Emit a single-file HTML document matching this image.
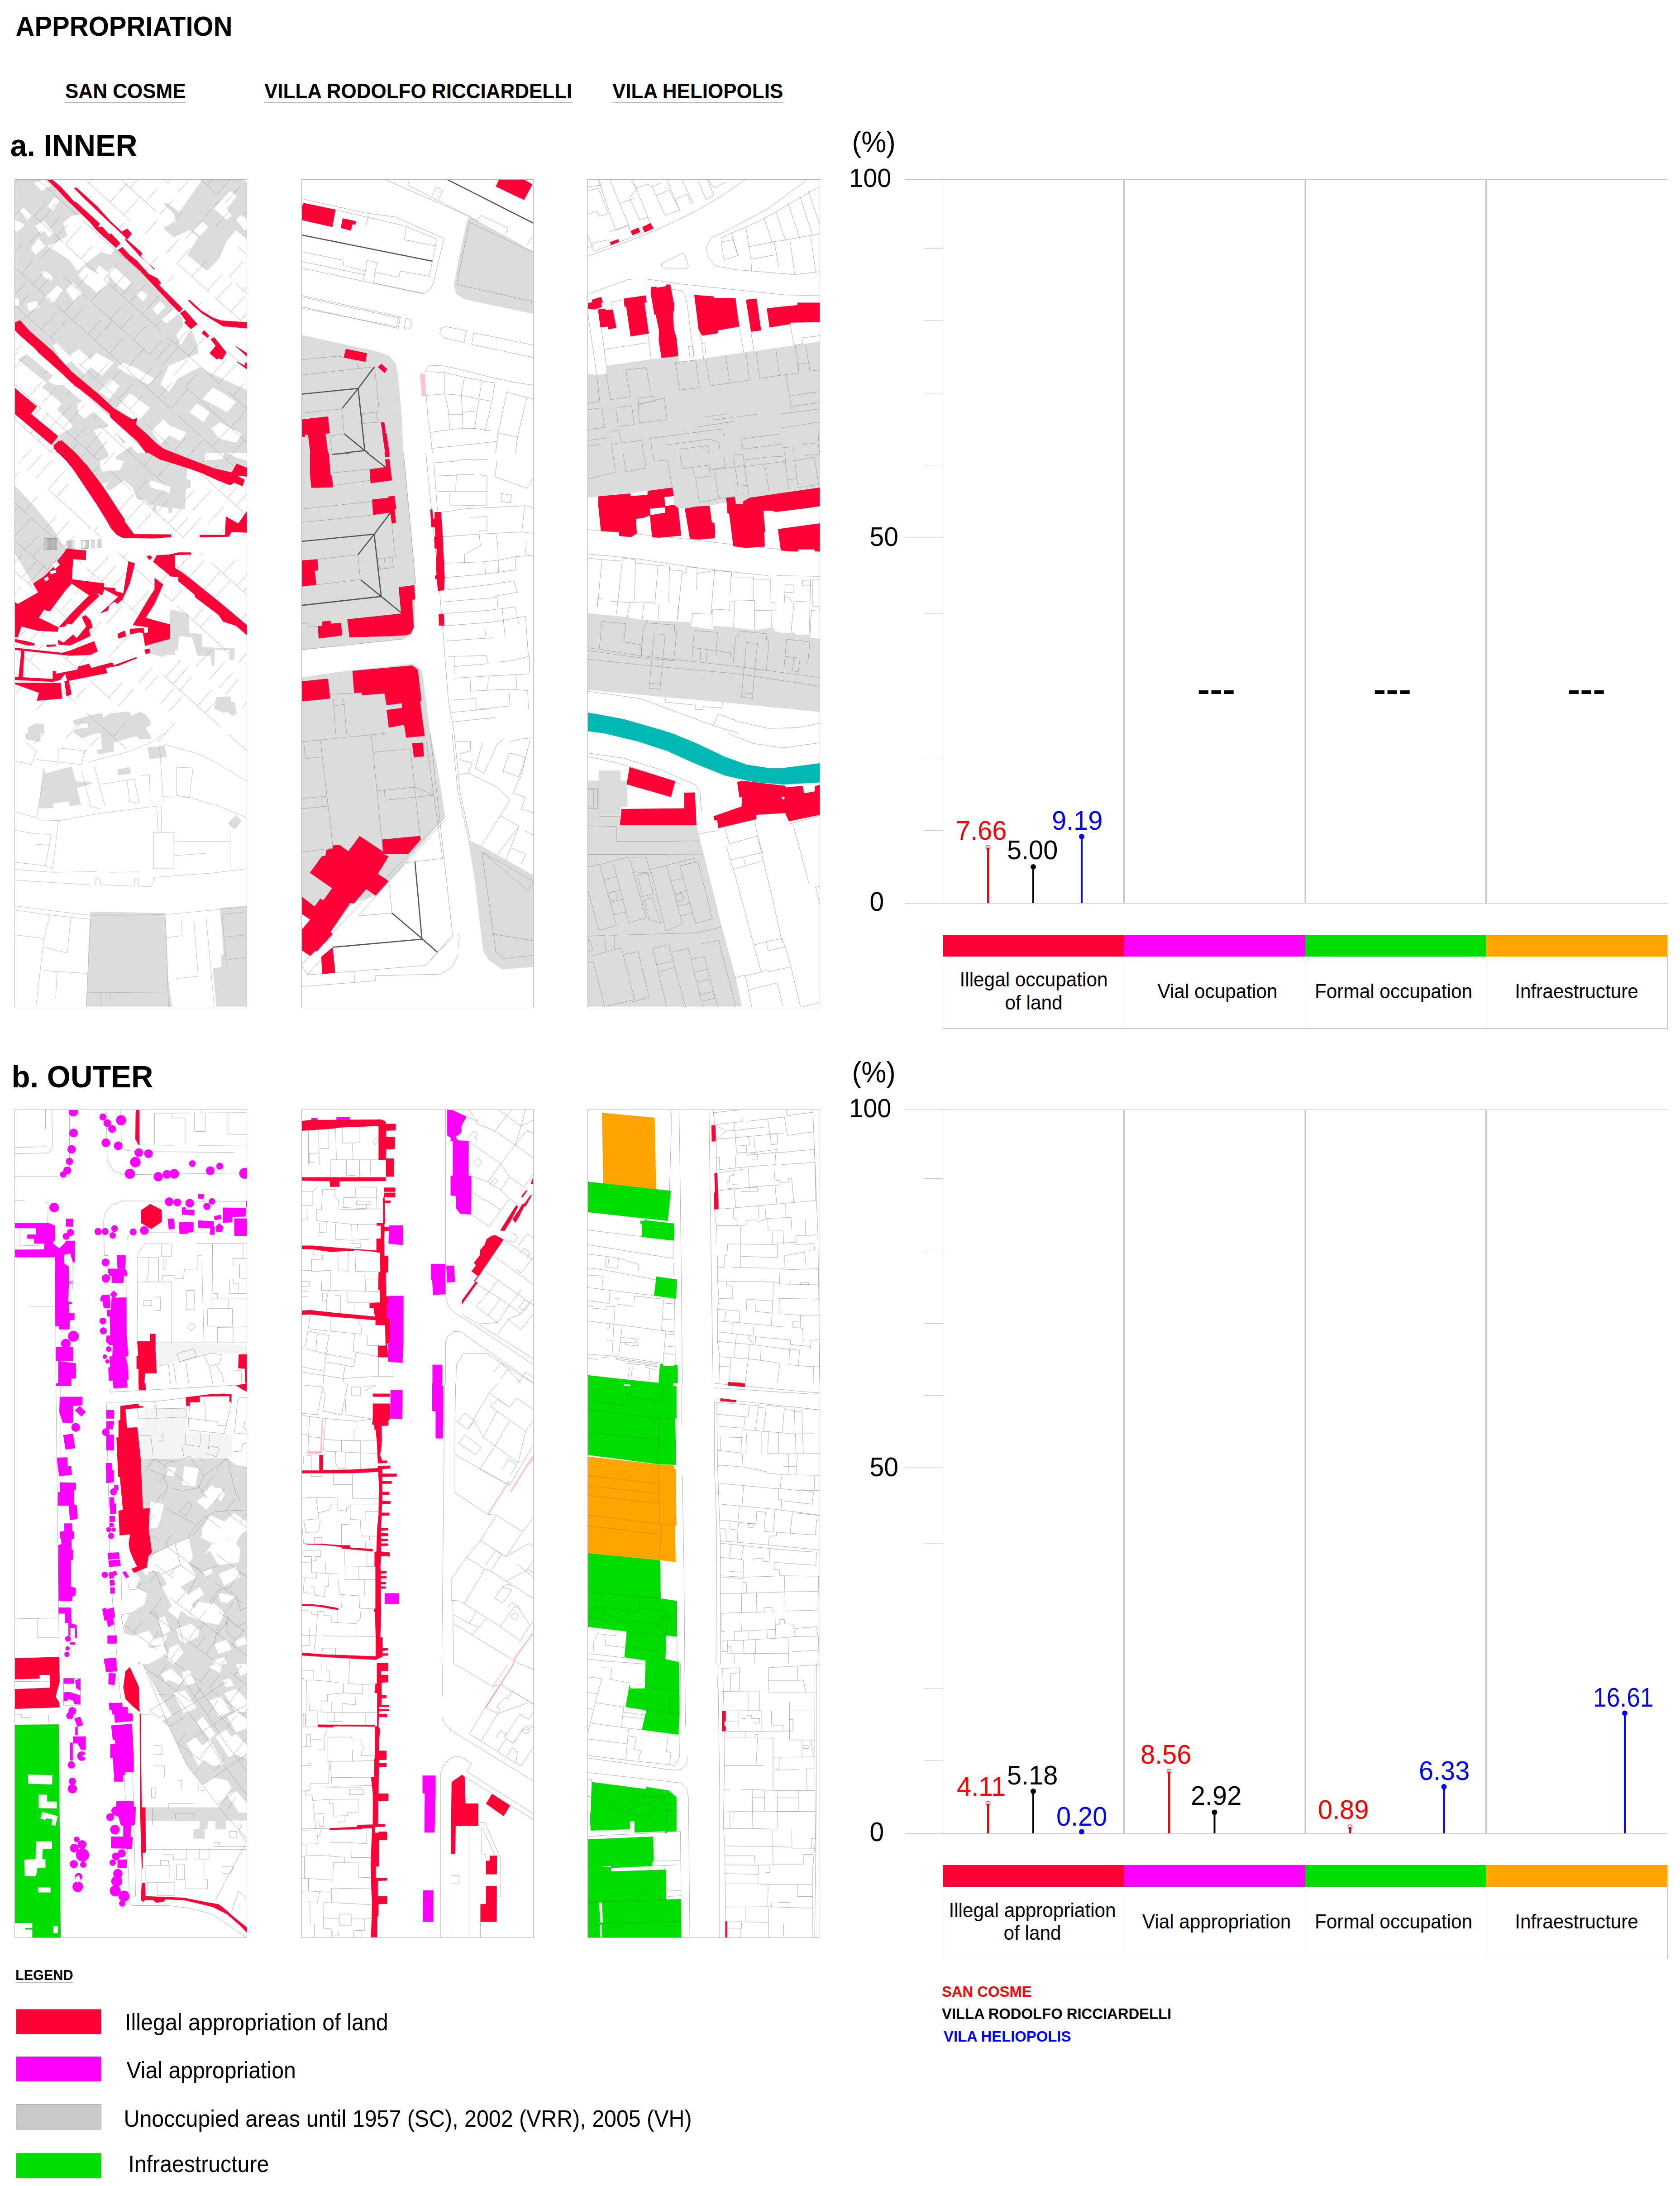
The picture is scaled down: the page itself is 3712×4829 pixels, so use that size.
<!DOCTYPE html>
<html><head><meta charset="utf-8"><title>Appropriation</title>
<style>
html,body{margin:0;padding:0;background:#fff;}
body{width:3712px;height:4829px;overflow:hidden;}
svg{display:block;font-family:"Liberation Sans",sans-serif;}
</style></head><body>
<svg width="3712" height="4829" viewBox="0 0 3712 4829">
<rect width="3712" height="4829" fill="#fff"/>
<text x="34.5" y="78.7" font-size="60.32" font-weight="bold" fill="#000" text-anchor="start" textLength="479.1" lengthAdjust="spacingAndGlyphs">APPROPRIATION</text>
<text x="144" y="217" font-size="45.76" font-weight="bold" fill="#000" text-anchor="start" textLength="266.5" lengthAdjust="spacingAndGlyphs">SAN COSME</text>
<line x1="143" y1="226.5" x2="410" y2="226.5" stroke="#bdbdbd" stroke-width="1.5"/>
<text x="584" y="217" font-size="45.76" font-weight="bold" fill="#000" text-anchor="start" textLength="680.3" lengthAdjust="spacingAndGlyphs">VILLA RODOLFO RICCIARDELLI</text>
<line x1="584" y1="226.5" x2="1266" y2="226.5" stroke="#bdbdbd" stroke-width="1.5"/>
<text x="1353" y="217" font-size="45.76" font-weight="bold" fill="#000" text-anchor="start" textLength="377.3" lengthAdjust="spacingAndGlyphs">VILA HELIOPOLIS</text>
<line x1="1353" y1="226.5" x2="1731" y2="226.5" stroke="#bdbdbd" stroke-width="1.5"/>
<text x="22.5" y="345" font-size="68.64" font-weight="bold" fill="#000" text-anchor="start" textLength="281" lengthAdjust="spacingAndGlyphs">a. INNER</text>
<text x="25.5" y="2402" font-size="68.64" font-weight="bold" fill="#000" text-anchor="start" textLength="313" lengthAdjust="spacingAndGlyphs">b. OUTER</text>
<text x="1882.5" y="336" font-size="64.48" fill="#000" text-anchor="start" textLength="96.4" lengthAdjust="spacingAndGlyphs">(%)</text>
<text x="1876" y="413" font-size="58.24" fill="#000" text-anchor="start" textLength="93.4" lengthAdjust="spacingAndGlyphs">100</text>
<text x="1921.5" y="1206" font-size="59.28" fill="#000" text-anchor="start" textLength="63.4" lengthAdjust="spacingAndGlyphs">50</text>
<text x="1921.5" y="2012" font-size="59.28" fill="#000" text-anchor="start" textLength="31.7" lengthAdjust="spacingAndGlyphs">0</text>
<line x1="2000.5" y1="396.5" x2="3684.5" y2="396.5" stroke="#c6c6c6" stroke-width="1.2"/>
<line x1="2000.5" y1="1995.5" x2="3684.5" y2="1995.5" stroke="#c6c6c6" stroke-width="1.2"/>
<line x1="2000.5" y1="1187" x2="2083" y2="1187" stroke="#c6c6c6" stroke-width="1.2"/>
<line x1="2042" y1="548.5" x2="2083" y2="548.5" stroke="#c6c6c6" stroke-width="1"/>
<line x1="2042" y1="708.5" x2="2083" y2="708.5" stroke="#c6c6c6" stroke-width="1"/>
<line x1="2042" y1="868.5" x2="2083" y2="868.5" stroke="#c6c6c6" stroke-width="1"/>
<line x1="2042" y1="1027.5" x2="2083" y2="1027.5" stroke="#c6c6c6" stroke-width="1"/>
<line x1="2042" y1="1355" x2="2083" y2="1355" stroke="#c6c6c6" stroke-width="1"/>
<line x1="2042" y1="1674.5" x2="2083" y2="1674.5" stroke="#c6c6c6" stroke-width="1"/>
<line x1="2042" y1="1834.5" x2="2083" y2="1834.5" stroke="#c6c6c6" stroke-width="1"/>
<line x1="2083.5" y1="396" x2="2083.5" y2="1996" stroke="#c6c6c6" stroke-width="1.2"/>
<line x1="2483.5" y1="396" x2="2483.5" y2="1996" stroke="#c5c9cc" stroke-width="3"/>
<line x1="2884" y1="396" x2="2884" y2="1996" stroke="#c5c9cc" stroke-width="3"/>
<line x1="3283.5" y1="396" x2="3283.5" y2="1996" stroke="#c5c9cc" stroke-width="3"/>
<rect x="2083" y="2065" width="400.5" height="48" fill="#ff0037"/>
<rect x="2483.5" y="2065" width="400.5" height="48" fill="#ff00ff"/>
<rect x="2884" y="2065" width="399.5" height="48" fill="#00dd00"/>
<rect x="3283.5" y="2065" width="401" height="48" fill="#ffa500"/>
<line x1="2083.5" y1="2113" x2="2083.5" y2="2272.5" stroke="#bdbdbd" stroke-width="1"/>
<line x1="2483.5" y1="2113" x2="2483.5" y2="2272.5" stroke="#bdbdbd" stroke-width="1"/>
<line x1="2883.5" y1="2113" x2="2883.5" y2="2272.5" stroke="#bdbdbd" stroke-width="1"/>
<line x1="3283.5" y1="2113" x2="3283.5" y2="2272.5" stroke="#bdbdbd" stroke-width="1"/>
<line x1="3684.5" y1="2113" x2="3684.5" y2="2272.5" stroke="#bdbdbd" stroke-width="1"/>
<line x1="2083" y1="2272.5" x2="3685" y2="2272.5" stroke="#9c9c9c" stroke-width="1"/>
<text x="2284" y="2179" font-size="43.99" fill="#000" text-anchor="middle" textLength="326.9" lengthAdjust="spacingAndGlyphs">Illegal occupation</text>
<text x="2284" y="2230" font-size="43.99" fill="#000" text-anchor="middle" textLength="127.0" lengthAdjust="spacingAndGlyphs">of land</text>
<text x="2690" y="2205" font-size="43.99" fill="#000" text-anchor="middle" textLength="265.0" lengthAdjust="spacingAndGlyphs">Vial ocupation</text>
<text x="3079" y="2205" font-size="43.99" fill="#000" text-anchor="middle" textLength="348.0" lengthAdjust="spacingAndGlyphs">Formal occupation</text>
<text x="3483.5" y="2205" font-size="43.99" fill="#000" text-anchor="middle" textLength="272.7" lengthAdjust="spacingAndGlyphs">Infraestructure</text>
<circle cx="2183" cy="1872" r="4.6" fill="#fff" stroke="#ff0000" stroke-width="1.3"/>
<line x1="2183" y1="1872.5" x2="2183" y2="1995" stroke="#ff0000" stroke-width="4"/>
<text x="2112" y="1855" font-size="60.01" fill="#ff0000" text-anchor="start" textLength="112.3" lengthAdjust="spacingAndGlyphs">7.66</text>
<line x1="2283" y1="1915" x2="2283" y2="1995" stroke="#000000" stroke-width="4"/>
<circle cx="2283" cy="1915" r="6" fill="#000000"/>
<text x="2225" y="1898" font-size="60.01" fill="#000000" text-anchor="start" textLength="112.3" lengthAdjust="spacingAndGlyphs">5.00</text>
<line x1="2390" y1="1848" x2="2390" y2="1995" stroke="#0000ff" stroke-width="4"/>
<circle cx="2390" cy="1848" r="6" fill="#0000ff"/>
<text x="2324" y="1832.5" font-size="60.01" fill="#0000ff" text-anchor="start" textLength="112.3" lengthAdjust="spacingAndGlyphs">9.19</text>
<text x="2645.5" y="1546" font-size="66" font-weight="bold" fill="#000" text-anchor="start" textLength="83.5" lengthAdjust="spacingAndGlyphs">---</text>
<text x="3034.5" y="1546" font-size="66" font-weight="bold" fill="#000" text-anchor="start" textLength="83.5" lengthAdjust="spacingAndGlyphs">---</text>
<text x="3463.5" y="1546" font-size="66" font-weight="bold" fill="#000" text-anchor="start" textLength="83.5" lengthAdjust="spacingAndGlyphs">---</text>
<text x="1882.5" y="2391" font-size="64.48" fill="#000" text-anchor="start" textLength="96.4" lengthAdjust="spacingAndGlyphs">(%)</text>
<text x="1876" y="2468" font-size="58.24" fill="#000" text-anchor="start" textLength="93.4" lengthAdjust="spacingAndGlyphs">100</text>
<text x="1921.5" y="3261" font-size="59.28" fill="#000" text-anchor="start" textLength="63.4" lengthAdjust="spacingAndGlyphs">50</text>
<text x="1921.5" y="4067" font-size="59.28" fill="#000" text-anchor="start" textLength="31.7" lengthAdjust="spacingAndGlyphs">0</text>
<line x1="2000.5" y1="2451.5" x2="3684.5" y2="2451.5" stroke="#c6c6c6" stroke-width="1.2"/>
<line x1="2000.5" y1="4050.5" x2="3684.5" y2="4050.5" stroke="#c6c6c6" stroke-width="1.2"/>
<line x1="2000.5" y1="3242" x2="2083" y2="3242" stroke="#c6c6c6" stroke-width="1.2"/>
<line x1="2042" y1="2603.5" x2="2083" y2="2603.5" stroke="#c6c6c6" stroke-width="1"/>
<line x1="2042" y1="2763.5" x2="2083" y2="2763.5" stroke="#c6c6c6" stroke-width="1"/>
<line x1="2042" y1="2923.5" x2="2083" y2="2923.5" stroke="#c6c6c6" stroke-width="1"/>
<line x1="2042" y1="3082.5" x2="2083" y2="3082.5" stroke="#c6c6c6" stroke-width="1"/>
<line x1="2042" y1="3410" x2="2083" y2="3410" stroke="#c6c6c6" stroke-width="1"/>
<line x1="2042" y1="3729.5" x2="2083" y2="3729.5" stroke="#c6c6c6" stroke-width="1"/>
<line x1="2042" y1="3889.5" x2="2083" y2="3889.5" stroke="#c6c6c6" stroke-width="1"/>
<line x1="2083.5" y1="2451" x2="2083.5" y2="4051" stroke="#c6c6c6" stroke-width="1.2"/>
<line x1="2483.5" y1="2451" x2="2483.5" y2="4051" stroke="#c5c9cc" stroke-width="3"/>
<line x1="2884" y1="2451" x2="2884" y2="4051" stroke="#c5c9cc" stroke-width="3"/>
<line x1="3283.5" y1="2451" x2="3283.5" y2="4051" stroke="#c5c9cc" stroke-width="3"/>
<rect x="2083" y="4120" width="400.5" height="48" fill="#ff0037"/>
<rect x="2483.5" y="4120" width="400.5" height="48" fill="#ff00ff"/>
<rect x="2884" y="4120" width="399.5" height="48" fill="#00dd00"/>
<rect x="3283.5" y="4120" width="401" height="48" fill="#ffa500"/>
<line x1="2083.5" y1="4168" x2="2083.5" y2="4327.5" stroke="#bdbdbd" stroke-width="1"/>
<line x1="2483.5" y1="4168" x2="2483.5" y2="4327.5" stroke="#bdbdbd" stroke-width="1"/>
<line x1="2883.5" y1="4168" x2="2883.5" y2="4327.5" stroke="#bdbdbd" stroke-width="1"/>
<line x1="3283.5" y1="4168" x2="3283.5" y2="4327.5" stroke="#bdbdbd" stroke-width="1"/>
<line x1="3684.5" y1="4168" x2="3684.5" y2="4327.5" stroke="#bdbdbd" stroke-width="1"/>
<line x1="2083" y1="4327.5" x2="3685" y2="4327.5" stroke="#9c9c9c" stroke-width="1"/>
<text x="2281" y="4234.5" font-size="43.99" fill="#000" text-anchor="middle" textLength="369.2" lengthAdjust="spacingAndGlyphs">Illegal appropriation</text>
<text x="2281" y="4284.5" font-size="43.99" fill="#000" text-anchor="middle" textLength="127.0" lengthAdjust="spacingAndGlyphs">of land</text>
<text x="2688" y="4260" font-size="43.99" fill="#000" text-anchor="middle" textLength="328.4" lengthAdjust="spacingAndGlyphs">Vial appropriation</text>
<text x="3079" y="4260" font-size="43.99" fill="#000" text-anchor="middle" textLength="348.0" lengthAdjust="spacingAndGlyphs">Formal occupation</text>
<text x="3483.5" y="4260" font-size="43.99" fill="#000" text-anchor="middle" textLength="272.7" lengthAdjust="spacingAndGlyphs">Infraestructure</text>
<circle cx="2183" cy="3984" r="4.6" fill="#fff" stroke="#ff0000" stroke-width="1.3"/>
<line x1="2183" y1="3984.5" x2="2183" y2="4050" stroke="#ff0000" stroke-width="4"/>
<text x="2114" y="3967" font-size="60.01" fill="#ff0000" text-anchor="start" textLength="108.0" lengthAdjust="spacingAndGlyphs">4.11</text>
<line x1="2283" y1="3957" x2="2283" y2="4050" stroke="#000000" stroke-width="4"/>
<circle cx="2283" cy="3957" r="6" fill="#000000"/>
<text x="2225" y="3941.5" font-size="60.01" fill="#000000" text-anchor="start" textLength="112.3" lengthAdjust="spacingAndGlyphs">5.18</text>
<line x1="2390" y1="4046.5" x2="2390" y2="4050" stroke="#0000ff" stroke-width="4"/>
<circle cx="2390" cy="4046.5" r="6" fill="#0000ff"/>
<text x="2334" y="4032.5" font-size="60.01" fill="#0000ff" text-anchor="start" textLength="112.3" lengthAdjust="spacingAndGlyphs">0.20</text>
<circle cx="2583" cy="3913" r="4.6" fill="#fff" stroke="#ff0000" stroke-width="1.3"/>
<line x1="2583" y1="3913.5" x2="2583" y2="4050" stroke="#ff0000" stroke-width="4"/>
<text x="2520" y="3896" font-size="60.01" fill="#ff0000" text-anchor="start" textLength="112.3" lengthAdjust="spacingAndGlyphs">8.56</text>
<line x1="2683.5" y1="4003.5" x2="2683.5" y2="4050" stroke="#000000" stroke-width="4"/>
<circle cx="2683.5" cy="4003.5" r="6" fill="#000000"/>
<text x="2631" y="3987" font-size="60.01" fill="#000000" text-anchor="start" textLength="112.3" lengthAdjust="spacingAndGlyphs">2.92</text>
<circle cx="2983" cy="4035.5" r="4.6" fill="#fff" stroke="#ff0000" stroke-width="1.3"/>
<line x1="2983" y1="4036.0" x2="2983" y2="4050" stroke="#ff0000" stroke-width="4"/>
<text x="2912" y="4018" font-size="60.01" fill="#ff0000" text-anchor="start" textLength="112.3" lengthAdjust="spacingAndGlyphs">0.89</text>
<line x1="3190.5" y1="3947" x2="3190.5" y2="4050" stroke="#0000ff" stroke-width="4"/>
<circle cx="3190.5" cy="3947" r="6" fill="#0000ff"/>
<text x="3135" y="3932" font-size="60.01" fill="#0000ff" text-anchor="start" textLength="112.3" lengthAdjust="spacingAndGlyphs">6.33</text>
<line x1="3590" y1="3784.5" x2="3590" y2="4050" stroke="#0000ff" stroke-width="4"/>
<circle cx="3590" cy="3784.5" r="6" fill="#0000ff"/>
<text x="3520" y="3770" font-size="60.01" fill="#0000ff" text-anchor="start" textLength="133.5" lengthAdjust="spacingAndGlyphs">16.61</text>
<text x="2081" y="4410.5" font-size="34.11" font-weight="bold" fill="#ff0000" text-anchor="start" textLength="198.6" lengthAdjust="spacingAndGlyphs">SAN COSME</text>
<text x="2081" y="4460" font-size="34.11" font-weight="bold" fill="#000000" text-anchor="start" textLength="507.2" lengthAdjust="spacingAndGlyphs">VILLA RODOLFO RICCIARDELLI</text>
<text x="2085" y="4509.5" font-size="34.11" font-weight="bold" fill="#0000ff" text-anchor="start" textLength="281.3" lengthAdjust="spacingAndGlyphs">VILA HELIOPOLIS</text>
<text x="34" y="4374" font-size="31.82" font-weight="bold" fill="#000" text-anchor="start" textLength="127.5" lengthAdjust="spacingAndGlyphs">LEGEND</text>
<line x1="34" y1="4379.5" x2="163" y2="4379.5" stroke="#bdbdbd" stroke-width="1.5"/>
<rect x="35.5" y="4438.5" width="188.3" height="54.7" fill="#ff0037"/>
<rect x="35.5" y="4543" width="188.3" height="55" fill="#ff00ff"/>
<rect x="35.5" y="4648.5" width="188" height="55.5" fill="#c9c9c9" stroke="#9e9e9e" stroke-width="1"/>
<rect x="35.5" y="4756.3" width="188.3" height="55.2" fill="#00dd00"/>
<text x="276" y="4485" font-size="51.36" fill="#000" text-anchor="start" textLength="581.8" lengthAdjust="spacingAndGlyphs">Illegal appropriation of land</text>
<text x="279.5" y="4590.5" font-size="51.09" fill="#000" text-anchor="start" textLength="374.3" lengthAdjust="spacingAndGlyphs">Vial appropriation</text>
<text x="273.5" y="4697.5" font-size="51.25" fill="#000" text-anchor="start" textLength="1255.0" lengthAdjust="spacingAndGlyphs">Unoccupied areas until 1957 (SC), 2002 (VRR), 2005 (VH)</text>
<text x="283.5" y="4798" font-size="51.09" fill="#000" text-anchor="start" textLength="310.8" lengthAdjust="spacingAndGlyphs">Infraestructure</text>
<defs><clipPath id="cp_a1"><rect x="32.5" y="396.5" width="513.0" height="1828.0"/></clipPath><clipPath id="cp_a2"><rect x="666.5" y="396.5" width="512.0" height="1828.0"/></clipPath><clipPath id="cp_a3"><rect x="1298.5" y="396.5" width="513.0" height="1828.0"/></clipPath><clipPath id="cp_b1"><rect x="32.5" y="2451.5" width="513.0" height="1829.0"/></clipPath><clipPath id="cp_b2"><rect x="666.5" y="2451.5" width="512.0" height="1829.0"/></clipPath><clipPath id="cp_b3"><rect x="1298.5" y="2451.5" width="513.0" height="1829.0"/></clipPath></defs>
<g clip-path="url(#cp_a1)">
<rect x="32.5" y="396.5" width="513.0" height="1828.0" fill="#fff"/>
<polygon points="32.2,396.1 102.9,396.1 256.2,547.8 309.3,598.6 376.8,670.9 421.8,727.1 437.9,765.7 434.6,807.5 463.6,823.6 545.9,862.1 545.9,1000.0 32.2,1000.0" fill="#dcdcdc"/>
<polygon points="447.5,396.1 545.9,396.1 545.9,486.1 534.3,473.2 521.4,486.1 540.7,508.6 545.9,507.0 545.9,529.5 521.4,508.6 502.1,531.1 482.9,572.9 457.1,598.6 413.8,563.2 437.9,524.6 418.6,508.6 383.2,524.6 360.7,503.8 389.6,489.3 383.2,471.6 360.7,449.1 370.4,449.1 396.1,468.4" fill="#dcdcdc"/>
<polygon points="32.2,1072.3 52.1,1086.8 68.2,1109.3 84.3,1128.6 116.4,1167.1 132.5,1192.9 142.1,1208.9 147.0,1213.8 126.1,1239.5 97.1,1273.2 73.0,1289.3 32.2,1221.8" fill="#dcdcdc"/>
<polygon points="167.9,1000.0 241.8,1000.0 238.6,1009.6 219.3,1019.3 225.7,1041.8 264.3,1038.6 273.9,1019.3 254.6,1012.9 257.9,1000.0 331.8,1000.0 351.1,1012.9 402.5,1030.5 413.8,1033.8 412.1,1057.9 421.8,1061.1 421.8,1077.1 410.5,1080.4 408.9,1125.4 380.0,1122.1 380.0,1133.4 372.0,1133.4 372.0,1122.1 346.2,1117.3 344.6,1130.2 336.6,1128.6 338.2,1115.7 327.0,1114.1 322.1,1106.1 302.9,1102.9 293.2,1077.1 273.9,1061.1 248.2,1080.4 238.6,1083.6 232.1,1075.5 241.8,1064.3 225.7,1069.1 212.9,1064.3 193.6,1028.9" fill="#dcdcdc"/>
<polygon points="450.7,1019.3 460.4,1000.0 495.7,1000.0 492.5,1012.9 476.4,1009.6 470.0,1022.5" fill="#dcdcdc"/>
<polygon points="375.2,1348.8 383.2,1347.1 417.0,1356.8 418.6,1398.6 445.9,1400.2 447.5,1429.1 473.2,1430.7 518.2,1432.3 518.2,1458.0 507.0,1458.0 507.0,1435.5 474.8,1435.5 473.2,1472.5 468.4,1470.9 465.2,1448.4 436.3,1448.4 425.0,1408.2 396.1,1405.0 392.9,1435.5 386.4,1437.1 386.4,1446.8 367.1,1446.8 367.1,1411.4 375.2,1411.4" fill="#dcdcdc"/>
<polygon points="328.6,1424.3 367.1,1411.4 367.1,1446.8 360.7,1451.6 331.8,1443.6 331.8,1432.3" fill="#dcdcdc"/>
<polygon points="161.4,1591.4 206.4,1578.6 225.7,1575.4 228.9,1585.0 245.0,1575.4 286.8,1572.1 290.0,1581.8 309.3,1572.1 322.1,1578.6 331.8,1591.4 333.4,1601.1 322.1,1607.5 328.6,1620.0 161.4,1620.0 166.2,1610.7 193.6,1607.5 193.6,1597.9 164.6,1601.1" fill="#dcdcdc"/>
<polygon points="61.8,1607.5 77.9,1597.9 97.1,1599.5 97.1,1620.0 61.8,1620.0" fill="#dcdcdc"/>
<polygon points="478.0,1540.0 510.2,1538.4 510.2,1549.6 518.2,1551.2 523.0,1575.4 515.0,1581.8 498.9,1570.5 495.7,1575.4 473.2,1565.7" fill="#dcdcdc"/>
<polygon points="55.4,1620.0 89.1,1620.0 89.1,1639.3 57.0,1632.9" fill="#dcdcdc"/>
<polygon points="166.2,1620.0 212.9,1620.0 180.7,1631.2" fill="#dcdcdc"/>
<polygon points="222.5,1620.0 331.8,1620.0 333.4,1632.9 306.1,1632.9 302.9,1626.4 283.6,1631.2 251.4,1639.3 251.4,1660.2 216.1,1666.6 212.9,1657.0 225.7,1653.8 224.1,1636.1" fill="#dcdcdc"/>
<polygon points="325.4,1650.5 363.9,1647.3 368.8,1671.4 330.2,1677.2" fill="#dcdcdc"/>
<polygon points="95.5,1694.6 100.4,1708.4 158.2,1693.3 167.9,1726.1 201.6,1727.7 203.2,1730.9 169.5,1740.5 179.1,1777.5 155.0,1780.7 151.8,1771.1 118.0,1774.3 118.0,1785.5 85.9,1785.5 92.3,1726.1" fill="#dcdcdc"/>
<polygon points="259.5,1699.7 286.8,1693.9 289.4,1708.4 261.1,1713.2" fill="#dcdcdc"/>
<polygon points="503.8,1819.3 520.8,1800.6 534.3,1812.9 518.9,1832.8" fill="#dcdcdc"/>
<polygon points="199.4,2013.8 365.5,2017.0 372.0,2166.4 380.6,2223.6 190.4,2223.6 195.2,2102.1" fill="#dcdcdc"/>
<polygon points="486.1,2005.7 545.9,2000.9 545.9,2223.6 478.0,2223.6 470.0,2139.1 489.3,2135.9 487.7,2110.2 494.1,2108.6" fill="#dcdcdc"/>
<polygon points="354.3,1000.1 545.9,1000.1 545.9,1033.9 523.0,1025.2 511.8,1050.9 470.0,1033.2 402.5,1007.5 383.2,1000.1" fill="#dcdcdc"/>
<polygon points="473.2,460.4 508.6,421.8 523.0,433.0 502.1,460.4 511.8,476.4 500.5,486.1" fill="#ffffff"/>
<polygon points="426.6,508.6 447.5,489.3 460.4,502.1 441.1,521.4" fill="#ffffff"/>
<polygon points="531.1,396.1 545.9,396.1 545.9,405.7" fill="#ffffff"/>
<polygon points="74.6,404.1 95.5,396.7 113.2,408.9 92.3,421.8" fill="#ffffff"/>
<polygon points="105.2,455.5 121.3,434.6 130.9,444.3 116.4,466.1" fill="#ffffff"/>
<polygon points="44.1,465.2 52.1,458.8 69.8,476.4 60.2,486.1" fill="#ffffff"/>
<polygon points="32.2,486.1 55.4,495.7 39.3,511.8 32.2,508.6" fill="#ffffff"/>
<polygon points="77.9,498.9 97.1,487.7 119.6,515.0 106.8,524.6 98.8,510.2 89.1,515.0" fill="#ffffff"/>
<polygon points="138.9,492.5 158.2,476.4 187.1,473.2 212.9,508.6 256.2,547.8 245.0,563.2 222.5,556.8 193.6,579.3 171.1,598.6 151.8,572.9 116.4,550.4 103.6,543.9 126.1,534.3 148.6,521.4" fill="#ffffff"/>
<polygon points="68.2,548.8 84.3,526.2 89.1,531.1 100.4,543.9 77.9,563.2" fill="#ffffff"/>
<polygon points="90.7,601.8 98.8,597.0 116.4,611.4 113.2,621.1 97.1,611.4" fill="#ffffff"/>
<polygon points="172.7,608.2 187.1,588.9 209.6,601.8 219.3,585.7 238.6,601.8 251.4,588.9 277.1,611.4 290.0,624.3 273.9,640.4 257.9,627.5 238.6,605.0 241.8,624.3 212.9,646.8 200.0,633.9 190.4,627.5" fill="#ffffff"/>
<polygon points="145.4,640.4 161.4,624.3 182.3,646.8 163.0,666.1" fill="#ffffff"/>
<polygon points="100.4,656.4 126.1,630.7 138.9,640.4 116.4,670.9" fill="#ffffff"/>
<polygon points="58.6,670.9 81.1,664.5 87.5,678.9 63.4,687.0" fill="#ffffff"/>
<polygon points="32.2,659.6 40.9,659.6 42.5,675.7 32.2,675.7" fill="#ffffff"/>
<polygon points="301.2,650.0 312.5,640.4 327.0,653.2 315.7,666.1" fill="#ffffff"/>
<polygon points="336.6,682.1 354.3,666.1 365.5,677.3 347.9,696.6" fill="#ffffff"/>
<polygon points="355.9,704.6 383.2,683.8 397.7,691.1 367.1,714.3" fill="#ffffff"/>
<polygon points="399.3,693.4 421.8,727.1 399.3,762.5 389.6,740.0 405.7,717.5" fill="#ffffff"/>
<polygon points="32.2,730.4 39.3,736.8 84.3,778.6 155.0,842.9 245.0,923.2 322.1,1000.0 164.6,1000.0 127.7,965.0 68.2,913.6 81.1,897.5 32.2,857.3" fill="#ffffff"/>
<polygon points="116.4,762.5 126.1,756.1 155.0,785.0 174.3,770.5 200.0,794.6 212.9,778.6 251.4,801.1 225.7,830.0 200.0,810.7 187.1,826.8 158.2,797.9 142.1,807.5" fill="#ffffff"/>
<polygon points="257.9,810.7 273.9,801.1 302.9,813.9 341.4,836.4 328.6,849.3 302.9,836.4 277.1,823.6" fill="#ffffff"/>
<polygon points="373.6,807.5 405.7,794.6 434.6,781.8 447.5,807.5 392.9,836.4 373.6,865.4 354.3,849.3" fill="#ffffff"/>
<polygon points="434.6,762.5 470.0,740.0 545.9,817.1 545.9,830.0 521.4,836.4 463.6,823.6" fill="#ffffff"/>
<polygon points="219.3,865.4 245.0,836.4 264.3,852.5 241.8,881.4" fill="#ffffff"/>
<polygon points="257.9,900.7 286.8,868.6 331.8,900.7 309.3,926.4 293.2,926.4" fill="#ffffff"/>
<polygon points="335.0,952.1 360.7,926.4 373.6,939.3 412.1,955.4 399.3,974.6 373.6,961.8 354.3,981.1" fill="#ffffff"/>
<polygon points="418.6,910.4 434.6,891.1 463.6,910.4 450.7,932.9" fill="#ffffff"/>
<polygon points="447.5,881.4 470.0,855.7 492.5,868.6 521.4,887.9 502.1,910.4" fill="#ffffff"/>
<polygon points="466.8,945.7 486.1,932.9 534.3,958.6 521.4,977.9 482.9,968.2" fill="#ffffff"/>
<polygon points="171.1,923.2 190.4,900.7 212.9,920.0 193.6,942.5" fill="#ffffff"/>
<polygon points="212.9,961.8 232.1,942.5 264.3,968.2 245.0,987.5" fill="#ffffff"/>
<polygon points="333.4,1061.1 376.8,1075.5 375.2,1088.4 333.4,1077.1 328.6,1069.1" fill="#ffffff"/>
<polygon points="32.2,914.3 68.2,914.3 93.9,965.7 113.2,981.8 119.6,991.4 145.4,1017.1 187.1,1075.0 238.6,1149.9 106.8,1149.9 68.2,1110.4 32.2,1071.8" fill="#ffffff"/>
<polygon points="453.9,1001.1 495.7,1001.1 492.5,1013.9 450.7,1017.1" fill="#ffffff"/>
<polygon points="502.1,1000.1 545.9,1000.1 545.9,1017.1 521.4,1010.7" fill="#ffffff"/>
<polygon points="39.3,794.6 58.6,781.8 116.4,830.0 103.6,846.1" fill="#dcdcdc"/>
<polygon points="92.3,855.7 106.8,842.9 148.6,862.1 126.1,881.4" fill="#dcdcdc"/>
<polygon points="135.7,981.1 164.6,942.5 225.7,900.7 245.0,923.2 200.0,958.6 174.3,1000.0 148.6,1000.0" fill="#dcdcdc"/>
<polygon points="127.7,962.5 155.0,946.4 161.4,940.0 126.1,904.6 135.7,891.8 93.9,850.0 161.4,850.0 187.1,866.1 212.9,885.4 241.8,912.7 245.0,920.7 264.3,936.8 309.3,975.4 328.6,1001.1 328.6,1004.3 167.9,1004.3 135.7,972.1" fill="#dcdcdc"/>
<polygon points="171.1,891.8 193.6,882.1 216.1,904.6 200.0,914.3 187.1,925.5 172.7,912.7" fill="#ffffff"/>
<polygon points="206.4,949.6 245.0,940.0 270.7,978.6 302.9,975.4 257.9,1007.5 241.8,1007.5 228.9,985.0" fill="#ffffff"/>
<path d="M97.8 1189.6 L97.8 1213.8 M99.7 1189.6 L99.7 1213.8 M101.6 1189.6 L101.6 1213.8 M103.6 1189.6 L103.6 1213.8 M105.5 1189.6 L105.5 1213.8 M107.4 1189.6 L107.4 1213.8 M109.4 1189.6 L109.4 1213.8 M111.3 1189.6 L111.3 1213.8 M113.2 1189.6 L113.2 1213.8 M115.1 1189.6 L115.1 1213.8 M117.1 1189.6 L117.1 1213.8 M119.0 1189.6 L119.0 1213.8 M120.9 1189.6 L120.9 1213.8 M122.9 1189.6 L122.9 1213.8 M124.8 1189.6 L124.8 1213.8 M97.8 1189.6 L126.1 1189.6 M97.8 1213.8 L126.1 1213.8 M147.9 1194.8 L147.9 1212.1 M149.9 1194.8 L149.9 1212.1 M151.8 1194.8 L151.8 1212.1 M153.7 1194.8 L153.7 1212.1 M155.6 1194.8 L155.6 1212.1 M157.6 1194.8 L157.6 1212.1 M159.5 1194.8 L159.5 1212.1 M161.4 1194.8 L161.4 1212.1 M163.4 1194.8 L163.4 1212.1 M165.3 1194.8 L165.3 1212.1 M147.9 1194.8 L166.2 1194.8 M147.9 1212.1 L166.2 1212.1 M179.8 1193.5 L179.8 1211.5 M181.7 1193.5 L181.7 1211.5 M183.6 1193.5 L183.6 1211.5 M185.5 1193.5 L185.5 1211.5 M187.5 1193.5 L187.5 1211.5 M189.4 1193.5 L189.4 1211.5 M191.3 1193.5 L191.3 1211.5 M193.2 1193.5 L193.2 1211.5 M195.2 1193.5 L195.2 1211.5 M179.8 1193.5 L195.2 1193.5 M179.8 1211.5 L195.2 1211.5 M201.9 1192.9 L201.9 1210.5 M203.9 1192.9 L203.9 1210.5 M205.8 1192.9 L205.8 1210.5 M207.7 1192.9 L207.7 1210.5 M209.6 1192.9 L209.6 1210.5 M201.9 1192.9 L209.6 1192.9 M201.9 1210.5 L209.6 1210.5 M216.1 1192.2 L216.1 1210.5 M218.0 1192.2 L218.0 1210.5 M219.9 1192.2 L219.9 1210.5 M221.9 1192.2 L221.9 1210.5 M223.8 1192.2 L223.8 1210.5 M216.1 1192.2 L224.4 1192.2 M216.1 1210.5 L224.4 1210.5" fill="none" stroke="#707070" stroke-width="0.6"/>
<path d="M32.2 1944.0 L142.1 1951.1 L200.0 1954.3 M32.2 2000.9 L116.4 2012.1 L200.0 2021.8 L277.1 2021.8 L365.5 2020.2 L470.0 2010.5 L545.9 2002.5 M32.2 2010.5 L116.4 2021.8 L200.0 2030.8 M339.2 1838.6 L384.2 1838.6 L384.2 1918.9 L339.2 1918.9 L339.2 1838.6 M384.2 1859.5 L508.6 1858.5 M508.6 1812.9 L508.6 1914.1 M384.2 1890.0 L453.9 1885.2 M129.3 1812.9 L174.3 1804.8 L232.1 1795.2 L346.2 1780.7 L349.5 1838.6 M355.9 1777.5 L356.9 1838.6 M32.2 1904.5 L100.4 1912.5 L116.4 1918.9 L129.3 1812.9 M192.0 2193.1 L371.3 2191.5 M223.1 2193.1 L223.1 2223.6 M243.4 2193.1 L243.4 2213.0 M200.0 2030.8 L192.0 2193.1 L190.4 2223.6 M365.5 2028.2 L371.3 2191.5 L372.6 2223.6 M545.9 1918.9 L470.0 1928.6 L402.5 1933.4 L339.8 1938.2 L338.2 1951.1 L333.4 1959.1 L305.4 1957.5 L305.4 1939.8 L298.0 1939.8 L296.4 1957.5 L222.5 1954.3 L220.9 1939.8 L212.2 1939.8 L211.2 1954.3 M32.2 1920.5 L116.4 1927.0 L212.9 1925.4 M241.8 1927.0 L309.3 1926.0 M32.2 1681.1 L68.2 1689.1 L81.1 1658.6 L55.4 1639.3 M79.5 1677.9 L180.7 1689.1 L187.1 1658.6 L129.3 1652.1 L127.7 1689.1 M193.6 1684.3 L290.0 1658.6 L335.0 1639.3 L362.3 1620.0 M362.3 1644.1 L437.9 1665.0 L476.4 1684.3 L545.9 1726.1 M32.2 1793.6 L81.1 1806.4 L93.9 1726.1 M81.1 1811.2 L129.3 1812.9 M32.2 1833.8 L77.9 1841.8 L113.2 1843.4 L100.4 1912.5 M74.6 1864.3 L110.0 1867.5 M32.2 2065.2 L97.1 2073.2 L110.0 2021.8 M97.1 2073.2 L79.5 2223.6 M156.6 2025.0 L148.6 2105.4 L97.1 2092.5 M95.5 2143.9 L193.6 2150.4 M126.1 2145.5 L122.9 2205.0 M400.9 2028.2 L402.5 2066.8 L367.1 2071.6 M428.2 2034.6 L436.3 2134.3 L437.9 2156.8 L389.6 2161.6 M455.5 2028.2 L465.2 2134.3 L473.2 2223.6 M490.9 2020.2 L545.9 2013.8 M495.7 2070.0 L545.9 2065.2 M500.5 2119.8 L545.9 2115.0 M490.9 2020.2 L500.5 2134.3 M389.6 1694.6 L426.6 1696.5 L418.6 1761.4 L389.6 1756.6 L389.6 1694.6 M362.3 1759.8 L418.6 1761.4 L482.9 1780.7 L545.9 1806.4 M310.9 1713.2 L330.2 1711.6 L331.8 1769.5 L360.7 1769.5 L352.7 1650.5 M208.0 1692.3 L232.1 1780.7 M180.7 1702.0 L200.0 1780.7 L222.5 1787.1 M222.5 1732.5 L296.4 1721.2 L307.7 1774.3 L286.8 1771.1 L280.4 1722.9" fill="none" stroke="#a6a6a6" stroke-width="0.7"/>
<path d="M74.5 1643.5L98.0 1617.5 M35.5 1531.6L59.2 1505.4 M78.3 1570.4L115.0 1529.9 M145.5 1631.3L181.2 1591.8 M183.5 1665.6L218.3 1627.1 M-15.8 1387.2L95.4 1487.9 M106.9 1498.3L168.9 1554.5 M191.0 1574.5L279.7 1654.8 M26.2 1425.3L57.1 1391.2 M43.0 1440.5L81.7 1397.8 M63.8 1459.3L96.1 1423.6 M142.7 1530.8L174.8 1495.3 M162.4 1548.6L189.5 1518.7 M249.4 1627.3L278.1 1595.6 M-9.5 1314.5L61.4 1378.6 M138.4 1448.4L194.2 1498.9 M198.6 1502.8L245.1 1544.9 M12.7 1334.5L44.6 1299.3 M32.9 1352.8L60.4 1322.5 M57.6 1375.2L91.7 1337.6 M71.2 1387.5L110.2 1344.4 M89.8 1404.3L122.1 1368.6 M146.2 1455.4L185.4 1412.1 M169.3 1476.3L199.7 1442.6 M192.3 1497.2L217.8 1469.1 M240.4 1540.7L269.9 1508.0 M261.5 1559.8L296.1 1521.6 M348.7 1638.8L386.4 1597.2 M-4.1 1228.8L154.5 1372.3 M22.9 1253.2L48.4 1225.0 M48.0 1276.0L78.8 1242.0 M62.8 1289.4L101.2 1247.0 M83.9 1308.5L110.8 1278.8 M103.6 1326.2L127.6 1299.6 M131.6 1351.7L157.9 1322.6 M160.6 1377.9L188.9 1346.6 M192.5 1406.7L223.9 1372.0 M241.2 1450.9L277.7 1410.5 M305.4 1509.0L337.0 1474.0 M321.6 1523.6L349.8 1492.5 M354.9 1553.8L385.0 1520.5 M373.7 1570.8L401.0 1540.7 M22.9 1185.5L139.2 1290.8 M361.5 1492.1L488.1 1606.7 M504.7 1621.8L647.2 1750.8 M0.1 1164.9L40.2 1120.6 M27.8 1189.9L68.1 1145.3 M55.6 1215.1L83.5 1184.3 M72.0 1230.0L109.4 1188.6 M103.9 1258.9L130.7 1229.3 M165.3 1314.5L203.0 1272.9 M197.1 1343.2L226.4 1310.8 M234.9 1377.5L268.3 1340.6 M275.1 1413.8L308.8 1376.6 M365.6 1495.8L398.1 1459.9 M382.4 1511.0L416.4 1473.5 M397.5 1524.7L423.9 1495.5 M436.0 1559.5L467.4 1524.9 M453.5 1575.4L477.0 1549.5 M544.3 1657.6L575.4 1623.3 M-40.6 1044.8L61.8 1137.5 M66.8 1142.1L179.0 1243.6 M190.4 1254.0L304.5 1357.2 M313.5 1365.4L366.6 1413.5 M4.2 1085.4L43.0 1042.6 M53.2 1129.7L82.6 1097.2 M97.7 1170.0L124.2 1140.7 M119.0 1189.3L152.9 1151.9 M141.0 1209.2L164.5 1183.2 M167.1 1232.9L191.0 1206.6 M205.0 1267.2L240.6 1227.9 M224.4 1284.7L256.9 1248.8 M243.5 1302.0L276.5 1265.6 M292.1 1346.1L329.5 1304.8 M352.2 1400.5L382.2 1367.3 M432.9 1473.5L470.2 1432.4 M462.7 1500.5L497.6 1461.9 M483.8 1519.6L514.6 1485.6 M498.4 1532.8L527.7 1500.5 M533.7 1564.8L563.8 1531.5 M109.1 1083.5L201.5 1167.2 M209.0 1174.0L260.2 1220.3 M261.2 1221.2L379.8 1328.6 M390.8 1338.5L506.0 1442.8 M41.7 1022.5L69.2 992.1 M60.6 1039.6L91.9 1005.1 M79.1 1056.3L116.3 1015.3 M106.7 1081.3L148.1 1035.5 M124.8 1097.7L151.1 1068.7 M208.1 1173.2L237.6 1140.6 M249.1 1210.3L283.4 1172.5 M272.5 1231.5L311.9 1187.9 M344.3 1296.5L383.4 1253.3 M379.7 1328.5L403.6 1302.1 M425.7 1370.2L450.9 1342.3 M442.8 1385.6L467.9 1357.9 M527.9 1462.7L555.6 1432.1 M-20.7 877.6L133.4 1017.1 M146.9 1029.4L236.0 1110.0 M315.9 1182.4L467.9 1320.0 M483.3 1334.0L566.1 1408.9 M14.2 909.2L38.7 882.2 M31.5 924.9L59.9 893.5 M52.0 943.4L90.6 900.9 M67.4 957.3L106.4 914.3 M85.2 973.5L122.9 931.7 M112.2 997.9L136.4 971.2 M135.3 1018.9L171.7 978.8 M155.2 1036.9L190.4 998.0 M186.5 1065.2L217.0 1031.6 M259.4 1131.2L294.9 1092.0 M280.0 1149.9L317.2 1108.9 M301.8 1169.6L334.2 1133.8 M349.0 1212.3L380.8 1177.2 M395.1 1254.1L434.7 1210.4 M418.2 1275.0L450.9 1238.9 M449.8 1303.6L486.7 1262.9 M472.1 1323.8L507.8 1284.3 M528.1 1374.5L555.5 1344.2 M-58.1 767.6L90.2 901.9 M99.8 910.6L219.9 1019.3 M239.1 1036.7L292.0 1084.6 M296.0 1088.2L449.6 1227.3 M467.4 1243.4L570.8 1337.0 M0.2 820.4L40.4 776.0 M14.2 833.1L55.2 787.9 M63.1 877.3L92.6 844.8 M86.4 898.4L123.3 857.7 M123.6 932.1L157.2 895.1 M139.1 946.1L176.8 904.5 M165.6 970.2L189.7 943.6 M190.3 992.5L225.5 953.7 M206.6 1007.3L236.4 974.3 M228.2 1026.8L254.6 997.7 M298.7 1090.7L324.9 1061.8 M330.0 1119.0L363.2 1082.4 M346.0 1133.4L372.4 1104.3 M371.2 1156.3L401.3 1123.0 M388.9 1172.3L416.0 1142.3 M405.0 1186.9L444.2 1143.6 M493.3 1266.8L520.9 1236.3 M523.3 1294.0L551.5 1262.8 M537.3 1306.6L570.1 1270.4 M219.3 939.2L366.8 1072.8 M36.5 773.7L59.9 747.8 M96.0 827.6L121.2 799.7 M146.3 873.1L186.5 828.7 M179.5 903.2L204.3 875.7 M206.6 927.8L247.4 882.7 M228.0 947.1L262.9 908.6 M249.6 966.7L285.3 927.3 M283.1 997.0L313.1 963.8 M318.1 1028.7L356.6 986.1 M346.6 1054.5L378.1 1019.6 M406.1 1108.3L430.2 1081.7 M426.6 1126.9L467.3 1082.0 M459.7 1156.9L493.8 1119.3 M485.9 1180.6L516.4 1146.8 M515.8 1207.7L544.3 1176.1 M-56.7 593.6L99.0 734.5 M104.4 739.4L157.0 787.1 M173.8 802.3L298.5 915.2 M316.4 931.4L374.0 983.5 M388.3 996.5L547.2 1140.4 M21.3 664.3L56.2 625.8 M37.7 679.1L62.3 652.0 M61.0 700.1L99.0 658.1 M90.9 727.3L125.8 688.8 M111.8 746.2L145.5 708.9 M179.2 807.2L203.2 780.7 M209.8 834.9L242.4 798.9 M232.5 855.5L267.4 817.0 M261.9 882.1L292.6 848.2 M286.6 904.4L314.2 874.0 M385.9 994.3L411.8 965.8 M409.3 1015.5L445.6 975.5 M432.7 1036.7L459.6 1007.0 M455.0 1056.9L481.9 1027.1 M484.6 1083.7L516.0 1049.1 M502.3 1099.8L529.4 1069.9 M521.6 1117.2L557.7 1077.3 M6.7 568.1L158.3 705.4 M160.7 707.5L275.1 811.1 M279.5 815.1L377.9 904.3 M392.1 917.0L520.2 1033.0 M521.7 1034.4L651.8 1152.3 M16.2 576.8L50.4 539.0 M47.3 604.9L71.7 577.9 M72.7 627.9L103.4 594.1 M86.2 640.1L110.1 613.8 M141.5 690.1L176.7 651.3 M159.4 706.4L184.8 678.3 M194.4 738.1L224.2 705.1 M209.8 752.0L248.6 709.1 M241.9 781.1L272.0 747.9 M278.6 814.3L319.7 768.8 M309.0 841.8L333.8 814.4 M324.8 856.1L359.1 818.3 M349.7 878.7L380.5 844.6 M376.6 903.0L416.6 858.8 M469.0 986.7L504.7 947.2 M501.1 1015.8L540.5 972.4 M541.6 1052.4L569.6 1021.5 M139.1 609.5L195.3 660.4 M204.4 668.7L330.4 782.8 M409.8 854.7L552.8 984.1 M13.7 496.0L43.7 462.9 M63.0 540.7L90.5 510.3 M92.9 567.7L132.1 524.4 M168.3 636.0L194.8 606.7 M200.8 665.4L225.8 637.9 M243.6 704.1L268.4 676.8 M267.0 725.3L294.1 695.3 M295.0 750.7L320.6 722.4 M330.2 782.5L356.9 753.0 M343.7 794.8L376.5 758.6 M357.6 807.4L394.4 766.7 M382.8 830.2L415.3 794.4 M409.6 854.4L435.7 825.6 M509.3 944.8L543.6 906.9 M542.7 974.9L570.1 944.7 M74.7 476.6L140.6 536.3 M146.2 541.4L218.6 607.0 M230.3 617.5L354.9 730.3 M371.3 745.2L489.7 852.3 M504.6 865.8L643.6 991.7 M-4.2 405.2L33.1 363.9 M15.8 423.3L54.1 380.9 M75.2 477.1L102.2 447.2 M88.8 489.4L125.4 449.0 M108.2 507.0L131.7 481.0 M125.4 522.5L148.9 496.5 M143.8 539.2L180.1 499.1 M179.0 571.1L204.5 542.9 M229.7 617.0L262.6 580.6 M250.1 635.5L282.2 600.0 M269.2 652.7L294.2 625.1 M286.1 668.0L320.9 629.7 M314.9 694.1L352.7 652.4 M344.4 720.8L376.8 685.1 M387.7 760.0L413.9 731.0 M416.4 786.0L452.8 745.7 M465.9 830.8L500.0 793.2 M483.5 846.7L521.5 804.8 M514.4 874.7L539.5 846.9 M542.4 900.1L568.4 871.4 M-21.5 301.9L113.9 424.4 M116.2 426.6L169.0 474.3 M180.8 485.0L323.8 614.5 M327.7 618.0L462.7 740.2 M470.2 747.0L529.2 800.4 M166.0 471.7L201.4 432.7 M204.1 506.1L233.6 473.5 M235.6 534.7L274.3 491.9 M314.0 605.6L349.3 566.7 M353.9 641.7L383.5 609.1 M417.2 699.1L446.8 666.4 M436.1 716.2L465.4 683.7 M468.3 745.4L493.0 718.1 M498.1 772.3L529.9 737.2 M189.5 398.2L289.3 488.6 M390.7 580.5L463.2 646.1 M474.7 656.5L539.9 715.5 M196.9 404.9L232.3 365.8 M243.0 446.7L281.9 403.8 M273.9 474.7L309.6 435.3 M320.3 516.7L347.1 487.2 M367.3 559.2L396.6 526.9 M391.3 580.9L421.3 547.8 M424.4 611.0L457.5 574.5 M458.4 641.7L490.5 606.3 M479.1 660.5L513.6 622.4 M509.9 688.3L540.0 655.0 M531.8 708.2L571.8 664.0 M255.1 385.8L344.1 466.4 M520.6 626.2L682.3 772.6 M287.3 415.0L316.9 382.2 M321.3 445.8L347.2 417.1 M352.7 474.2L379.5 444.6 M377.1 496.3L403.6 467.1 M411.1 527.1L448.8 485.5 M505.6 612.6L538.7 576.0 M537.9 641.8L563.1 614.0 M296.7 337.8L373.1 407.0 M526.1 545.5L688.1 692.2 M370.2 404.4L406.1 364.7 M393.1 425.1L417.8 397.8 M452.2 478.6L484.8 442.7 M476.4 500.5L512.0 461.2 M376.3 336.2L478.5 428.7 M444.1 397.6L471.4 367.4 M457.5 409.7L482.6 382.0 M479.0 429.2L511.6 393.1 M498.7 447.0L531.5 410.8 M533.9 478.8L566.5 442.7 M533.4 394.9L664.5 513.5" fill="none" stroke="#8c8c8c" stroke-width="0.7"/>
<polygon points="116.4,396.1 155.0,396.1 212.9,453.9 269.1,511.8 310.9,560.0 341.4,593.8 415.4,662.9 447.5,693.4 476.4,711.1 492.5,720.7 545.9,725.5 545.9,780.2 518.2,762.5 500.5,778.6 473.2,744.8 452.3,730.4 436.3,715.9 408.9,684.7 355.9,625.9 347.9,614.6 302.9,576.1 270.1,545.5 265.9,537.5 245.0,515.0 221.9,495.1 169.5,447.5 134.1,412.1" fill="#ffffff"/>
<polygon points="32.2,728.8 39.3,736.8 84.3,778.6 155.0,842.9 245.0,923.2 322.1,1000.0 302.9,1000.0 225.7,926.4 142.1,852.5 71.4,788.2 32.2,749.6" fill="#ffffff"/>
<polygon points="106.8,1000.0 129.3,1000.0 161.4,1025.7 180.7,1061.1 212.9,1109.3 245.0,1167.1 257.9,1181.6 270.7,1188.0 545.9,1187.1 545.9,1225.0 421.8,1220.2 394.5,1220.2 346.2,1226.6 323.8,1228.9 264.3,1218.6 225.7,1212.1 225.7,1180.0 200.0,1135.0 164.6,1077.1 142.1,1038.6" fill="#ffffff"/>
<polygon points="102.9,396.1 114.8,396.1 134.1,412.1 163.0,444.3 169.5,447.5 220.9,494.1 216.1,502.1 225.7,500.5 241.8,518.2 245.0,515.0 265.9,537.5 256.2,547.8 212.9,508.6 200.0,492.5 171.1,464.2 148.6,442.7 126.1,418.6" fill="#ff0037"/>
<polygon points="163.7,416.0 168.5,413.8 212.9,453.9 245.0,489.3 269.1,511.8 281.0,504.7 291.6,516.6 281.0,528.8 273.9,521.4 225.7,476.4 187.1,439.5" fill="#ff0037"/>
<polygon points="277.1,526.2 286.8,534.3 314.1,558.4 310.9,566.4 341.4,593.8 339.8,595.4 328.6,582.5 310.9,568.0 277.1,531.1" fill="#ff0037"/>
<polygon points="260.4,552.0 270.1,545.5 286.8,563.2 302.9,576.1 328.6,605.0 347.9,614.6 355.9,625.9 351.1,629.1 404.1,682.1 396.1,690.2 376.8,670.9 309.3,598.6 277.1,569.6" fill="#ff0037"/>
<polygon points="397.7,691.8 408.9,684.7 436.3,715.9 421.8,727.1 407.3,712.7 410.5,707.9" fill="#ff0037"/>
<polygon points="415.4,662.9 418.6,661.9 444.3,685.4 470.0,701.4 489.3,707.9 545.9,711.7 545.9,725.5 492.5,720.7 476.4,711.1 447.5,693.4 425.0,674.1" fill="#ff0037"/>
<polygon points="449.1,730.4 452.3,730.4 462.0,741.6 458.8,746.4 445.9,736.8" fill="#ff0037"/>
<polygon points="465.2,749.6 473.2,744.8 500.5,778.6 490.9,794.6 482.9,791.4 479.6,794.6 462.9,780.2 476.4,764.1" fill="#ff0037"/>
<polygon points="518.2,762.5 545.9,780.2 545.9,788.2 521.4,765.7" fill="#ff0037"/>
<polygon points="523.0,797.9 540.7,807.5 540.7,801.1 545.9,801.1 545.9,816.5 534.3,807.5 524.6,801.1" fill="#ff0037"/>
<polygon points="32.2,712.7 44.1,707.2 65.0,730.4 116.4,775.4 158.2,820.4 219.3,871.8 264.3,913.6 293.2,926.4 302.9,923.2 299.6,939.3 330.2,968.2 373.6,1000.0 322.1,1000.0 302.9,974.6 245.0,923.2 241.8,913.6 200.0,878.2 155.0,842.9 138.9,826.8 84.3,778.6 77.9,770.5 39.3,736.8 32.2,728.8" fill="#ff0037"/>
<polygon points="32.2,857.3 81.1,897.5 68.2,913.6 127.7,965.0 113.2,982.7 92.3,965.0 32.2,913.6" fill="#ff0037"/>
<polygon points="118.0,984.3 130.9,973.0 163.0,1000.0 126.1,1000.0" fill="#ff0037"/>
<polygon points="129.3,1000.0 164.6,1000.0 193.6,1028.9 212.9,1064.3 241.8,1106.1 296.4,1180.0 378.4,1180.6 378.4,1186.4 338.2,1189.6 270.7,1188.0 257.9,1181.6 245.0,1167.1 212.9,1109.3 180.7,1061.1 161.4,1025.7 145.4,1016.1" fill="#ff0037"/>
<polygon points="331.8,1000.0 354.3,1000.0 405.7,1019.3 511.8,1043.4 523.0,1024.1 545.9,1033.8 545.9,1053.0 521.4,1049.8 540.7,1059.5 535.9,1073.9 516.6,1065.9 508.6,1072.3 495.7,1065.9 444.3,1041.8 402.5,1030.5 351.1,1012.9" fill="#ff0037"/>
<polygon points="498.9,1140.5 526.2,1156.5 545.9,1128.6 545.9,1176.8 511.8,1175.2 505.4,1185.8 441.1,1187.1 441.1,1181.6 497.3,1181.6" fill="#ff0037"/>
<polygon points="147.0,1212.1 190.4,1216.0 189.7,1237.2 161.4,1235.3 158.2,1279.6 138.9,1276.4 126.1,1239.5 140.5,1221.8" fill="#ff0037"/>
<polygon points="126.1,1239.5 140.5,1221.8 161.4,1235.3 158.2,1289.3 143.8,1305.4 110.0,1350.4 97.1,1347.1 85.9,1364.8 129.3,1385.7 127.7,1395.4 84.3,1393.8 47.3,1384.1 39.3,1408.2 32.2,1408.2 32.2,1329.5 39.3,1334.3 84.3,1308.6 73.0,1289.3 97.1,1273.2 116.4,1253.9" fill="#ff0037"/>
<polygon points="158.2,1279.6 228.9,1288.6 230.5,1297.3 254.6,1298.9 254.6,1305.4 272.3,1310.2 259.5,1334.3 251.4,1327.9 261.1,1318.2 230.5,1302.1 225.7,1315.0 212.9,1310.2 196.8,1315.0 158.2,1289.3" fill="#ff0037"/>
<polygon points="196.8,1315.0 212.9,1310.2 219.3,1316.6 180.7,1353.6 158.2,1379.3 148.6,1377.7 143.8,1384.1 129.3,1385.7 161.4,1350.4" fill="#ff0037"/>
<polygon points="283.6,1239.5 298.0,1244.3 286.8,1289.3 270.7,1324.6 259.5,1334.3 272.3,1310.2" fill="#ff0037"/>
<polygon points="220.9,1355.2 261.1,1318.2 270.7,1324.6 254.6,1327.9 241.8,1337.5 238.6,1348.8" fill="#ff0037"/>
<polygon points="127.7,1413.0 140.5,1419.5 161.4,1401.8 169.5,1409.8 190.4,1384.1 180.7,1363.2 188.8,1358.4 200.0,1369.6 204.8,1385.7 196.8,1390.5 200.0,1405.0 155.0,1425.9 129.3,1424.3" fill="#ff0037"/>
<polygon points="32.2,1430.7 137.3,1442.0 155.0,1437.1 208.0,1416.2 216.1,1438.8 200.0,1446.8 155.0,1448.4 137.3,1446.8 32.2,1435.5" fill="#ff0037"/>
<polygon points="102.0,1424.3 122.9,1423.6 122.9,1428.1 103.6,1429.1" fill="#ff0037"/>
<polygon points="32.2,1411.4 58.6,1416.2 76.2,1421.1 76.2,1425.9 61.8,1425.9 32.2,1417.9" fill="#ff0037"/>
<polygon points="47.3,1435.5 53.8,1436.2 50.5,1495.0 40.9,1495.0" fill="#ff0037"/>
<polygon points="32.2,1495.0 116.4,1499.8 116.4,1482.1 122.9,1482.1 122.9,1488.6 171.1,1478.9 172.7,1472.5 196.8,1466.1 201.6,1475.7 248.2,1462.9 251.4,1469.3 301.2,1451.6 302.9,1453.9 261.1,1470.9 233.8,1475.7 237.0,1487.0 148.6,1504.6 143.8,1488.6 134.1,1501.4 116.4,1506.2 32.2,1502.1" fill="#ff0037"/>
<polygon points="32.2,1507.9 134.1,1508.8 137.3,1543.2 81.1,1548.0 85.9,1530.4 32.2,1511.1" fill="#ff0037"/>
<polygon points="142.1,1504.6 151.8,1503.0 158.2,1533.6 147.0,1538.4" fill="#ff0037"/>
<polygon points="341.4,1276.4 360.7,1290.9 341.4,1334.3 322.1,1364.8 375.2,1379.3 375.2,1411.4 328.6,1424.3 320.5,1427.5 315.7,1398.6 307.7,1397.0 286.8,1401.8 286.8,1388.9 317.3,1387.3 318.9,1398.6 327.0,1397.0 327.0,1385.7 293.2,1380.9 328.6,1321.4 341.4,1302.1" fill="#ff0037"/>
<polygon points="259.5,1400.2 275.5,1392.8 278.8,1405.6 261.7,1410.8" fill="#ff0037"/>
<polygon points="318.9,1435.5 330.2,1432.3 331.8,1442.0 322.1,1445.2" fill="#ff0037"/>
<polygon points="323.8,1228.9 331.8,1226.6 336.6,1231.4 330.2,1237.2" fill="#ff0037"/>
<polygon points="394.5,1220.2 421.8,1220.2 421.8,1225.0 386.4,1226.6 386.4,1253.9 405.7,1266.8 434.6,1289.3 482.9,1327.9 545.9,1380.9 545.9,1403.4 521.4,1382.5 492.5,1372.9 482.9,1358.4 431.4,1319.8 429.8,1313.4 392.9,1282.9 394.5,1274.8 375.2,1273.2 373.6,1270.0 338.2,1241.1 346.2,1226.6 373.6,1225.0" fill="#ff0037"/>
<polygon points="161.4,850.0 190.4,850.0 212.9,869.3 245.0,898.2 293.2,927.1 302.9,923.9 299.6,936.8 328.6,962.5 354.3,988.2 402.5,1007.5 470.0,1033.2 511.8,1050.9 523.0,1025.2 545.9,1033.2 545.9,1052.5 521.4,1050.9 540.7,1060.5 535.9,1073.4 516.6,1065.4 508.6,1071.8 482.9,1062.1 444.3,1044.5 402.5,1030.0 354.3,1015.5 328.6,1001.1 309.3,975.4 264.3,936.8 245.0,920.7 241.8,912.7 212.9,885.4 187.1,866.1" fill="#ff0037"/>
<polygon points="32.2,856.4 81.1,898.2 68.2,914.3 127.7,962.5 113.2,981.8 93.9,965.7 32.2,914.3" fill="#ff0037"/>
<polygon points="118.0,989.8 135.7,972.1 167.9,1001.1 193.6,1030.0 225.7,1071.8 277.1,1149.9 235.4,1149.9 212.9,1113.6 187.1,1075.0 161.4,1036.4 145.4,1017.1" fill="#ff0037"/>
<polygon points="114.8,1247.5 126.1,1239.5 132.5,1247.5 121.3,1257.1" fill="#ffffff"/>
<polygon points="110.0,1262.0 122.9,1258.8 124.5,1265.2 111.6,1268.4" fill="#ffffff"/>
<polygon points="97.1,1278.0 105.2,1273.2 108.4,1279.6 100.4,1284.5" fill="#ffffff"/>
</g>
<rect x="32.5" y="396.5" width="513.0" height="1828.0" fill="none" stroke="#b4b4b4" stroke-width="1"/>
<g clip-path="url(#cp_a2)">
<rect x="666.5" y="396.5" width="512.0" height="1828.0" fill="#fff"/>
<polygon points="1037.3,478.0 1178.8,555.2 1178.8,693.4 1026.1,661.2 1008.4,650.0 1002.9,630.7 1013.2,572.9 1030.9,490.9" fill="#dcdcdc"/>
<polygon points="666.1,740.0 830.0,775.4 858.9,785.0 873.4,801.1 878.9,823.6 887.9,923.2 891.1,1000.0 666.1,1000.0" fill="#dcdcdc"/>
<polygon points="666.1,1000.0 891.7,1000.0 897.5,1057.9 907.1,1160.7 916.8,1266.8 918.4,1289.3 915.2,1385.7 907.1,1403.4 894.3,1411.4 666.1,1435.5" fill="#dcdcdc"/>
<polygon points="666.1,1496.6 765.7,1482.1 910.4,1466.1 923.2,1472.5 932.9,1482.1 950.5,1620.0 666.1,1620.0" fill="#dcdcdc"/>
<polygon points="666.1,1620.0 950.5,1620.0 966.6,1693.9 983.6,1804.8 858.9,1946.2 830.0,1978.4 778.6,1996.1 730.4,2058.8 685.4,2111.8 666.1,2098.9" fill="#dcdcdc"/>
<polygon points="1034.1,1854.6 1064.6,1869.1 1178.8,1933.4 1178.8,2135.9 1109.6,2141.4 1080.7,2121.4 1067.9,2102.1 1064.6,2076.4 1048.6,1941.4" fill="#dcdcdc"/>
<polygon points="666.1,2018.6 685.4,2031.4 666.1,2053.9" fill="#ffffff"/>
<path d="M985.9 395.4 L1178.8 493.1 M665.4 518.9 L955.4 577.0 M665.4 870.8 L791.4 858.0 L827.4 810.1 M791.4 858.0 L756.1 902.3 M791.4 858.0 L805.9 995.5 L760.9 958.6 M762.5 1000.0 L805.9 995.5 L813.9 1000.0" fill="none" stroke="#555555" stroke-width="2.6"/>
<path d="M666.1 438.8 L804.3 470.0 L875.0 479.6 L939.3 508.6 L981.1 526.2 L958.6 621.1 L952.1 637.1 L937.7 648.4 L825.2 624.9 M666.1 556.1 L757.7 574.5 L759.3 587.3 L768.9 588.9 M773.8 590.5 L807.5 598.6 L810.7 575.1 L833.2 579.9 L828.4 601.8 L881.4 612.1 L884.6 598.6 L948.9 610.5 L964.4 529.5 M666.1 577.7 L804.3 606.6 M666.1 592.1 L936.1 649.4 M802.7 619.5 L807.5 598.6 M825.2 624.9 L828.4 601.8 M813.9 476.4 L807.5 501.5 M741.6 463.6 L894.3 498.9 L965.0 527.9 M897.5 500.5 L893.6 529.5 L963.4 543.3 M849.3 396.1 L1037.3 478.0 M903.9 399.3 L900.7 408.9 L1055.0 487.7 M953.8 433.0 L965.0 413.8 L978.5 421.1 L968.2 441.7 M1055.0 487.7 L1063.0 475.8 L1122.5 503.8 L1117.7 516.6 M1164.3 540.7 L1177.1 521.4 M666.1 652.6 L884.6 699.8 L879.8 725.5 L666.1 677.3 M666.1 655.8 L880.8 702.4 L876.9 721.7 L666.1 680.5 M984.3 721.4 L1030.9 730.4 L1025.4 756.7 L981.1 746.4 L971.4 736.8 L974.6 725.5 L984.3 721.4 M1047.0 735.2 L1178.8 762.5 M1042.1 760.9 L1178.8 789.8 M1047.0 735.2 L1042.1 760.9 M897.5 703.0 L907.1 706.2 L910.4 715.9 L905.5 725.5 L892.7 727.8 L897.5 703.0 M1037.3 490.9 L1178.8 558.4 M1037.3 490.9 L1009.4 628.1 L1178.8 666.7 M939.3 820.4 L948.9 806.9 L981.1 808.1 L1019.6 817.1 L1090.4 834.8 L1135.4 844.5 L1178.8 850.9 M939.3 821.0 L982.7 822.9 L1026.1 833.2 L1064.6 841.2 L1093.6 846.1 M932.2 874.4 L982.7 870.2 L1019.6 873.4 L1058.2 881.4 L1087.1 886.2 M982.7 822.9 L982.7 870.2 L990.7 907.1 L993.9 947.3 M1026.1 833.2 L1019.6 873.4 L1022.9 947.3 M1064.6 841.2 L1058.2 881.4 L1048.6 947.3 M1093.6 846.1 L1087.1 886.2 L1071.1 955.4 M1120.9 862.1 L1100.0 958.6 L1095.2 1000.0 M1164.3 878.2 L1145.0 958.6 L1138.6 1000.0 M1120.9 867.0 L1178.8 881.4 M950.5 955.4 L1006.8 947.3 L1048.6 946.4 L1085.5 952.1 M952.1 990.7 L1045.4 981.1 L1100.0 974.6 M941.9 873.4 L945.7 926.4 L950.5 955.4 L955.4 1000.0 M1100.0 957.0 L1145.0 965.0 M990.7 915.2 L1022.9 915.2 M1022.9 910.4 L1051.8 908.8 M666.1 794.6 L746.4 786.6 L788.2 796.2 L790.5 814.6 M666.1 828.4 L827.4 810.1 L838.0 908.8 L831.6 910.4 L833.9 932.9 L802.7 935.4 L801.1 913.6 L831.6 910.4 M674.1 912.0 L754.5 903.3 L760.9 958.6 L728.8 962.4 L733.6 1000.0" fill="none" stroke="#8c8c8c" stroke-width="0.7"/>
<path d="M732.9 1003.9 L775.4 1000.0 M810.7 1000.0 L851.9 1032.1 M665.4 1196.1 L826.8 1180.0 L862.8 1132.4 M826.8 1180.0 L790.8 1225.6 M826.8 1180.0 L842.2 1317.6 L797.2 1281.2 M842.2 1317.6 L665.4 1337.5 M842.2 1317.6 L887.2 1354.2" fill="none" stroke="#555555" stroke-width="2.6"/>
<path d="M736.8 1044.4 L852.5 1032.1 M736.1 1072.3 L818.8 1061.1 M666.1 1124.7 L822.9 1107.7 M666.1 1154.3 L823.6 1137.6 M701.4 1235.3 L790.8 1225.6 L796.2 1280.3 L698.9 1291.9 M862.8 1132.4 L873.4 1229.8 L836.4 1234.6 L839.0 1257.1 L869.2 1253.9 L867.3 1232.1 M849.3 1234.0 L851.2 1255.9 M666.1 1377.7 L682.1 1376.1 L683.8 1385.1 L702.1 1384.1 M666.1 1435.5 L894.3 1411.4 M736.1 1543.2 L741.6 1620.0 M759.3 1543.2 L765.7 1620.0 M736.8 1559.3 L760.9 1556.1 M730.4 1533.6 L797.9 1530.4 M891.7 1000.0 L918.4 1289.3 M940.9 1000.0 L950.5 1096.4 L971.4 1305.4 L990.7 1546.4 L1003.6 1620.0 M958.6 1022.5 L1002.0 1019.3 L1022.9 1014.5 L1047.0 1016.1 L1077.5 1014.5 M958.6 1022.5 L966.6 1128.6 M965.0 1051.4 L1008.4 1049.8 L1010.0 1048.2 L1048.6 1048.2 M1008.4 1049.8 L1006.8 1085.2 L1075.9 1085.2 M966.6 1085.2 L1006.8 1086.1 M993.9 1090.0 L993.9 1115.7 L1075.9 1117.3 L1075.9 1051.4 L1059.8 1048.2 M974.6 1131.8 L1029.3 1123.8 L1159.5 1117.3 L1178.8 1122.1 M977.9 1185.8 L1056.6 1180.0 L1153.0 1175.2 L1178.8 1178.4 M1038.9 1143.0 L1075.9 1141.4 L1075.9 1172.0 L1058.2 1173.6 L1061.4 1205.7 L1026.1 1225.0 L1026.7 1242.7 M981.1 1244.3 L1067.9 1241.1 L1100.0 1237.9 L1138.6 1229.8 L1178.8 1226.6 M982.7 1275.8 L1071.1 1268.4 L1138.6 1258.8 M981.7 1303.8 L1098.4 1289.3 L1135.4 1282.9 M980.4 1329.5 L1098.4 1319.8 M981.1 1355.2 L1074.3 1348.8 L1138.6 1340.7 M981.7 1382.5 L1087.1 1374.5 L1161.1 1361.6 M985.9 1416.2 L1050.2 1411.4 L1090.4 1408.9 M989.1 1450.0 L1074.3 1448.4 L1079.1 1466.1 M1003.6 1472.5 L1079.1 1466.1 M1003.6 1450.0 L1003.6 1488.6 M1003.6 1498.2 L1077.5 1493.4 L1140.2 1490.2 M998.8 1546.4 L1051.8 1543.2 L1051.8 1567.3 M998.8 1573.8 L1032.5 1570.5 L1083.9 1565.7 M1002.0 1594.6 L1032.5 1591.4 L1093.6 1585.0 M1071.1 1241.1 L1072.7 1268.4 M1100.0 1205.7 L1101.6 1265.2 M1138.6 1229.8 L1140.2 1258.8 M1096.8 1181.6 L1100.0 1205.7 M1098.4 1319.8 L1100.0 1340.7 M1109.6 1343.9 L1116.1 1408.2 M1071.1 1385.7 L1072.7 1405.0 M1159.5 1117.3 L1153.0 1175.2 M1162.7 1196.1 L1161.1 1225.0 M1178.8 1054.6 L1164.3 1078.8 L1093.6 1053.0 L1098.4 1016.1 M1108.0 1090.0 L1130.5 1093.9 L1127.3 1110.9 L1107.1 1107.7 L1108.0 1090.0 M1040.5 1496.6 L1038.9 1527.1 L1124.1 1522.3 L1165.9 1525.5 M1079.1 1495.0 L1077.5 1522.3 M1124.1 1522.3 L1127.3 1559.3 L1051.8 1567.3 M1135.4 1282.9 L1143.4 1308.6 L1093.6 1316.6 M1138.6 1340.7 L1146.6 1379.3 M1161.1 1361.6 L1167.5 1450.0 L1128.9 1459.6 L1100.0 1462.9 M1170.7 1450.0 L1169.1 1488.6 L1140.2 1490.2 L1141.8 1520.7 M1165.9 1525.5 L1167.5 1565.7" fill="none" stroke="#8c8c8c" stroke-width="0.7"/>
<path d="M916.8 1902.9 L932.2 2073.2 M866.0 2017.0 L932.2 2073.2 L966.6 2103.8 M735.2 2092.5 L932.2 2074.8" fill="none" stroke="#555555" stroke-width="2.6"/>
<path d="M666.1 1638.6 L707.9 1634.5 L820.4 1623.2 L852.5 1620.0 M707.9 1634.5 L735.2 1867.5 M820.4 1623.2 L846.1 1881.0 M907.1 1655.4 L928.0 1846.6 M670.9 1639.3 L675.1 1676.2 L709.5 1672.1 M825.2 1661.8 L907.1 1653.8 M833.2 1747.0 L916.8 1738.9 L958.6 1756.6 L850.9 1767.9 L849.3 1745.4 M666.1 1764.0 L722.3 1758.9 M666.1 1786.5 L725.5 1780.7 M711.1 1759.8 L711.7 1782.3 M666.1 1882.0 L735.2 1873.9 M934.5 1629.6 L940.9 1629.6 L958.6 1756.6 L977.9 1896.4 L895.9 1906.1 L858.9 1946.2 M950.5 1620.0 L1000.4 2070.0 L966.6 2103.8 L952.1 2121.4 M984.3 1809.6 L791.4 2023.4 L866.0 2017.0 L860.5 1954.3 M983.6 1804.8 L666.1 2131.1 L678.9 2153.6 L730.4 2095.7 M678.9 2153.6 L781.8 2145.5 L940.9 2132.7 L995.5 2070.0 M666.1 2179.3 L783.4 2170.3 L830.0 2166.4 L830.0 2155.2 L974.6 2152.0 L1000.4 2134.3 L1011.6 2108.6 M781.8 2145.5 L784.4 2170.3 M998.8 1620.0 L1011.6 1748.6 L1035.7 1854.6 M1011.6 2063.6 L1014.8 2068.4 L1012.6 2092.5 M1003.6 1620.0 L1016.4 1748.6 L1038.9 1854.6 M1005.2 1637.7 L1039.6 1637.7 L1039.6 1658.6 L1016.4 1665.0 L1016.4 1677.9 L1043.8 1685.9 L1034.1 1707.4 L1014.8 1711.6 M1034.1 1707.4 L1098.4 1738.9 L1127.3 1766.2 L1064.6 1867.5 M1066.2 1640.9 L1050.2 1697.1 L1069.5 1708.4 L1098.4 1644.1 L1112.9 1632.9 M1125.7 1663.4 L1161.1 1673.0 L1146.6 1716.4 L1111.2 1703.6 L1125.7 1663.4 M1178.8 1629.6 L1148.2 1632.9 L1125.7 1639.3 M1170.7 1636.1 L1151.4 1713.2 L1133.8 1751.8 L1161.1 1761.4 L1151.4 1787.1 L1178.8 1795.2 M1104.8 1801.6 L1146.6 1825.7 L1100.0 1886.8 M1159.5 1835.4 L1178.8 1845.0 M1132.1 1873.9 L1161.1 1886.8 L1151.4 1909.3 M1117.7 1899.6 L1146.6 1825.7 M1064.6 1882.0 L1178.8 1946.2 L1167.5 1967.1 L1064.6 1882.0 L1090.4 2063.6 L1178.8 2078.0 M1090.4 2063.6 L1095.2 2102.1 L1112.9 2117.6 L1178.8 2110.2" fill="none" stroke="#8c8c8c" stroke-width="0.7"/>
<polygon points="1103.2,395.4 1156.2,395.4 1176.5,407.3 1157.9,441.7 1095.2,412.1" fill="#ff0037"/>
<polygon points="669.9,448.1 741.6,462.9 734.2,501.5 666.1,486.1 666.1,460.4" fill="#ff0037"/>
<polygon points="757.0,482.2 786.6,488.6 785.0,496.4 778.6,495.7 775.4,509.5 752.9,503.8" fill="#ff0037"/>
<polygon points="764.1,770.5 810.7,780.2 807.5,799.5 759.3,789.8" fill="#ff0037"/>
<polygon points="834.8,810.7 842.9,803.6 855.7,815.5 849.9,824.2" fill="#ff0037"/>
<polygon points="666.1,926.4 724.6,920.0 728.8,957.0 719.1,958.6 724.6,1000.0 685.4,1000.0 680.5,960.2 674.1,960.2 674.1,965.0 666.1,965.0" fill="#ff0037"/>
<polygon points="841.2,932.9 849.3,932.9 852.5,955.4 845.4,957.0" fill="#ff0037"/>
<polygon points="844.5,957.0 854.1,957.0 860.5,1000.0 850.9,1000.0" fill="#ff0037"/>
<polygon points="927.1,825.2 938.6,825.2 941.9,873.4 932.2,874.4" fill="#ffc4ce"/>
<polygon points="684.7,1000.0 726.5,1000.0 730.4,1048.2 733.6,1053.0 736.1,1076.5 687.9,1077.8 684.7,1048.2" fill="#ff0037"/>
<polygon points="849.3,1000.0 860.5,1000.0 860.5,1009.6 850.9,1009.6" fill="#ff0037"/>
<polygon points="850.9,1014.5 860.5,1014.5 866.0,1061.1 818.8,1067.5 816.5,1037.0 852.5,1032.1" fill="#ff0037"/>
<polygon points="822.0,1103.5 858.3,1099.6 858.3,1096.4 871.8,1095.8 875.6,1124.7 871.8,1125.4 875.0,1154.3 866.0,1156.9 862.1,1132.4 824.2,1137.6" fill="#ff0037"/>
<polygon points="666.1,1237.9 701.4,1235.3 703.0,1259.7 695.6,1261.0 698.9,1291.9 666.1,1295.7" fill="#ff0037"/>
<polygon points="880.8,1297.3 915.2,1292.5 917.4,1324.0 910.4,1325.3 914.2,1385.7 907.1,1400.2 895.9,1403.4 855.7,1405.6 788.2,1407.6 772.1,1408.2 767.3,1368.0 886.2,1355.2" fill="#ff0037"/>
<polygon points="711.1,1372.9 730.4,1371.2 731.0,1377.7 753.5,1376.1 756.1,1403.4 704.0,1410.8 702.1,1383.1 711.1,1382.5" fill="#ff0037"/>
<polygon points="950.5,1125.4 955.4,1125.4 957.0,1146.2 960.2,1146.2 960.2,1131.1 974.6,1131.1 977.9,1180.0 982.7,1276.4 981.1,1303.8 967.6,1305.4 965.0,1279.6 961.1,1279.0 961.1,1271.6 964.4,1270.6 963.4,1244.3 965.0,1212.1 960.2,1211.5 959.2,1186.4 961.8,1184.8 961.1,1164.6 952.8,1164.6" fill="#ff0037"/>
<polygon points="968.9,1356.1 980.4,1356.1 981.7,1381.9 969.8,1381.9" fill="#ff0037"/>
<polygon points="778.6,1482.1 910.4,1469.9 923.2,1478.9 931.2,1548.0 928.0,1549.6 937.7,1620.0 895.9,1620.0 892.7,1601.1 858.9,1607.5 854.1,1568.3 887.9,1564.1 887.9,1553.5 854.1,1557.7 849.3,1532.0 799.5,1536.1 798.5,1529.7 782.4,1531.0" fill="#ff0037"/>
<polygon points="666.1,1505.3 724.6,1498.9 729.7,1543.2 666.1,1549.6" fill="#ff0037"/>
<polygon points="895.9,1620.0 937.7,1620.0 938.3,1625.8 896.9,1629.6" fill="#ff0037"/>
<polygon points="910.4,1641.9 934.5,1640.6 936.7,1670.8 914.2,1673.0" fill="#ff0037"/>
<polygon points="844.5,1854.6 928.0,1846.6 929.6,1854.6 902.3,1886.1 846.7,1886.8" fill="#ff0037"/>
<polygon points="794.6,1846.6 846.1,1881.0 846.7,1886.8 858.9,1891.6 834.8,1930.2 858.9,1946.2 830.0,1978.4 809.1,1963.9 781.8,1996.1 773.8,1994.5 730.4,2058.8 735.2,2063.6 699.8,2102.1 696.6,2100.5 685.4,2111.8 666.1,2098.9 666.1,2053.9 685.4,2031.4 666.1,2018.6 666.1,1980.0 695.0,2002.5 707.9,1984.8 714.3,1989.0 733.6,1962.3 684.7,1927.9 711.1,1891.6 719.1,1890.0 720.7,1877.1 734.2,1875.5 735.2,1867.5 750.3,1866.2 769.6,1880.4" fill="#ff0037"/>
<polygon points="735.2,2092.5 740.6,2148.8 711.7,2152.0 709.8,2113.4" fill="#ff0037"/>
</g>
<rect x="666.5" y="396.5" width="512.0" height="1828.0" fill="none" stroke="#b4b4b4" stroke-width="1"/>
<g clip-path="url(#cp_a3)">
<rect x="1298.5" y="396.5" width="513.0" height="1828.0" fill="#fff"/>
<polygon points="1298.3,826.1 1318.6,828.4 1339.5,825.2 1339.5,808.1 1460.0,790.8 1498.6,786.6 1501.8,799.5 1537.1,794.6 1643.2,778.6 1781.4,759.3 1811.0,754.5 1811.0,1000.0 1298.3,1000.0" fill="#dcdcdc"/>
<polygon points="1298.3,1000.0 1811.0,1000.0 1811.0,1077.1 1730.0,1088.4 1656.1,1099.6 1641.6,1107.7 1641.6,1114.1 1625.5,1113.1 1623.9,1098.0 1604.6,1099.6 1606.2,1109.3 1567.7,1117.3 1537.1,1118.9 1513.0,1123.8 1498.6,1122.1 1488.9,1114.1 1485.7,1077.1 1431.1,1084.2 1392.5,1090.0 1321.8,1096.4 1298.3,1099.6" fill="#dcdcdc"/>
<polygon points="1298.3,1354.5 1386.1,1363.2 1418.2,1369.6 1527.5,1374.5 1527.5,1384.1 1575.7,1390.5 1575.7,1382.5 1622.3,1385.7 1667.3,1392.1 1710.7,1385.7 1710.7,1393.8 1730.0,1398.6 1755.7,1397.0 1757.3,1401.8 1787.9,1402.4 1789.5,1408.2 1811.0,1410.8 1811.0,1572.8 1596.6,1551.2 1469.6,1540.0 1298.3,1523.9" fill="#dcdcdc"/>
<polygon points="1298.3,1724.5 1323.4,1724.5 1323.4,1702.0 1371.6,1702.0 1371.6,1724.5 1386.1,1724.5 1386.7,1782.3 1371.6,1783.3 1369.4,1823.1 1538.8,1823.1 1543.6,1841.8 1554.8,1886.8 1595.0,2047.5 1625.5,2160.0 1639.4,2223.6 1298.3,2223.6" fill="#dcdcdc"/>
<path d="M1298.3 566.4 L1376.4 537.5 L1460.0 503.8 L1537.1 466.8 L1601.4 428.2 L1648.0 396.1 M1312.1 555.2 L1386.1 527.9 L1447.1 502.1 M1784.6 396.1 L1697.9 460.4 L1601.4 511.8 L1572.5 524.6 L1561.2 543.9 L1562.9 566.4 L1580.5 587.3 L1622.3 595.4 L1755.7 606.6 L1811.0 600.2 M1811.0 412.1 L1688.2 482.9 L1648.0 502.1 L1615.9 515.0 L1591.8 526.2 M1688.2 482.9 L1707.5 539.1 M1713.9 468.4 L1736.4 532.7 M1741.2 449.1 L1767.0 526.2 M1767.0 433.0 L1795.9 521.4 M1786.2 421.8 L1811.0 495.7 M1648.0 502.1 L1659.3 572.9 L1660.9 600.2 M1615.9 515.0 L1630.4 564.8 M1593.4 534.3 L1620.7 529.5 L1630.4 564.8 L1599.8 573.5 L1593.4 534.3 M1652.9 545.5 L1707.5 534.3 L1730.0 531.1 L1811.0 516.6 M1659.3 572.9 L1710.7 563.2 M1710.7 534.3 L1720.4 587.3 M1746.1 534.3 L1755.7 605.0 M1791.1 521.4 L1802.3 600.2 M1461.6 582.5 L1508.2 559.4 L1513.0 560.6 L1521.1 588.9 L1517.9 592.8 L1466.4 592.1 L1461.6 587.3 L1461.6 582.5 M1298.3 650.0 L1386.1 617.9 L1398.9 616.2 M1427.9 616.2 L1505.0 627.5 L1633.6 641.0 L1736.4 651.6 L1811.0 653.2 M1484.1 638.8 L1505.0 642.0 L1513.0 648.4 L1517.9 669.3 L1533.9 794.6 M1546.8 730.4 L1554.8 793.0 M1298.3 688.6 L1318.6 828.4 M1323.4 683.8 L1339.5 808.1 M1350.1 667.0 L1378.0 662.2 M1350.1 667.0 L1353.3 682.1 M1333.0 772.1 L1434.3 756.7 L1439.1 794.6 M1431.1 736.8 L1434.3 756.7 M1633.6 721.4 L1643.2 778.6 M1659.3 732.9 L1665.7 775.4 M1746.1 715.9 L1754.1 762.5 L1773.4 759.3 L1771.8 746.4 L1811.0 741.6 M1521.1 765.7 L1530.7 764.1 L1533.9 788.2 L1524.3 788.9 L1521.1 765.7 M1550.0 759.3 L1557.1 758.6 L1559.6 783.4 M1321.8 396.1 L1360.4 508.6 L1389.3 498.3 M1347.5 396.1 L1392.5 507.0 M1397.3 396.1 L1435.9 490.9 M1472.9 396.1 L1501.8 464.2 M1506.6 396.1 L1532.3 450.7 M1562.9 396.1 L1578.9 415.4 L1603.0 402.5 M1298.3 412.1 L1329.8 408.9 L1321.8 396.1 M1298.3 421.8 L1321.8 415.4 L1344.3 471.6 L1325.0 478.0 L1318.6 466.8 L1298.3 473.2 M1392.5 399.3 L1407.0 415.4 L1431.1 406.4 L1440.7 412.1 L1469.6 475.8 M1407.0 415.4 L1390.9 437.9 L1413.4 486.1 L1432.7 479.6 M1370.0 449.1 L1402.1 437.9 M1440.7 412.1 L1460.0 404.1 M1450.4 431.4 L1479.3 420.2 L1501.8 464.2 L1469.6 475.8 M1492.1 441.1 L1517.9 428.2 L1527.5 450.7 M1542.0 399.3 L1548.4 412.1 L1559.6 441.1 L1577.3 431.4 L1562.9 396.1 M1298.3 518.2 L1312.1 555.2 M1307.3 538.1 L1344.3 529.5 L1347.5 534.9 M1347.5 511.8 L1386.1 498.3 L1393.1 510.2 M1298.3 547.1 L1312.1 542.3 M1339.5 825.2 L1349.1 883.0 L1392.5 876.6 L1382.9 817.1 L1427.9 812.3 L1437.5 865.4 M1298.3 891.1 L1325.0 886.2 L1318.6 828.4 M1298.3 905.5 L1329.8 900.7 L1336.2 944.1 L1298.3 948.9 M1492.1 801.1 L1537.1 795.3 L1545.2 855.7 L1501.8 862.1 L1492.1 801.1 M1559.6 794.6 L1569.3 852.5 L1612.7 846.1 L1656.1 839.6 L1648.0 778.6 M1603.0 785.6 L1612.7 846.1 M1670.5 777.0 L1678.6 835.8 L1722.0 829.4 L1765.4 823.6 L1763.8 804.3 L1781.4 801.7 M1713.9 768.9 L1722.0 829.4 M1757.3 764.1 L1765.4 823.6 M1779.8 759.3 L1789.5 819.7 L1811.0 817.1 M1736.4 828.4 L1744.5 875.0 L1784.6 868.6 L1811.0 865.4 M1744.5 875.0 L1747.7 898.1 L1811.0 889.5 M1360.4 900.1 L1395.7 895.9 L1401.5 937.7 L1366.1 941.9 L1360.4 900.1 M1408.6 879.8 L1443.9 875.0 L1447.1 886.2 L1411.8 892.0 L1408.6 879.8 M1410.2 894.3 L1468.0 878.9 L1473.5 926.4 L1412.4 934.5 L1410.2 894.3 M1556.4 921.6 L1606.2 913.6 M1575.7 928.0 L1620.7 921.6 M1627.1 921.6 L1677.0 914.2 M1718.8 915.2 L1811.0 903.3 M1533.9 944.1 L1620.7 931.2 M1723.6 945.7 L1811.0 932.2 M1437.5 968.2 L1596.6 947.3 L1598.9 963.4 M1437.5 968.2 L1440.7 1000.0 M1298.3 973.0 L1347.5 966.6 L1347.5 952.8 L1366.8 950.5 L1373.2 977.9 L1350.7 981.1 L1353.9 1000.0 M1298.3 985.9 L1328.2 981.7 M1373.2 978.5 L1418.2 973.0 L1421.4 1000.0 M1472.9 982.7 L1569.3 969.8 L1588.6 977.9 L1590.2 992.3 M1501.8 992.3 L1562.9 984.3 L1566.1 1000.0 M1638.4 969.8 L1723.6 958.6 M1638.4 969.8 L1641.6 992.3 L1726.8 981.1 M1730.0 989.1 L1750.9 986.9 L1754.1 1000.0 M1771.8 982.7 L1807.1 977.9 L1811.0 1000.0 M1807.1 945.7 L1808.8 974.6" fill="none" stroke="#8c8c8c" stroke-width="0.7"/>
<path d="M1298.3 1169.7 L1408.6 1180.0 L1505.0 1189.6 L1617.5 1202.5 L1723.6 1213.8 M1298.3 1223.4 L1408.6 1234.6 L1537.1 1253.9 L1633.6 1265.2 L1697.9 1271.6 M1717.1 1271.6 L1811.0 1273.2 M1329.8 1236.2 L1320.2 1340.7 M1374.8 1239.5 L1362.0 1356.8 M1403.8 1236.2 L1402.1 1327.9 M1453.6 1249.1 L1447.1 1332.7 M1479.3 1250.7 L1477.7 1331.1 M1506.6 1266.8 L1497.0 1369.6 M1540.4 1253.9 L1538.8 1303.8 M1578.9 1260.4 L1570.9 1356.8 M1615.9 1263.6 L1612.7 1313.4 M1664.1 1274.8 L1664.1 1326.2 M1702.7 1279.6 L1704.3 1385.7 M1734.8 1290.9 L1733.2 1331.1 M1791.1 1281.2 L1787.9 1401.8 M1298.3 1233.0 L1329.8 1236.2 L1376.4 1239.5 L1379.6 1233.0 L1403.8 1236.2 L1403.8 1243.6 L1455.2 1249.1 L1479.3 1250.7 L1479.9 1258.8 L1508.2 1261.0 L1508.2 1266.8 L1516.2 1264.2 L1516.2 1252.3 L1540.4 1253.9 M1540.4 1266.8 L1578.9 1260.4 L1615.9 1263.6 L1616.9 1274.8 L1664.1 1274.8 L1664.1 1279.6 L1702.7 1279.6 M1320.2 1340.7 L1320.2 1321.4 L1333.0 1321.4 M1347.5 1324.6 L1347.5 1327.9 L1392.5 1331.1 L1421.4 1329.5 L1447.1 1332.7 M1392.5 1331.1 L1386.1 1363.2 M1423.0 1329.5 L1418.9 1369.6 M1456.1 1334.3 L1453.6 1369.6 M1498.6 1334.3 L1497.0 1369.6 M1527.5 1374.5 L1530.7 1355.2 L1570.9 1356.8 L1574.1 1345.5 L1604.6 1347.1 L1612.7 1348.8 L1612.7 1327.9 L1623.9 1327.9 L1667.3 1326.2 L1667.3 1392.1 M1623.9 1327.9 L1620.7 1385.7 M1574.1 1347.1 L1573.1 1382.5 M1667.3 1348.8 L1704.3 1348.1 L1712.3 1348.1 L1712.3 1331.1 L1702.7 1331.1 M1734.8 1308.6 L1752.5 1308.6 L1752.5 1291.9 L1735.8 1291.9 M1773.4 1282.2 L1790.4 1281.2 L1791.1 1294.1 L1773.4 1294.1 L1773.4 1282.2 M1795.9 1279.6 L1811.0 1279.6 M1795.9 1279.6 L1795.9 1339.1 L1811.0 1339.1 M1792.7 1348.8 L1811.0 1347.1 M1792.7 1348.8 L1789.5 1408.2 M1734.8 1318.2 L1742.9 1319.8 L1754.1 1334.3 L1752.5 1350.4 L1747.7 1397.0 M1755.7 1327.9 L1786.2 1329.5 M1298.3 1430.7 L1415.0 1448.4 L1546.8 1462.9 L1630.4 1472.5 L1811.0 1496.6 M1298.3 1437.1 L1415.0 1453.2 L1488.9 1459.6 M1298.3 1456.4 L1437.5 1470.9 L1630.4 1488.6 L1811.0 1515.9 M1329.8 1372.9 L1382.9 1377.7 L1378.0 1417.9 L1418.2 1424.3 L1416.6 1453.2 M1329.8 1372.9 L1324.4 1432.3 M1427.9 1369.6 L1429.5 1376.1 L1490.5 1380.9 L1490.5 1393.8 L1495.4 1393.8 L1488.9 1459.6 L1463.2 1456.4 M1421.4 1387.3 L1427.9 1376.1 M1421.4 1387.3 L1416.6 1448.4 M1445.5 1400.2 L1469.6 1401.8 L1458.4 1522.3 L1434.3 1520.1 L1445.5 1400.2 M1434.3 1509.5 L1459.4 1511.7 M1533.9 1392.8 L1585.4 1397.0 L1582.1 1448.4 M1533.9 1392.8 L1529.1 1453.2 M1530.7 1430.7 L1614.3 1442.0 L1614.3 1451.6 M1548.4 1432.3 L1546.8 1462.9 M1562.9 1433.9 L1560.3 1462.9 M1633.6 1393.8 L1694.6 1400.2 L1693.0 1413.0 L1699.5 1414.6 L1693.0 1480.5 L1667.3 1478.9 L1673.8 1421.1 L1649.0 1419.5 L1638.4 1540.0 L1662.5 1542.6 L1667.3 1478.9 M1633.6 1393.8 L1630.4 1408.2 L1625.5 1408.2 L1619.1 1472.5 M1638.4 1530.4 L1663.1 1532.0 M1738.0 1412.1 L1789.5 1417.9 L1784.6 1467.7 M1738.0 1412.1 L1732.6 1472.5 M1734.8 1450.0 L1767.9 1453.9 L1763.8 1483.8 L1750.9 1482.1 L1754.1 1453.2 M1469.6 1540.0 L1471.2 1551.2 L1537.1 1557.7 L1537.1 1567.3 L1553.2 1567.3 L1553.9 1560.9 L1595.0 1564.1 L1596.6 1551.2 M1298.3 1527.1 L1415.0 1543.2 L1575.7 1602.7 L1633.6 1620.0 M1587.0 1577.0 L1575.7 1602.7 M1587.0 1577.0 L1633.6 1594.6 L1697.9 1609.1 L1762.1 1607.5 L1811.0 1597.9 M1353.9 1000.0 L1359.7 1043.4 L1298.3 1058.5 M1376.4 1000.0 L1382.9 1041.8 L1427.9 1033.8 L1421.4 1000.0 M1442.3 1000.0 L1445.5 1019.3 L1474.5 1016.1 L1485.7 1077.1 M1501.8 1000.0 L1508.2 1035.4 L1567.7 1027.3 L1570.9 1037.0 L1603.0 1032.1 L1599.8 1009.6 L1588.6 1009.6 M1529.1 1035.4 L1537.1 1056.2 L1569.3 1051.4 L1566.1 1028.9 M1537.1 1056.2 L1545.2 1109.3 L1630.4 1094.8 M1578.9 1041.8 L1588.6 1102.9 M1570.9 1038.6 L1644.8 1028.9 L1654.5 1093.2 M1620.1 1004.8 L1641.6 1003.2 L1646.4 1035.4 M1620.7 1006.4 L1630.4 1073.9 L1651.2 1072.3 M1646.4 1016.1 L1696.2 1009.6 L1730.0 1008.0 M1689.8 1025.7 L1699.5 1086.8 M1646.4 1030.5 L1734.8 1019.3 L1742.9 1080.4 M1733.2 1000.0 L1736.4 1020.9 M1755.7 1017.7 L1763.8 1077.1 L1808.8 1070.7 L1799.1 1009.6 L1755.7 1017.7 M1742.9 1059.5 L1760.5 1057.2 M1778.2 1006.4 L1811.0 1003.2" fill="none" stroke="#8c8c8c" stroke-width="0.7"/>
<path d="M1298.3 1663.4 L1376.4 1674.6 L1460.0 1700.4 L1537.1 1734.1 L1546.8 1751.8 L1550.0 1795.2 M1298.3 1671.4 L1360.4 1684.3 L1424.6 1703.6 L1505.0 1732.5 M1607.9 1620.0 L1665.7 1642.5 L1730.0 1652.1 L1811.0 1640.9 M1298.3 1887.4 L1472.9 1887.4 L1553.2 1886.8 M1362.0 1825.7 L1362.0 1858.5 L1484.1 1858.5 L1543.6 1857.2 M1298.3 1824.1 L1362.0 1825.7 M1298.3 1742.1 L1320.2 1742.1 L1320.2 1786.5 L1298.3 1786.5 M1298.3 1744.7 L1311.2 1744.7 L1311.2 1782.3 L1298.3 1782.3 M1323.4 1724.5 L1323.4 1803.9 L1369.4 1803.9 M1298.3 1915.7 L1325.0 1909.3 L1362.0 2044.3 L1323.4 2055.5 L1298.3 1963.9 M1328.2 1909.3 L1387.7 1893.2 L1392.5 1902.9 L1427.9 2027.6 L1389.3 2037.9 L1355.5 1909.3 M1336.2 1943.0 L1362.9 1936.6 M1342.7 1973.6 L1371.6 1965.5 M1347.5 1993.5 L1376.4 1986.4 M1355.5 2021.8 L1384.5 2013.8 M1392.5 1893.9 L1427.9 1893.2 L1437.5 1928.6 L1400.5 1926.0 M1408.6 1933.4 L1431.1 1928.6 L1443.9 1975.2 L1419.8 1980.6 L1408.6 1933.4 M1423.0 1988.0 L1440.7 1983.2 L1460.0 2039.5 L1434.3 2031.4 L1423.0 1988.0 M1437.5 1920.5 L1533.9 1895.8 L1537.1 1904.5 L1501.8 1913.1 M1472.9 1910.9 L1508.2 2041.1 L1471.2 2057.1 L1437.5 1920.5 M1501.8 1913.1 L1542.0 1902.9 L1574.1 2029.8 L1537.1 2039.5 L1501.8 1913.1 M1480.9 1946.2 L1509.8 1939.8 M1488.9 1975.2 L1517.9 1967.8 M1498.6 2002.5 L1525.9 1994.5 M1503.4 2023.4 L1532.3 2016.0 M1543.6 1841.8 L1583.8 1835.4 L1585.4 1829.6 M1386.1 2065.2 L1543.6 2060.4 L1595.0 2047.5 M1298.3 2068.4 L1336.2 2066.1 L1337.9 2098.9 M1347.5 2066.1 L1365.2 2066.1 M1357.1 2066.1 L1357.1 2095.7 M1300.9 2074.8 L1301.9 2102.1 L1310.5 2098.9 L1300.9 2074.8 M1305.1 2111.8 L1373.2 2094.1 L1402.1 2208.2 L1341.1 2222.7 M1378.0 2108.6 L1410.2 2102.1 L1434.3 2203.4 L1397.3 2213.0 M1298.3 2126.2 L1310.5 2124.0 L1336.2 2223.6 M1440.7 2095.1 L1477.7 2086.7 L1514.6 2223.6 M1442.3 2095.7 L1472.9 2223.6 M1450.4 2131.1 L1485.7 2123.0 M1455.2 2147.1 L1490.5 2137.5 M1484.1 2103.8 L1520.4 2095.1 L1533.9 2147.1 L1553.2 2223.6 M1527.5 2119.8 L1556.4 2113.4 L1585.4 2223.6 M1535.5 2147.1 L1562.9 2140.7 M1542.0 2169.6 L1567.7 2162.6 M1545.2 2198.6 L1574.1 2190.5 L1578.9 2205.0 L1553.2 2211.4 M1549.4 2085.4 L1587.9 2077.1 L1625.5 2223.6 M1601.4 1828.9 L1611.1 1864.3 L1673.8 1846.6 L1667.3 1812.9 M1605.3 1869.1 L1612.7 1899.6 L1685.0 1883.6 L1673.8 1846.6 L1710.7 2002.5 L1728.4 2082.9 M1612.7 1902.2 L1620.7 1920.5 L1686.6 1901.2 M1643.2 1894.8 L1646.4 1909.3 M1620.7 1920.5 L1665.7 2087.7 L1693.0 2080.3 L1697.2 2100.5 L1734.8 2090.9 L1728.4 2073.2 L1693.0 2080.3 M1665.7 2087.7 L1681.8 2147.1 L1697.9 2142.3 L1699.5 2146.5 L1747.7 2135.9 L1734.8 2090.9 M1742.9 1820.9 L1811.0 1801.6 M1752.5 1820.9 L1787.9 1954.3 M1800.7 1960.7 L1811.0 1958.1 M1802.3 1960.7 L1811.0 1996.1 M1623.9 2160.0 L1646.4 2153.6 L1660.9 2223.6 M1648.0 2156.1 L1681.8 2147.1 M1652.9 2187.3 L1717.1 2171.2 L1730.0 2223.6 M1747.7 2135.9 L1768.6 2223.6 M1775.0 2223.6 L1811.0 2214.6" fill="none" stroke="#8c8c8c" stroke-width="0.7"/>
<circle cx="1354.6" cy="1979.4" r="9.6" fill="none" stroke="#8c8c8c" stroke-width="0.7"/>
<circle cx="1501.8" cy="1982.6" r="9.0" fill="none" stroke="#8c8c8c" stroke-width="0.7"/>
<polygon points="1347.5,534.9 1366.1,527.9 1368.4,534.3 1350.1,541.4" fill="#ff0037"/>
<polygon points="1393.1,510.2 1410.2,502.8 1415.0,512.4 1397.3,519.8" fill="#ff0037"/>
<polygon points="1418.9,501.5 1437.5,492.5 1443.9,504.7 1424.0,513.4" fill="#ff0037"/>
<polygon points="1298.3,669.3 1308.9,667.7 1307.3,662.2 1328.2,655.8 1332.1,667.7 1328.2,669.3 1329.8,678.3 1313.8,683.8 1298.3,682.1" fill="#ff0037"/>
<polygon points="1321.1,683.8 1337.2,681.5 1337.9,684.7 1353.9,683.8 1362.0,723.9 1344.3,727.8 1342.7,721.4 1326.6,723.3" fill="#ff0037"/>
<polygon points="1378.0,659.6 1427.2,652.6 1428.8,667.7 1424.0,669.3 1433.6,736.8 1393.1,743.2 1383.5,677.3 1379.6,677.3" fill="#ff0037"/>
<polygon points="1439.1,633.9 1450.4,633.0 1451.0,635.5 1471.2,632.3 1471.9,628.5 1480.9,628.5 1488.9,669.3 1489.6,687.0 1487.3,687.9 1488.9,727.1 1494.7,746.4 1498.6,786.6 1461.6,790.8 1455.2,752.2 1456.1,730.4 1448.8,695.6 1445.5,694.4 1437.5,646.8" fill="#ff0037"/>
<polygon points="1533.9,651.6 1577.3,654.8 1577.3,658.0 1607.9,658.0 1625.5,659.0 1626.5,670.9 1633.6,721.4 1586.0,729.7 1587.0,736.1 1551.6,741.6 1543.6,728.8" fill="#ff0037"/>
<polygon points="1648.0,661.9 1671.5,659.6 1681.8,729.7 1659.3,732.9" fill="#ff0037"/>
<polygon points="1694.0,681.5 1717.8,678.3 1762.1,674.1 1762.1,668.6 1811.0,668.6 1811.0,711.7 1746.7,712.7 1746.1,715.9 1700.4,723.3" fill="#ff0037"/>
<polygon points="1321.8,1096.4 1392.5,1090.0 1393.1,1095.8 1430.4,1093.2 1431.1,1084.2 1485.7,1077.1 1488.9,1095.8 1468.0,1098.0 1469.6,1118.3 1488.9,1115.1 1498.6,1122.1 1505.0,1183.2 1455.2,1188.0 1440.7,1186.4 1435.9,1138.2 1469.6,1132.4 1469.0,1120.5 1435.9,1123.8 1436.9,1138.2 1421.4,1144.0 1405.4,1146.2 1407.0,1178.4 1394.1,1186.4 1368.4,1183.9 1366.8,1175.2 1327.6,1173.6 1321.8,1115.7" fill="#ff0037"/>
<polygon points="1513.0,1123.8 1537.1,1118.9 1567.7,1117.3 1573.1,1154.3 1578.3,1154.9 1580.5,1173.6 1578.9,1189.0 1543.6,1191.9 1524.3,1190.3" fill="#ff0037"/>
<polygon points="1604.6,1099.6 1623.9,1098.0 1625.5,1113.1 1641.6,1114.1 1641.6,1107.7 1656.1,1099.6 1730.0,1088.4 1811.0,1077.1 1811.0,1118.3 1789.5,1121.5 1713.9,1131.1 1705.9,1127.9 1686.6,1128.6 1690.8,1175.2 1688.2,1176.8 1689.8,1207.3 1648.0,1210.5 1620.1,1206.4 1611.1,1135.0 1607.2,1133.4" fill="#ff0037"/>
<polygon points="1718.8,1168.8 1811.0,1155.9 1811.0,1218.6 1800.1,1217.9 1799.1,1213.8 1763.8,1213.8 1762.1,1218.6 1746.1,1217.9 1725.2,1216.0" fill="#ff0037"/>
<polygon points="1298.3,1573.7 1376.4,1587.9 1460.0,1612.0 1485.7,1620.0 1537.1,1640.9 1601.4,1671.4 1649.6,1689.1 1697.9,1696.5 1730.0,1696.5 1811.0,1685.9 1811.0,1728.6 1730.0,1733.1 1665.7,1727.7 1601.4,1713.2 1537.1,1687.5 1472.9,1658.6 1408.6,1637.7 1334.6,1620.0 1298.3,1615.2" fill="#00b9b4"/>
<polygon points="1390.9,1694.6 1492.1,1725.4 1482.5,1760.8 1384.5,1732.5" fill="#ff0037"/>
<polygon points="1373.2,1787.1 1512.1,1785.5 1511.4,1751.1 1535.5,1750.5 1538.8,1823.1 1369.4,1823.1" fill="#ff0037"/>
<polygon points="1628.8,1727.7 1638.4,1724.5 1734.8,1735.7 1736.4,1739.6 1773.4,1735.7 1776.6,1752.4 1800.7,1747.9 1800.1,1736.4 1811.0,1734.1 1811.0,1800.0 1742.9,1814.5 1734.8,1796.1 1670.5,1800.0 1671.5,1809.6 1587.0,1829.6 1584.7,1812.2 1578.3,1812.2 1576.4,1803.2 1638.4,1781.4 1639.4,1760.8 1633.6,1761.4" fill="#ff0037"/>
<polygon points="1727.4,1758.9 1733.9,1761.4 1732.6,1766.2 1726.8,1764.0" fill="#ffffff"/>
</g>
<rect x="1298.5" y="396.5" width="513.0" height="1828.0" fill="none" stroke="#b4b4b4" stroke-width="1"/>
<g clip-path="url(#cp_b1)">
<rect x="32.5" y="2451.5" width="513.0" height="1829.0" fill="#fff"/>
<polygon points="344.6,2966.4 545.9,2971.2 545.9,2990.5 463.6,2988.9 431.4,2998.5 389.6,3008.1 347.9,3017.8" fill="#f3f3f3"/>
<polygon points="318.9,3110.6 412.1,3110.6 412.1,3165.3 511.8,3168.5 511.8,3221.5 310.9,3223.1 304.5,3152.4 318.9,3152.4" fill="#f4f4f4"/>
<polygon points="310.9,3223.1 502.1,3221.5 521.4,3236.0 545.9,3240.8 545.9,3676.0 302.9,3676.0 322.1,3660.3 341.4,3650.6 309.3,3618.5 277.1,3608.9 273.9,3589.6 286.8,3563.9 318.9,3544.6 325.4,3518.9 299.6,3506.0 309.3,3486.7 299.6,3473.9 324.7,3462.6 335.6,3428.9 328.6,3377.4 315.7,3332.4" fill="#dcdcdc"/>
<polygon points="315.7,3676.0 545.9,3676.0 545.9,4021.5 515.0,4021.5 495.7,4007.1 482.9,3984.6 447.5,3942.8 412.1,3897.8 373.6,3814.2 357.5,3803.0 380.0,3788.5 351.1,3743.5 325.4,3695.3" fill="#dcdcdc"/>
<polygon points="321.5,3992.6 489.3,3992.6 515.0,4021.5 498.9,4022.5 498.9,4040.8 452.3,4040.8 452.3,4061.7 427.6,4061.7 427.6,4040.8 441.1,4039.2 441.1,4022.5 322.1,4022.5" fill="#dcdcdc"/>
<polygon points="331.1,3331.8 333.4,3316.4 362.3,3322.8 355.9,3351.7 347.9,3374.2 328.6,3377.4" fill="#ffffff"/>
<polygon points="370.4,3240.8 389.6,3241.8 383.2,3261.7 367.8,3258.5" fill="#ffffff"/>
<polygon points="407.3,3238.6 439.5,3244.0 431.4,3284.2 402.5,3279.4" fill="#ffffff"/>
<polygon points="450.7,3298.7 468.4,3281.0 476.4,3287.4 486.1,3285.8 497.3,3300.3 487.7,3316.4 479.6,3309.9 468.4,3322.8" fill="#ffffff"/>
<polygon points="434.6,3316.4 450.7,3305.1 470.0,3319.6 455.5,3335.6" fill="#ffffff"/>
<polygon points="327.9,3438.5 386.4,3409.6 417.0,3396.7 426.6,3441.7 417.0,3453.0 434.6,3483.5 399.3,3506.0 415.4,3522.1 441.1,3506.0 450.7,3522.1 421.8,3544.6 434.6,3557.4 415.4,3570.3 399.3,3557.4 392.9,3576.7 370.4,3557.4 380.0,3547.8 357.5,3506.0 368.8,3499.6 354.3,3473.9 336.6,3470.6 322.1,3480.3 314.1,3469.0 324.7,3462.6" fill="#ffffff"/>
<polygon points="447.5,3374.2 465.2,3346.9 495.7,3361.4 516.6,3342.1 545.9,3361.4 545.9,3380.6 534.3,3387.1 521.4,3409.6 498.9,3396.7 468.4,3409.6 444.3,3396.7" fill="#ffffff"/>
<polygon points="450.7,3435.3 468.4,3411.2 495.7,3396.7 521.4,3409.6 531.1,3422.4 527.9,3451.4 482.9,3457.8 463.6,3425.6" fill="#ffffff"/>
<polygon points="447.5,3470.6 466.8,3464.2 470.0,3473.9 453.9,3483.5" fill="#ffffff"/>
<polygon points="482.9,3477.1 521.4,3461.0 531.1,3483.5 495.7,3502.8" fill="#ffffff"/>
<polygon points="437.9,3538.1 476.4,3544.6 495.7,3563.9 482.9,3589.6 450.7,3583.1 415.4,3570.3 428.2,3557.4" fill="#ffffff"/>
<polygon points="482.9,3518.9 521.4,3525.3 502.1,3541.4 486.1,3538.1" fill="#ffffff"/>
<polygon points="347.9,3576.7 363.9,3570.3 376.8,3602.4 360.7,3612.1" fill="#ffffff"/>
<polygon points="286.8,3615.3 328.6,3602.4 341.4,3621.7 370.4,3612.1 360.7,3634.6 309.3,3634.6 302.9,3631.4" fill="#ffffff"/>
<polygon points="389.6,3599.2 421.8,3586.4 441.1,3602.4 437.9,3615.3 405.7,3631.4 396.1,3621.7" fill="#ffffff"/>
<polygon points="473.2,3631.4 502.1,3621.7 511.8,3644.2 482.9,3653.9" fill="#ffffff"/>
<polygon points="518.2,3624.9 540.7,3615.3 545.9,3631.4 524.6,3637.8" fill="#ffffff"/>
<polygon points="322.1,3644.2 360.7,3634.6 370.4,3653.9 344.6,3666.7 328.6,3676.0 309.3,3676.0" fill="#ffffff"/>
<polygon points="373.6,3641.0 392.9,3631.4 405.7,3650.6 383.2,3676.0 370.4,3666.7" fill="#ffffff"/>
<polygon points="470.0,3668.3 495.7,3660.3 502.1,3676.0 476.4,3676.0" fill="#ffffff"/>
<polygon points="355.9,3698.5 376.8,3685.6 405.7,3711.4 396.1,3721.0 373.6,3711.4 365.5,3714.6" fill="#ffffff"/>
<polygon points="402.5,3693.7 418.6,3688.9 431.4,3717.8 408.9,3724.2" fill="#ffffff"/>
<polygon points="492.5,3711.4 508.6,3708.1 516.6,3724.2 498.9,3727.4" fill="#ffffff"/>
<polygon points="460.4,3682.4 476.4,3676.0 492.5,3676.0 486.1,3695.3" fill="#ffffff"/>
<polygon points="521.4,3676.0 545.9,3676.0 545.9,3695.3 531.1,3701.7" fill="#ffffff"/>
<polygon points="383.2,3740.3 408.9,3733.9 434.6,3772.4 405.7,3785.3" fill="#ffffff"/>
<polygon points="463.6,3756.4 489.3,3746.7 508.6,3782.1 482.9,3791.7" fill="#ffffff"/>
<polygon points="495.7,3740.3 521.4,3730.6 545.9,3756.4 545.9,3782.1 521.4,3782.1" fill="#ffffff"/>
<polygon points="434.6,3804.6 447.5,3791.7 476.4,3830.3 463.6,3843.1" fill="#ffffff"/>
<polygon points="412.1,3849.6 431.4,3836.7 447.5,3856.0 463.6,3843.1 495.7,3897.8 470.0,3901.0 450.7,3888.1 437.9,3901.0" fill="#ffffff"/>
<polygon points="476.4,3836.7 498.9,3820.6 511.8,3836.7 521.4,3830.3 545.9,3856.0 545.9,3884.9 521.4,3875.3 505.4,3881.7" fill="#ffffff"/>
<polygon points="502.1,3791.7 521.4,3782.1 545.9,3798.1 545.9,3817.4 521.4,3827.1" fill="#ffffff"/>
<polygon points="447.5,3942.8 470.0,3926.7 502.1,3933.1 511.8,3949.2 486.1,3984.6 482.9,3984.6" fill="#ffffff"/>
<polygon points="502.1,3965.3 521.4,3955.6 545.9,3984.6 545.9,4003.9 527.9,4003.9" fill="#ffffff"/>
<polygon points="458.8,4023.1 475.8,4023.1 475.8,4044.0 458.8,4044.0" fill="#ffffff"/>
<path d="M100.4 2451.1 L100.4 2493.9 M114.8 2451.1 L115.8 2532.4 L108.4 2546.9 L32.2 2548.5 M32.2 2535.0 L100.4 2533.1 M153.4 2451.1 L153.4 2577.4 M234.7 2451.1 L237.0 2564.6 L251.4 2587.1 L273.9 2595.1 L545.9 2590.9 M266.9 2451.1 L268.1 2532.4 L277.1 2540.5 L299.6 2543.7 L518.2 2545.9 M308.3 2529.2 L383.2 2529.9 M437.9 2530.8 L545.9 2531.5 M341.4 2459.1 L341.4 2529.2 M341.4 2459.1 L545.9 2457.9 M380.0 2459.1 L380.0 2469.8 L408.9 2469.8 L408.9 2529.2 M429.8 2459.1 L429.8 2499.6 L453.3 2499.6 L453.3 2459.1 M503.8 2457.9 L503.8 2505.1 L545.9 2506.1 M444.3 2451.1 L444.3 2457.9 M32.2 2598.3 L129.3 2598.3 M32.2 2651.4 L53.8 2651.4 M100.4 2653.0 L106.8 2661.0 L105.2 2702.8 M545.9 2653.9 L270.7 2653.0 L245.0 2662.6 L230.5 2683.5 L228.9 2702.8 L230.5 2773.5 L238.6 2773.5 L238.6 2802.4 M318.9 2722.1 L545.9 2721.4 M296.4 2723.0 L283.6 2730.1 L280.4 2739.8 L279.7 3056.0 M320.5 2747.8 L376.1 2747.8 M433.0 2747.1 L545.9 2746.2 M320.5 2747.8 L304.5 2767.1 L302.9 2963.1 M122.9 2777.4 L123.5 3056.0 M132.5 2937.4 L133.1 2976.0 M63.4 2887.0 L122.2 2887.0 M44.1 2713.1 L44.1 2751.0 M32.2 2752.6 L97.1 2750.4 M356.9 2749.4 L356.9 2775.1 L379.4 2775.1 L379.4 2747.8 M304.5 2778.3 L350.4 2778.3 L350.4 2832.0 M327.9 2778.3 L327.9 2810.5 L323.8 2832.0 M302.9 2832.0 L379.4 2832.0 L379.4 2966.4 M360.7 2783.1 L367.1 2783.1 L366.5 2805.6 L360.7 2805.6 L360.7 2783.1 M358.1 2832.0 L359.1 2817.9 L386.4 2817.9 L386.4 2824.9 L405.7 2824.9 L407.3 2804.0 L437.2 2803.1 L437.2 2772.9 L445.9 2772.9 M445.9 2788.0 L450.7 2966.4 M469.4 2747.1 L470.0 2857.1 L480.3 2857.7 L480.3 2869.3 M468.4 2869.3 L545.9 2869.3 M468.4 2869.3 L468.4 2890.8 L458.8 2890.8 L458.8 2929.4 L513.4 2929.4 L513.4 2890.8 L468.4 2890.8 M505.4 2869.3 L505.4 2890.8 M411.5 2850.6 L428.9 2850.6 L430.8 2893.1 L411.5 2893.1 L411.5 2850.6 M316.4 2873.1 L335.0 2873.1 L335.0 2883.4 L316.4 2883.4 L316.4 2873.1 M340.8 2865.1 L354.3 2865.1 L354.3 2895.0 L340.8 2895.0 M515.0 2780.6 L545.9 2780.6 M515.0 2780.6 L515.0 2794.4 L529.5 2794.4 L529.5 2823.3 L545.9 2824.3 M507.0 2826.5 L507.0 2857.7 L545.9 2857.7 M515.0 2823.3 L515.0 2834.6 L527.2 2834.6 L527.2 2852.2 M536.9 2747.1 L536.9 2780.6 M344.6 2966.4 L545.9 2966.4 M480.3 2932.6 L480.3 2966.4 M515.0 2929.4 L515.0 2966.4 M480.3 2932.6 L545.9 2931.0 M413.8 2931.6 L424.4 2922.0 L432.1 2931.0 L421.1 2940.0 L413.8 2931.6 M391.2 2989.5 L428.2 2979.9 L434.6 2996.9 L396.1 3008.1 L391.2 2989.5 M396.1 3008.1 L450.7 2993.7 L465.2 2989.5 L489.3 2992.1 L486.1 3011.4 L462.9 3018.4 L450.7 2993.7 M347.9 3018.4 L372.0 3013.0 L376.8 3056.0 M383.2 3011.4 L389.6 3056.0 M410.5 3006.5 L417.0 3056.0 M462.9 3018.4 L470.0 3056.0 M476.4 3014.6 L489.3 3033.9 L495.7 3056.0 M511.8 3029.0 L532.7 3026.8 L534.3 3056.0 M331.1 3033.9 L331.8 3056.0" fill="none" stroke="#8c8c8c" stroke-width="0.7"/>
<path d="M123.5 3056.0 L130.9 3660.3 M134.1 3062.4 L135.1 3329.2 M32.2 3576.1 L129.3 3574.1 M83.3 3576.7 L83.3 3617.9 L129.9 3617.9 M235.4 3102.6 L237.0 3097.8 L339.8 3096.2 L410.5 3088.1 M235.4 3102.6 L243.4 3470.6 L259.5 3676.0 M243.4 3067.2 L243.4 3075.3 L521.4 3059.9 L545.9 3075.3 M267.5 3470.6 L269.1 3538.1 M330.8 3223.1 L389.6 3229.6 L418.6 3216.7 L450.7 3260.1 L502.1 3221.5 M450.7 3260.1 L439.5 3284.2 L453.9 3306.7 M383.2 3287.4 L402.5 3293.9 L441.1 3285.8 M330.8 3247.2 L360.7 3258.5 L370.4 3285.8 L357.5 3313.1 M502.1 3223.1 L521.4 3300.3 L531.1 3316.4 M367.1 3332.4 L418.6 3359.8 L433.0 3369.4 L415.4 3398.3 M433.0 3369.4 L450.7 3353.3 L476.4 3338.9 L545.9 3335.6 M397.7 3338.9 L415.4 3317.0 L425.6 3326.0 L410.5 3349.1 L397.7 3338.9 M325.4 3438.5 L386.4 3409.6 L417.0 3396.7 M386.4 3409.6 L399.3 3457.8 L357.5 3477.1 M399.3 3457.8 L434.6 3483.5 M302.9 3107.4 L306.1 3133.1 L344.6 3133.1 L344.6 3165.3 M339.8 3096.2 L341.4 3110.6 L410.5 3112.2 M344.6 3096.2 L346.2 3133.1 L412.1 3129.9 L410.5 3088.1 M418.6 3107.4 L415.4 3158.9 L495.7 3166.9 L511.8 3097.8 M413.8 3133.1 L479.6 3140.2 L482.9 3149.2 L502.1 3149.2 M452.3 3086.5 L453.9 3136.4 M524.6 3094.6 L518.2 3165.3 L545.9 3168.5 M524.6 3094.6 L531.1 3086.5 L545.9 3088.1 M542.3 3136.4 L538.1 3152.4 L545.9 3162.1 M306.1 3171.7 L333.4 3171.7 L338.2 3213.5 M359.1 3165.3 L360.7 3183.0 L347.9 3183.0 M410.5 3166.9 L408.9 3191.0 L441.1 3195.8 L444.3 3166.9 M463.6 3168.5 L460.4 3200.6 L465.2 3194.2 L484.5 3199.0 L478.0 3218.3 L457.1 3210.3 M515.0 3207.1 L534.3 3205.5 L535.9 3189.4 L545.9 3187.8 M402.5 3197.4 L408.9 3191.0 M402.5 3197.4 L405.7 3216.7 M357.5 3506.0 L341.4 3470.6 L328.6 3473.9 M417.0 3453.0 L447.5 3470.6 L482.9 3457.8 M434.6 3483.5 L415.4 3522.1 M545.9 3483.5 L531.1 3473.9 L508.6 3506.0 L482.9 3512.4 L463.6 3538.1 M495.7 3506.0 L521.4 3525.3 L531.1 3557.4 L545.9 3551.0 M283.6 3499.6 L286.8 3512.4 L309.3 3509.2 L325.4 3518.9 M267.5 3567.1 L286.8 3563.9 M267.5 3567.1 L273.9 3602.4 L277.1 3608.9 M328.6 3563.9 L344.6 3560.6 L370.4 3653.9 M392.9 3576.7 L405.7 3631.4 M441.1 3602.4 L450.7 3583.1 M482.9 3589.6 L473.2 3631.4 M502.1 3570.3 L521.4 3592.8 L545.9 3583.1 M502.1 3570.3 L498.9 3602.4 L521.4 3624.9" fill="none" stroke="#8c8c8c" stroke-width="0.7"/>
<path d="M129.9 3809.4 L32.2 3810.4 M32.2 4106.7 L132.5 4106.1 M32.2 4181.3 L133.1 4180.6 M32.2 3714.6 L110.0 3713.9 M32.2 3786.9 L47.3 3786.9 L47.3 3794.3 L66.6 3794.3 L66.6 3786.9 M106.8 3786.9 L108.4 3809.4 M140.5 3707.5 L177.5 3707.5 L177.5 3767.0 L140.5 3767.0 L140.5 3707.5 M257.9 3676.0 L267.5 3756.4 L277.1 3978.1 L286.8 4206.4 L293.2 4209.6 L373.6 4209.6 L421.8 4216.0 L470.0 4228.9 L521.4 4264.2 L545.9 4280.3 M293.2 3915.5 L299.6 4188.7 L293.2 4188.7 M313.1 4127.6 L313.1 4159.8 M309.3 3786.9 L333.4 3786.9 M330.2 3778.9 L386.4 3745.1 M330.2 3778.9 L351.1 3794.9 L360.7 3790.1 L367.1 3798.1 M322.1 4085.8 L545.9 4085.8 M322.1 4121.2 L375.2 4121.2 L375.2 4148.5 L384.8 4148.5 L384.8 4187.1 L347.2 4187.1 L347.2 4158.1 L322.1 4158.1 L322.1 4121.2 M325.4 4158.1 L327.0 4179.0 M347.2 4158.1 L384.8 4158.1 M362.3 4085.8 L362.3 4097.1 L383.2 4097.1 L383.2 4108.3 L411.5 4108.3 L411.5 4085.8 M441.1 4085.8 L441.1 4106.7 L462.0 4106.7 L462.0 4085.8 M354.3 4121.2 L354.3 4109.9 L372.0 4109.9 L373.6 4121.2 M389.6 4119.6 L407.3 4119.6 L407.3 4151.7 L389.6 4151.7 L389.6 4119.6 M426.6 4106.7 L450.7 4106.7 L450.7 4148.5 L410.5 4148.5 L410.5 4172.6 L452.3 4172.6 L458.8 4172.6 L458.8 4152.4 L450.7 4152.4 M492.5 4122.8 L516.6 4122.8 L508.6 4138.9 L492.5 4138.9 L492.5 4122.8 M540.7 4076.2 L476.4 4196.7 M545.9 4079.4 L471.6 4079.4 M471.6 4070.7 L484.5 4070.7 L484.5 4079.4 M507.9 4045.6 L523.0 4045.6 L523.0 4058.5 L507.9 4058.5 L507.9 4045.6 M388.0 4005.5 L428.9 4005.5 L428.9 4020.6 L388.0 4020.6 L388.0 4005.5 M336.6 3994.2 L336.6 4031.2 M372.0 3984.6 L428.2 3983.9 M372.0 3984.6 L372.0 3995.8 M334.4 3949.9 L343.0 3949.9 L343.0 3971.1 L334.4 3971.1 L334.4 3949.9 M339.8 3856.0 L358.1 3856.0 L358.1 3875.9 L339.8 3875.9 M339.8 3901.0 L363.9 3901.0 L363.9 3926.7 M392.9 3933.1 L400.9 3933.1 L400.9 3952.4 M437.9 3936.4 L437.9 3954.0 L450.7 3955.6 M527.9 4177.4 L545.9 4196.7 M527.9 4177.4 L511.8 4222.4 M534.3 4029.6 L527.9 4045.6 L545.9 4071.4 M315.7 3676.0 L373.6 3814.2 L412.1 3897.8 L447.5 3942.8 L495.7 4007.1 L545.9 4061.7 M351.1 3743.5 L386.4 3745.1 L437.9 3811.0 L495.7 3901.0 L545.9 3965.3 M380.0 3788.5 L421.8 3766.0 L470.0 3733.9 L502.1 3714.6 M412.1 3849.6 L453.9 3820.6 L502.1 3788.5 L545.9 3766.0 M447.5 3942.8 L486.1 3917.1 L545.9 3875.3 M405.7 3711.4 L453.9 3782.1 L502.1 3856.0 L545.9 3913.9 M431.4 3717.8 L470.0 3772.4 L521.4 3830.3 M373.6 3814.2 L405.7 3794.9 M482.9 3984.6 L521.4 3955.6" fill="none" stroke="#8c8c8c" stroke-width="0.7"/>
<clipPath id="cpb1g"><polygon points="310.9,3223.1 502.1,3221.5 521.4,3236.0 545.9,3240.8 545.9,3676.0 302.9,3676.0 322.1,3660.3 341.4,3650.6 309.3,3618.5 277.1,3608.9 273.9,3589.6 286.8,3563.9 318.9,3544.6 325.4,3518.9 299.6,3506.0 309.3,3486.7 299.6,3473.9 324.7,3462.6 335.6,3428.9 328.6,3377.4 315.7,3332.4"/><polygon points="315.7,3676.0 545.9,3676.0 545.9,4021.5 515.0,4021.5 495.7,4007.1 482.9,3984.6 447.5,3942.8 412.1,3897.8 373.6,3814.2 357.5,3803.0 380.0,3788.5 351.1,3743.5 325.4,3695.3"/></clipPath>
<path clip-path="url(#cpb1g)" d="M-64.8 4049.8L-25.3 4079.5 M197.8 4246.8L279.0 4307.7 M279.3 4307.9L353.6 4363.6 M357.4 4366.5L408.8 4405.0 M-279.0 3889.2L-254.9 3857.0 M-247.5 3912.8L-218.7 3874.5 M-160.5 3978.1L-142.3 3953.8 M-134.1 3997.9L-108.5 3963.8 M-31.6 4074.7L-13.7 4050.9 M13.6 4108.7L42.2 4070.6 M43.3 4130.9L67.0 4099.4 M84.6 4161.9L100.8 4140.3 M152.9 4213.2L171.3 4188.6 M173.6 4228.7L199.6 4194.0 M196.6 4245.9L217.8 4217.7 M262.7 4295.5L280.7 4271.6 M330.6 4346.4L357.8 4310.1 M354.6 4364.4L381.4 4328.7 M391.7 4392.2L420.3 4354.0 M415.8 4410.3L441.4 4376.1 M443.4 4431.0L459.4 4409.6 M463.7 4446.2L482.1 4421.8 M499.6 4473.1L520.8 4444.8 M-194.4 3882.5L-147.7 3917.5 M-129.6 3931.1L-32.1 4004.2 M186.8 4168.4L252.5 4217.7 M253.3 4218.3L362.3 4300.1 M440.9 4359.0L496.4 4400.6 M510.8 4411.4L548.3 4439.5 M-189.0 3886.6L-170.2 3861.6 M-157.8 3910.0L-140.4 3886.7 M-129.0 3931.6L-112.2 3909.1 M-14.4 4017.5L2.6 3995.0 M4.3 4031.5L31.9 3994.8 M140.9 4134.0L166.1 4100.4 M270.3 4231.0L294.7 4198.4 M389.4 4320.4L413.0 4288.9 M418.6 4342.3L442.0 4311.1 M526.2 4423.0L551.3 4389.4 M-188.3 3834.7L-96.3 3903.7 M-84.3 3912.7L-13.8 3965.5 M90.4 4043.7L142.8 4083.0 M148.9 4087.5L235.1 4152.2 M351.8 4239.7L455.1 4317.2 M468.5 4327.2L516.3 4363.1 M-221.9 3809.5L-205.0 3787.0 M-99.3 3901.4L-82.0 3878.3 M-68.0 3924.9L-50.1 3900.9 M-5.2 3972.0L21.4 3936.5 M42.2 4007.6L58.3 3986.2 M114.6 4061.8L140.5 4027.3 M132.8 4075.5L154.1 4047.1 M175.9 4107.8L191.6 4087.0 M212.7 4135.4L236.4 4103.8 M320.6 4216.3L338.0 4193.0 M338.5 4229.8L363.4 4196.6 M361.6 4247.0L381.3 4220.7 M400.4 4276.1L423.8 4244.8 M440.9 4306.6L466.9 4272.0 M486.1 4340.4L514.0 4303.3 M525.7 4370.1L546.9 4341.8 M-136.9 3817.3L-29.4 3897.9 M452.7 4259.5L491.3 4288.4 M502.3 4296.7L595.7 4366.8 M-188.2 3778.8L-162.1 3744.1 M-165.3 3796.0L-139.5 3761.5 M-143.5 3812.4L-121.3 3782.9 M-12.5 3910.6L9.8 3880.9 M50.9 3958.2L77.6 3922.6 M85.6 3984.1L105.8 3957.1 M199.8 4069.8L222.7 4039.3 M223.5 4087.6L245.5 4058.4 M259.5 4114.6L287.9 4076.8 M292.8 4139.6L318.9 4104.8 M327.5 4165.6L352.1 4132.9 M347.1 4180.3L367.8 4152.7 M419.6 4234.7L436.4 4212.3 M495.4 4291.5L514.7 4265.6 M564.5 4343.3L590.3 4309.0 M582.8 4357.1L600.9 4332.9 M-198.6 3704.8L-140.8 3748.1 M-85.6 3789.6L-12.8 3844.2 M-8.8 3847.2L65.6 3903.0 M73.1 3908.6L138.2 3957.4 M289.1 4070.6L389.7 4146.0 M-148.2 3742.6L-121.8 3707.3 M-96.4 3781.5L-71.9 3748.9 M-78.3 3795.1L-53.8 3762.5 M-11.8 3844.9L13.6 3810.9 M44.4 3887.1L60.9 3865.1 M63.1 3901.1L85.2 3871.6 M98.0 3927.3L115.6 3903.9 M190.0 3996.3L218.2 3958.8 M249.2 4040.7L271.3 4011.2 M341.1 4109.6L362.4 4081.3 M381.2 4139.7L398.9 4116.1 M403.8 4156.6L419.1 4136.4 M524.3 4247.0L547.6 4216.0 M599.3 4303.3L626.9 4266.5 M82.2 3852.9L141.6 3897.4 M349.0 4053.0L423.7 4109.0 M542.3 4197.9L652.7 4280.7 M-128.5 3694.8L-108.0 3667.4 M-109.4 3709.2L-89.2 3682.3 M-88.8 3724.6L-61.3 3687.9 M-54.5 3750.4L-26.1 3712.6 M37.3 3819.2L62.8 3785.2 M78.7 3850.3L96.1 3827.2 M161.2 3912.1L184.4 3881.1 M189.9 3933.6L213.9 3901.6 M224.5 3959.6L249.4 3926.4 M251.1 3979.6L269.5 3955.0 M270.0 3993.7L295.4 3959.8 M339.8 4046.1L368.5 4007.9 M386.1 4080.8L413.6 4044.2 M416.8 4103.8L445.2 4065.9 M441.8 4122.6L469.7 4085.3 M481.4 4152.2L509.9 4114.2 M576.4 4223.5L592.1 4202.5 M610.0 4248.7L631.1 4220.6 M647.9 4277.1L666.5 4252.3 M60.7 3781.4L111.7 3819.7 M390.9 4029.1L438.1 4064.4 M563.8 4158.7L600.6 4186.3 M609.1 4192.7L691.0 4254.1 M-122.2 3644.2L-97.9 3611.8 M-58.9 3691.7L-41.0 3667.8 M12.2 3745.0L28.9 3722.8 M95.4 3807.4L116.2 3779.6 M197.3 3883.8L219.9 3853.8 M268.2 3937.0L284.5 3915.2 M312.4 3970.2L328.6 3948.6 M347.2 3996.2L371.6 3963.6 M393.8 4031.2L417.9 3999.0 M413.8 4046.2L438.8 4012.9 M452.5 4075.3L469.5 4052.6 M509.8 4118.2L534.5 4085.1 M648.6 4222.3L669.1 4195.0 M-116.4 3595.2L-55.5 3640.9 M-48.2 3646.4L15.4 3694.1 M308.0 3913.6L341.8 3938.9 M443.1 4014.9L539.5 4087.1 M550.4 4095.3L645.4 4166.6 M-79.5 3622.9L-54.2 3589.2 M-42.2 3650.9L-24.2 3626.8 M-1.3 3681.5L24.2 3647.5 M28.2 3703.7L56.6 3665.9 M66.3 3732.2L88.7 3702.4 M151.2 3795.9L177.6 3760.7 M312.9 3917.2L337.7 3884.1 M354.9 3948.7L375.7 3920.9 M424.6 4001.0L441.9 3977.9 M448.4 4018.9L467.5 3993.5 M495.5 4054.2L514.8 4028.5 M557.8 4100.9L573.7 4079.7 M589.3 4124.5L616.9 4087.8 M608.1 4138.6L625.6 4115.2 M632.3 4156.7L657.2 4123.5 M667.9 4183.5L685.5 4160.1 M694.1 4203.1L719.5 4169.2 M69.6 3673.4L128.9 3718.0 M148.1 3732.3L218.7 3785.3 M335.2 3872.6L409.4 3928.3 M530.8 4019.4L563.7 4044.1 M679.0 4130.5L723.6 4164.0 M19.6 3635.9L41.9 3606.1 M122.8 3713.4L147.7 3680.2 M143.4 3728.8L164.8 3700.2 M190.0 3763.8L216.8 3728.0 M291.4 3839.8L313.7 3810.2 M340.9 3876.9L356.9 3855.5 M367.8 3897.1L392.6 3863.9 M417.1 3934.1L438.5 3905.6 M501.6 3997.5L521.8 3970.5 M540.8 4026.8L563.6 3996.5 M572.3 4050.5L601.0 4012.2 M614.2 4081.9L637.7 4050.6 M640.6 4101.7L663.1 4071.8 M667.3 4121.7L687.7 4094.5 M705.2 4150.1L722.9 4126.5 M745.0 4180.0L773.0 4142.6 M-55.8 3514.4L34.1 3581.8 M50.6 3594.2L90.0 3623.8 M257.8 3749.6L297.0 3779.0 M300.1 3781.3L342.0 3812.8 M343.5 3813.9L449.1 3893.1 M559.6 3975.9L622.5 4023.1 M630.7 4029.3L663.9 4054.2 M-19.7 3541.5L-0.1 3515.4 M29.1 3578.1L51.2 3548.7 M106.9 3636.4L132.5 3602.3 M152.0 3670.2L171.8 3643.7 M184.8 3694.8L209.6 3661.7 M232.4 3730.5L257.2 3697.4 M275.4 3762.8L303.4 3725.4 M312.0 3790.3L328.2 3768.7 M337.1 3809.0L361.7 3776.2 M393.2 3851.2L410.0 3828.9 M440.4 3886.6L467.9 3849.9 M474.6 3912.2L497.3 3881.9 M583.8 3994.1L610.2 3959.0 M635.1 4032.6L661.6 3997.3 M658.4 4050.0L674.4 4028.6 M677.0 4064.0L705.6 4025.8 M53.3 3532.7L86.6 3557.7 M96.0 3564.7L139.4 3597.3 M150.8 3605.8L196.7 3640.3 M202.0 3644.2L279.4 3702.3 M758.0 4061.3L822.8 4109.8 M19.8 3507.6L42.0 3477.9 M77.9 3551.2L102.9 3517.8 M185.5 3631.9L201.4 3610.6 M206.9 3647.9L228.8 3618.6 M236.5 3670.1L261.1 3637.4 M270.1 3695.3L289.4 3669.7 M299.7 3717.6L315.7 3696.3 M514.4 3878.6L542.6 3841.1 M532.0 3891.8L551.2 3866.3 M559.5 3912.4L586.9 3875.9 M601.9 3944.2L621.8 3917.6 M637.3 3970.7L652.7 3950.2 M682.2 4004.4L704.1 3975.2 M760.2 4062.9L779.3 4037.5 M-1.7 3442.3L97.3 3516.6 M224.4 3611.9L326.8 3688.7 M328.9 3690.3L419.0 3757.8 M637.9 3922.0L676.2 3950.7 M682.3 3955.3L771.2 4022.0 M71.7 3497.4L89.8 3473.1 M136.3 3545.8L160.1 3514.1 M187.6 3584.3L210.0 3554.6 M206.6 3598.6L225.5 3573.3 M252.1 3632.7L277.5 3598.8 M277.2 3651.5L299.7 3621.4 M348.1 3704.6L369.4 3676.1 M388.5 3734.9L416.3 3697.8 M421.3 3759.5L443.9 3729.3 M458.5 3787.5L482.6 3755.3 M499.9 3818.5L521.9 3789.2 M646.9 3928.7L672.5 3894.5 M713.2 3978.5L731.2 3954.4 M748.4 4004.9L763.9 3984.2 M26.9 3404.1L71.1 3437.2 M81.0 3444.6L147.8 3494.7 M153.0 3498.7L248.9 3570.6 M267.1 3584.2L344.6 3642.3 M360.4 3654.2L411.4 3692.5 M417.7 3697.1L453.0 3723.7 M465.5 3733.0L539.5 3788.5 M593.8 3829.2L646.2 3868.5 M759.7 3953.7L824.5 4002.3 M74.0 3439.4L95.8 3410.4 M136.8 3486.5L162.1 3452.8 M155.6 3500.6L182.8 3464.2 M177.5 3517.0L196.6 3491.5 M208.0 3539.9L223.4 3519.2 M295.8 3605.7L314.3 3581.1 M330.1 3631.5L351.5 3603.0 M376.1 3666.0L395.7 3639.8 M442.3 3715.6L466.3 3683.7 M461.7 3730.2L486.3 3697.4 M505.6 3763.1L532.8 3726.8 M537.2 3786.8L563.9 3751.3 M590.6 3826.8L608.1 3803.5 M624.9 3852.6L642.7 3828.8 M649.0 3870.7L668.3 3845.0 M742.3 3940.6L758.3 3919.3 M780.9 3969.6L799.7 3944.5 M799.0 3983.2L817.7 3958.4 M60.9 3358.8L114.4 3399.0 M117.4 3401.3L224.4 3481.5 M330.0 3560.7L387.7 3604.0 M389.4 3605.2L492.0 3682.2 M507.4 3693.7L580.9 3748.9 M588.8 3754.8L639.9 3793.1 M642.9 3795.4L722.5 3855.1 M728.8 3859.8L794.7 3909.2 M797.4 3911.3L885.9 3977.7 M98.7 3387.2L116.5 3363.5 M154.8 3429.3L181.7 3393.3 M179.2 3447.6L199.0 3421.3 M203.4 3465.7L218.7 3445.3 M240.2 3493.3L266.3 3458.4 M287.4 3528.8L311.7 3496.4 M333.0 3562.9L357.5 3530.2 M414.8 3624.3L438.5 3592.7 M435.1 3639.6L455.6 3612.3 M454.6 3654.1L474.1 3628.1 M487.3 3678.7L504.5 3655.7 M517.1 3701.0L534.4 3678.0 M554.9 3729.4L571.2 3707.7 M582.9 3750.4L600.0 3727.6 M671.0 3816.4L691.0 3789.7 M690.5 3831.1L706.2 3810.1 M723.1 3855.6L744.6 3826.9 M750.6 3876.2L766.0 3855.7 M813.6 3923.4L837.8 3891.1 M836.8 3940.8L860.3 3909.5 M883.5 3975.8L906.4 3945.2 M198.0 3397.1L262.9 3445.8 M374.4 3529.4L479.2 3608.0 M481.9 3610.1L554.4 3664.5 M561.6 3669.9L671.8 3752.5 M730.6 3796.6L762.7 3820.7 M770.6 3826.6L821.7 3864.9 M162.5 3370.5L189.7 3334.2 M330.2 3496.3L350.3 3469.5 M390.3 3541.4L408.7 3516.8 M417.8 3562.0L439.9 3532.5 M439.2 3578.1L455.2 3556.8 M480.9 3609.4L506.6 3575.2 M513.2 3633.5L540.1 3597.6 M557.2 3666.6L575.7 3641.9 M672.5 3753.1L698.0 3719.1 M750.6 3811.6L775.4 3778.6 M829.1 3870.5L849.3 3843.6 M867.1 3898.9L884.6 3875.6 M885.1 3912.5L913.1 3875.1 M932.2 3947.8L956.7 3915.1 M115.6 3285.8L198.1 3347.7 M216.8 3361.7L327.9 3445.0 M342.2 3455.7L383.7 3486.9 M482.3 3560.8L540.7 3604.6 M551.5 3612.8L622.2 3665.7 M808.7 3805.6L919.2 3888.5 M171.9 3328.0L188.4 3306.1 M217.9 3362.5L239.6 3333.5 M239.1 3378.5L254.4 3358.1 M273.9 3404.6L297.6 3373.1 M299.9 3424.0L321.5 3395.1 M328.6 3445.6L344.3 3424.6 M375.1 3480.5L392.7 3457.1 M463.5 3546.7L489.6 3511.9 M493.1 3569.0L515.7 3538.8 M671.3 3702.6L686.7 3682.1 M694.1 3719.7L710.1 3698.3 M749.6 3761.3L764.7 3741.1 M791.5 3792.8L817.7 3757.9 M953.3 3914.1L981.4 3876.6 M144.3 3247.7L232.7 3314.0 M289.3 3356.4L352.4 3403.7 M365.5 3413.6L462.4 3486.2 M475.1 3495.8L535.5 3541.0 M553.6 3554.6L611.3 3597.9 M618.0 3602.9L709.3 3671.4 M803.4 3742.0L843.9 3772.4 M850.9 3777.6L917.4 3827.5 M927.4 3835.0L991.7 3883.2 M190.8 3282.6L218.0 3246.4 M294.0 3360.0L318.8 3327.0 M317.0 3377.2L341.4 3344.8 M363.4 3412.0L381.0 3388.7 M548.4 3550.8L571.3 3520.3 M608.1 3595.5L632.3 3563.3 M638.4 3618.3L656.6 3594.0 M674.3 3645.2L696.4 3615.7 M724.0 3682.5L747.2 3651.5 M770.0 3716.9L791.4 3688.3 M892.5 3808.9L919.5 3772.9 M946.5 3849.3L973.1 3813.9 M479.2 3434.0L575.8 3506.4 M586.5 3514.4L687.8 3590.4 M693.4 3594.6L776.9 3657.2 M788.0 3665.5L883.0 3736.7 M251.6 3263.2L271.6 3236.4 M272.2 3278.7L292.0 3252.3 M337.3 3327.5L357.6 3300.3 M425.7 3393.8L454.3 3355.6 M548.1 3485.6L567.8 3459.4 M640.1 3554.6L656.9 3532.2 M678.8 3583.6L695.6 3561.2 M736.1 3626.6L753.8 3602.9 M823.9 3692.4L843.2 3666.7 M853.9 3714.9L877.6 3683.3 M914.4 3760.3L936.4 3731.0 M960.7 3795.0L985.4 3762.1 M985.4 3813.6L1004.3 3788.3 M451.4 3348.6L488.5 3376.5 M659.8 3504.9L724.7 3553.6 M742.6 3567.0L794.8 3606.1 M911.0 3693.3L986.7 3750.1 M1004.6 3763.5L1043.7 3792.8 M320.5 3250.4L344.2 3218.8 M352.3 3274.3L373.8 3245.8 M577.7 3443.4L599.1 3414.9 M655.7 3501.9L672.7 3479.2 M705.5 3539.2L729.4 3507.2 M828.4 3631.3L843.6 3611.0 M916.9 3697.8L936.8 3671.3 M950.8 3723.2L967.4 3701.1 M992.4 3754.4L1014.4 3725.0 M1013.8 3770.4L1030.6 3748.0 M227.6 3136.5L300.6 3191.2 M316.2 3202.9L367.9 3241.7 M369.0 3242.5L418.4 3279.5 M500.4 3341.0L600.4 3416.0 M619.8 3430.6L693.8 3486.1 M815.4 3577.3L848.3 3602.0 M958.6 3684.6L1033.0 3740.5 M310.5 3198.6L326.6 3177.2 M336.1 3217.8L363.7 3180.9 M363.7 3238.5L387.7 3206.4 M443.1 3298.0L470.6 3261.4 M472.7 3320.2L497.9 3286.6 M498.1 3339.3L519.1 3311.4 M530.2 3363.4L551.2 3335.5 M561.5 3386.9L588.1 3351.5 M581.0 3401.5L603.6 3371.4 M610.8 3423.8L627.1 3402.0 M639.7 3445.5L661.3 3416.6 M696.7 3488.2L717.3 3460.8 M743.7 3523.5L766.8 3492.6 M790.5 3558.6L813.7 3527.6 M819.3 3580.2L842.7 3549.0 M854.8 3606.8L876.7 3577.7 M907.3 3646.2L925.8 3621.6 M993.5 3710.8L1017.9 3678.3 M1056.6 3758.2L1075.9 3732.3 M359.7 3160.9L452.8 3230.7 M603.0 3343.4L681.4 3402.2 M781.3 3477.1L886.6 3556.1 M977.1 3623.9L1044.9 3674.8 M322.4 3132.9L339.0 3110.9 M343.6 3148.8L371.8 3111.3 M402.3 3192.8L424.7 3163.0 M445.4 3225.2L472.5 3189.1 M477.4 3249.1L498.3 3221.2 M552.3 3305.3L576.8 3272.6 M625.1 3359.9L642.9 3336.2 M653.2 3381.0L673.1 3354.6 M688.8 3407.7L709.2 3380.6 M752.4 3455.4L774.0 3426.5 M799.8 3490.9L824.4 3458.1 M824.5 3509.5L849.6 3476.0 M859.6 3535.8L875.4 3514.6 M902.2 3567.8L927.1 3534.6 M1012.9 3650.8L1034.6 3621.8 M1058.2 3684.8L1084.9 3649.2 M289.9 3053.5L366.0 3110.6 M537.4 3239.2L585.3 3275.1 M913.9 3521.5L967.0 3561.4 M967.4 3561.7L1042.4 3618.0 M1048.3 3622.3L1100.5 3661.5 M315.7 3072.9L334.6 3047.8 M553.9 3251.6L581.8 3214.3 M607.2 3291.6L627.3 3264.7 M680.0 3346.1L699.8 3319.7 M763.1 3408.5L790.6 3371.9 M783.8 3424.0L800.5 3401.8 M831.5 3459.8L858.5 3423.7 M870.6 3489.1L893.5 3458.6 M995.2 3582.5L1017.4 3552.8 M1018.4 3599.9L1038.3 3573.4 M1051.1 3624.5L1075.9 3591.5 M1081.4 3647.2L1097.5 3625.8 M1113.8 3671.5L1142.3 3633.6 M318.6 3015.2L361.4 3047.3 M600.9 3227.0L707.7 3307.1 M1026.1 3545.8L1060.0 3571.3 M1076.6 3583.7L1163.7 3649.0 M376.8 3058.9L402.8 3024.3 M454.1 3116.8L473.9 3090.5 M497.7 3149.6L520.0 3119.9 M556.9 3194.0L584.1 3157.7 M579.9 3211.2L598.4 3186.5 M639.8 3256.1L663.8 3224.0 M665.3 3275.2L683.8 3250.5 M709.5 3308.4L727.7 3284.1 M736.3 3328.5L761.3 3295.1 M808.4 3382.6L833.9 3348.5 M833.4 3401.3L854.2 3373.7 M881.1 3437.1L901.0 3410.6 M955.8 3493.1L981.7 3458.6 M997.2 3524.1L1023.1 3489.6 M1026.3 3546.0L1049.5 3515.1 M1066.4 3576.1L1092.7 3541.0 M1084.5 3589.6L1104.7 3562.6 M1126.0 3620.8L1153.1 3584.6 M351.2 2971.7L457.7 3051.6 M538.6 3112.2L586.0 3147.8 M721.2 3249.2L789.5 3300.4 M847.1 3343.7L893.9 3378.7 M894.9 3379.5L951.5 3421.9 M953.9 3423.7L1028.1 3479.4 M1039.4 3487.9L1132.4 3557.6 M371.3 2986.8L387.4 2965.4 M444.0 3041.3L461.2 3018.3 M471.6 3062.0L490.7 3036.6 M588.2 3149.5L605.9 3126.0 M682.7 3220.3L699.9 3197.3 M729.6 3255.5L747.6 3231.4 M771.4 3286.9L795.5 3254.9 M803.2 3310.7L818.4 3290.4 M830.0 3330.8L848.6 3306.0 M866.4 3358.1L888.0 3329.4 M903.0 3385.5L922.9 3359.0 M947.5 3418.9L968.2 3391.2 M981.5 3444.4L1001.1 3418.3 M1026.9 3478.4L1054.8 3441.2 M1093.0 3528.0L1121.5 3489.9 M1119.3 3547.8L1144.3 3514.5 M1144.1 3566.3L1161.3 3543.4 M1190.5 3601.1L1206.8 3579.4 M447.1 2989.1L552.9 3068.4 M560.5 3074.1L592.6 3098.2 M685.2 3167.6L724.4 3197.0 M822.9 3270.9L890.3 3321.5 M1120.5 3494.1L1191.7 3547.5 M420.6 2969.2L440.3 2942.9 M444.1 2986.9L470.7 2951.5 M665.5 3152.9L693.2 3115.9 M683.8 3166.6L703.5 3140.3 M807.9 3259.7L832.1 3227.4 M872.9 3308.5L890.5 3285.0 M1085.1 3467.6L1113.1 3430.2 M1122.1 3495.4L1142.4 3468.3 M1150.5 3516.6L1167.7 3493.6 M1192.3 3548.0L1216.3 3515.9" fill="none" stroke="#8c8c8c" stroke-width="0.7"/>
<circle cx="162.1" cy="2455.9" r="10.3" fill="#ff00ff"/>
<circle cx="227.3" cy="2467.5" r="7.7" fill="#ff00ff"/>
<circle cx="237.0" cy="2481.0" r="8.4" fill="#ff00ff"/>
<circle cx="247.6" cy="2493.9" r="8.7" fill="#ff00ff"/>
<circle cx="267.5" cy="2474.6" r="11.2" fill="#ff00ff"/>
<circle cx="162.4" cy="2502.9" r="9.6" fill="#ff00ff"/>
<circle cx="158.2" cy="2538.9" r="9.3" fill="#ff00ff"/>
<circle cx="233.8" cy="2524.4" r="9.6" fill="#ff00ff"/>
<circle cx="261.1" cy="2531.1" r="9.6" fill="#ff00ff"/>
<circle cx="306.7" cy="2546.2" r="9.6" fill="#ff00ff"/>
<circle cx="327.9" cy="2548.5" r="9.6" fill="#ff00ff"/>
<circle cx="153.4" cy="2565.5" r="8.0" fill="#ff00ff"/>
<circle cx="299.0" cy="2567.1" r="11.6" fill="#ff00ff"/>
<circle cx="148.6" cy="2585.5" r="8.7" fill="#ff00ff"/>
<circle cx="139.6" cy="2594.5" r="7.1" fill="#ff00ff"/>
<circle cx="286.8" cy="2592.9" r="11.2" fill="#ff00ff"/>
<circle cx="349.5" cy="2599.3" r="10.3" fill="#ff00ff"/>
<circle cx="368.8" cy="2594.1" r="9.6" fill="#ff00ff"/>
<circle cx="384.8" cy="2592.9" r="10.6" fill="#ff00ff"/>
<circle cx="425.0" cy="2570.4" r="7.4" fill="#ff00ff"/>
<circle cx="464.5" cy="2586.1" r="9.6" fill="#ff00ff"/>
<circle cx="485.4" cy="2576.1" r="7.7" fill="#ff00ff"/>
<circle cx="540.7" cy="2591.9" r="12.2" fill="#ff00ff"/>
<circle cx="119.6" cy="2667.4" r="10.6" fill="#ff00ff"/>
<circle cx="373.6" cy="2654.6" r="9.6" fill="#ff00ff"/>
<circle cx="391.9" cy="2656.2" r="8.7" fill="#ff00ff"/>
<circle cx="419.2" cy="2657.8" r="9.6" fill="#ff00ff"/>
<circle cx="457.1" cy="2664.9" r="8.0" fill="#ff00ff"/>
<circle cx="468.4" cy="2653.9" r="7.1" fill="#ff00ff"/>
<circle cx="253.0" cy="2714.0" r="7.4" fill="#ff00ff"/>
<circle cx="216.7" cy="2720.5" r="8.0" fill="#ff00ff"/>
<circle cx="232.1" cy="2720.5" r="7.7" fill="#ff00ff"/>
<circle cx="248.9" cy="2729.1" r="7.1" fill="#ff00ff"/>
<circle cx="294.2" cy="2721.4" r="7.7" fill="#ff00ff"/>
<circle cx="318.9" cy="2718.2" r="9.6" fill="#ff00ff"/>
<circle cx="155.6" cy="2722.7" r="8.0" fill="#ff00ff"/>
<circle cx="146.0" cy="2731.1" r="7.7" fill="#ff00ff"/>
<circle cx="233.1" cy="2788.6" r="8.7" fill="#ff00ff"/>
<circle cx="233.8" cy="2824.0" r="9.3" fill="#ff00ff"/>
<circle cx="227.3" cy="2918.1" r="7.4" fill="#ff00ff"/>
<circle cx="228.3" cy="2940.0" r="7.7" fill="#ff00ff"/>
<circle cx="162.1" cy="2951.9" r="11.9" fill="#ff00ff"/>
<circle cx="145.4" cy="2968.0" r="10.6" fill="#ff00ff"/>
<circle cx="240.2" cy="2980.2" r="6.1" fill="#ff00ff"/>
<circle cx="231.5" cy="2996.9" r="4.8" fill="#ff00ff"/>
<circle cx="237.3" cy="3007.5" r="4.8" fill="#ff00ff"/>
<polygon points="437.9,2636.9 451.4,2638.5 449.1,2648.8 436.9,2647.2" fill="#ff00ff"/>
<polygon points="401.9,2667.4 410.5,2666.8 410.5,2672.2 429.8,2672.2 428.9,2685.1 401.9,2682.9" fill="#ff00ff"/>
<polygon points="370.4,2692.5 383.9,2691.5 386.4,2714.0 372.9,2716.3" fill="#ff00ff"/>
<polygon points="395.4,2700.2 427.6,2699.6 427.6,2722.1 415.4,2722.7 415.4,2725.3 396.7,2725.9" fill="#ff00ff"/>
<polygon points="437.9,2695.7 472.6,2698.0 471.6,2714.0 437.2,2711.8" fill="#ff00ff"/>
<polygon points="465.2,2712.4 474.8,2709.2 473.9,2727.9 462.9,2726.9" fill="#ff00ff"/>
<polygon points="472.6,2686.7 487.7,2683.5 489.3,2692.5 474.2,2695.7" fill="#ff00ff"/>
<polygon points="476.4,2709.2 484.5,2702.1 494.1,2710.8 489.9,2721.4 478.0,2722.1" fill="#ff00ff"/>
<polygon points="492.5,2667.4 543.9,2668.4 542.3,2687.4 513.4,2688.3 512.4,2700.2 492.5,2701.2" fill="#ff00ff"/>
<polygon points="517.6,2691.5 545.9,2691.5 545.9,2730.1 517.6,2730.1" fill="#ff00ff"/>
<polygon points="543.3,2653.0 545.9,2653.0 545.9,2666.8 543.3,2666.8" fill="#ff00ff"/>
<polygon points="146.0,2692.2 162.4,2692.2 160.8,2709.9 145.4,2709.2" fill="#ff00ff"/>
<polygon points="32.2,2702.1 106.8,2701.2 121.3,2707.6 122.2,2738.1 116.4,2746.2 130.9,2757.4 141.5,2747.8 146.0,2740.7 166.2,2740.7 165.3,2788.0 161.4,2789.6 160.8,2831.4 152.4,2833.0 161.4,2834.6 159.8,2853.9 151.8,2853.9 158.2,2876.4 159.8,2879.6 151.8,2881.2 152.4,2900.5 164.6,2900.5 164.6,2915.6 154.4,2916.5 153.4,2936.8 130.9,2936.8 130.9,2929.4 122.2,2929.4 121.3,2777.4 32.2,2777.4 32.2,2760.6 97.1,2760.0 97.8,2747.1 75.3,2747.1 75.3,2736.5 60.2,2736.5 60.2,2726.9 79.5,2726.9 79.5,2713.1 44.1,2713.1 32.2,2713.1" fill="#ff00ff"/>
<polygon points="122.9,2976.0 161.4,2976.0 161.4,3006.5 122.9,3006.5" fill="#ff00ff"/>
<polygon points="128.6,3006.5 167.9,3011.4 167.9,3045.1 157.6,3045.1 157.6,3056.0 128.6,3056.0" fill="#ff00ff"/>
<polygon points="257.9,2772.9 277.8,2772.9 276.5,2802.4 259.5,2802.4" fill="#ff00ff"/>
<polygon points="238.6,2802.4 259.5,2802.4 276.5,2802.4 281.0,2811.4 281.0,2818.5 273.9,2818.5 272.3,2834.6 246.6,2833.9 246.6,2818.5 241.8,2818.5 238.6,2810.5" fill="#ff00ff"/>
<polygon points="243.4,2859.6 251.4,2850.6 259.5,2859.6 250.8,2869.3" fill="#ff00ff"/>
<polygon points="221.9,2866.7 225.7,2860.9 242.4,2860.3 243.4,2889.2 228.9,2889.2 227.3,2874.8 221.9,2874.8" fill="#ff00ff"/>
<polygon points="246.6,2866.7 278.8,2866.1 279.7,2948.7 283.6,2995.3 277.1,2996.9 282.0,3014.6 284.2,3046.7 280.4,3048.3 280.4,3056.0 248.9,3056.0 248.9,3049.9 240.2,3049.9 239.2,3021.0 243.4,3019.4 241.8,2996.9 248.2,2995.3 248.9,2972.1 241.8,2971.2 233.8,2963.1 235.4,2950.3 243.4,2950.3 242.4,2908.5 237.0,2907.9 236.0,2894.0 245.0,2892.4" fill="#ff00ff"/>
<polygon points="301.2,2451.1 308.3,2451.1 308.3,2529.2 305.4,2528.6 299.0,2516.4 299.6,2458.5" fill="#ff0037"/>
<polygon points="310.9,2673.9 331.8,2659.4 356.9,2672.2 357.5,2698.9 334.4,2715.0 311.9,2702.1" fill="#ff0037"/>
<polygon points="302.9,2963.1 331.1,2963.1 331.1,2946.4 343.7,2946.4 343.7,2982.4 346.2,3033.9 320.5,3033.9 318.9,3056.0 306.1,3056.0 306.1,3024.2 301.6,3023.6 301.6,2995.3 305.4,2994.6" fill="#ff0037"/>
<polygon points="527.2,2992.1 545.9,2991.4 545.9,3056.0 541.4,3056.0 540.7,3023.6 526.2,3022.6" fill="#ff0037"/>
<circle cx="167.2" cy="3153.1" r="9.6" fill="#ff00ff"/>
<circle cx="150.2" cy="3620.1" r="6.4" fill="#ff00ff"/>
<circle cx="149.2" cy="3641.6" r="4.8" fill="#ff00ff"/>
<circle cx="147.9" cy="3654.5" r="5.8" fill="#ff00ff"/>
<circle cx="233.8" cy="3163.7" r="8.4" fill="#ff00ff"/>
<circle cx="250.8" cy="3295.5" r="7.7" fill="#ff00ff"/>
<circle cx="240.2" cy="3379.0" r="5.5" fill="#ff00ff"/>
<circle cx="250.8" cy="3379.0" r="4.8" fill="#ff00ff"/>
<circle cx="245.6" cy="3392.9" r="6.8" fill="#ff00ff"/>
<circle cx="231.5" cy="3478.7" r="7.1" fill="#ff00ff"/>
<polygon points="123.5,3056.0 157.6,3056.0 157.6,3061.8 123.5,3061.8" fill="#ff00ff"/>
<polygon points="131.9,3085.6 182.3,3085.6 182.3,3104.2 161.4,3105.8 161.4,3142.8 138.9,3143.4 130.9,3120.3" fill="#ff00ff"/>
<polygon points="165.3,3115.5 175.9,3105.8 189.7,3118.7 179.8,3129.3" fill="#ff00ff"/>
<polygon points="139.6,3170.1 161.4,3166.9 166.2,3199.0 144.7,3202.2" fill="#ff00ff"/>
<polygon points="125.4,3219.9 148.6,3219.3 149.2,3239.2 157.6,3238.6 158.9,3257.9 130.9,3261.1 127.7,3241.8" fill="#ff00ff"/>
<polygon points="131.9,3274.6 167.9,3275.2 167.9,3291.3 163.0,3292.2 164.0,3323.4 169.5,3324.4 171.7,3355.6 154.4,3358.1 151.8,3326.0 127.7,3326.0 127.7,3296.4 133.1,3295.5" fill="#ff00ff"/>
<polygon points="142.1,3365.2 159.8,3365.2 159.8,3382.2 164.0,3383.2 164.0,3399.3 158.2,3399.9 158.2,3422.4 162.1,3424.0 162.1,3444.9 156.6,3446.5 156.6,3504.4 167.9,3508.6 166.2,3525.3 160.8,3525.9 158.2,3537.5 129.3,3536.5 128.6,3412.8 135.7,3411.2 135.1,3399.3 132.5,3398.3 132.5,3383.2 142.1,3382.2" fill="#ff00ff"/>
<polygon points="129.3,3551.0 156.6,3551.0 158.2,3586.4 169.5,3589.6 170.4,3618.5 166.2,3618.5 165.3,3596.0 155.0,3596.0 155.0,3613.7 151.1,3613.7 151.1,3585.7 143.8,3584.8 143.8,3564.5 129.3,3564.5" fill="#ff00ff"/>
<polygon points="154.4,3627.5 166.2,3627.5 166.2,3633.0 154.4,3633.0" fill="#ff00ff"/>
<polygon points="249.8,3056.0 281.0,3056.0 282.0,3065.0 250.8,3067.2" fill="#ff00ff"/>
<polygon points="234.7,3114.8 252.1,3114.8 252.1,3133.8 234.7,3133.8" fill="#ff00ff"/>
<polygon points="234.7,3139.6 252.1,3138.9 252.1,3147.6 249.8,3148.6 249.8,3157.2 234.7,3157.2" fill="#ff00ff"/>
<polygon points="234.7,3169.1 251.4,3169.1 252.1,3203.9 234.7,3203.9" fill="#ff00ff"/>
<polygon points="233.8,3232.1 246.6,3232.1 247.6,3247.2 251.4,3248.2 251.4,3274.6 234.7,3276.2 234.7,3247.2 233.8,3246.3" fill="#ff00ff"/>
<polygon points="252.1,3281.0 261.1,3280.4 261.7,3292.2 252.1,3293.2" fill="#ff00ff"/>
<polygon points="241.8,3307.4 252.1,3307.4 252.7,3321.2 256.2,3322.1 256.2,3343.7 243.4,3344.6 241.8,3322.8" fill="#ff00ff"/>
<polygon points="241.8,3349.1 254.0,3348.5 254.6,3361.4 242.4,3363.0" fill="#ff00ff"/>
<polygon points="241.8,3365.2 251.4,3364.6 251.4,3372.6 242.4,3373.6" fill="#ff00ff"/>
<polygon points="237.9,3430.5 262.7,3428.9 264.3,3443.3 239.2,3445.6" fill="#ff00ff"/>
<polygon points="239.2,3447.5 264.9,3444.9 266.9,3459.4 241.1,3461.6" fill="#ff00ff"/>
<polygon points="240.2,3473.9 256.2,3470.0 259.5,3479.6 251.4,3480.9 252.1,3486.1 241.8,3487.4" fill="#ff00ff"/>
<polygon points="270.1,3473.2 277.1,3470.6 285.2,3482.9 278.8,3486.7" fill="#ff00ff"/>
<polygon points="241.8,3490.6 252.1,3489.3 254.0,3502.1 243.4,3503.4" fill="#ff00ff"/>
<polygon points="243.4,3506.6 253.4,3506.6 253.4,3520.5 243.4,3520.5" fill="#ff00ff"/>
<polygon points="225.7,3554.2 233.8,3551.0 235.4,3554.9 251.4,3550.4 254.0,3573.5 249.8,3575.1 252.1,3588.0 238.6,3594.4 235.4,3579.3 230.5,3579.9" fill="#ff00ff"/>
<polygon points="237.3,3612.7 257.9,3612.7 257.9,3630.7 237.3,3630.7" fill="#ff00ff"/>
<polygon points="229.6,3664.1 256.2,3661.9 257.2,3676.0 230.5,3676.0" fill="#ff00ff"/>
<polygon points="306.1,3056.0 321.5,3056.0 322.1,3070.5 306.7,3070.5" fill="#ff0037"/>
<polygon points="521.4,3059.9 545.9,3056.0 545.9,3073.7 534.3,3068.9" fill="#ff0037"/>
<polygon points="410.5,3086.5 463.6,3080.1 495.7,3078.5 511.8,3080.1 511.1,3097.1 507.0,3097.1 507.0,3084.3 441.1,3084.9 441.1,3097.8 419.2,3097.8 419.2,3105.8 411.5,3105.8" fill="#ff0037"/>
<polygon points="265.9,3105.8 306.1,3100.4 306.7,3105.8 317.3,3106.8 317.3,3109.0 277.1,3113.2 280.4,3154.0 303.5,3153.1 310.9,3223.1 315.7,3332.4 331.1,3331.8 328.6,3377.4 335.6,3428.9 327.9,3438.5 324.7,3462.6 296.4,3474.5 290.0,3465.8 302.9,3460.4 294.8,3444.9 286.8,3425.6 284.2,3409.6 287.4,3389.6 264.3,3391.9 261.7,3337.2 271.4,3335.6 264.9,3263.3 261.1,3261.7 257.2,3175.6 261.7,3174.9 261.7,3138.0 265.9,3136.4" fill="#ff0037"/>
<polygon points="32.2,3662.9 130.9,3660.3 130.9,3676.0 32.2,3676.0" fill="#ff0037"/>
<polygon points="32.2,3810.4 129.9,3809.4 134.1,4280.3 71.4,4280.3 71.4,4262.6 55.4,4262.6 55.4,4259.4 71.4,4258.4 71.4,4248.1 32.2,4248.1" fill="#00dd00"/>
<polygon points="32.2,3676.0 130.9,3676.0 131.9,3714.6 122.9,3748.3 130.9,3760.2 131.9,3771.8 66.6,3774.0 32.2,3775.0 32.2,3731.3 66.6,3730.0 110.0,3728.1 110.0,3700.1 87.5,3700.1 87.5,3708.1 32.2,3709.8" fill="#ff0037"/>
<polygon points="286.8,3682.4 306.7,3725.8 308.6,3782.1 293.2,3769.2 277.1,3753.1 272.3,3727.4 277.1,3692.1" fill="#ff0037"/>
<polygon points="308.6,3785.3 310.9,3785.3 313.1,3992.6 321.5,3992.6 322.1,4092.2 315.1,4093.2 315.1,4127.6 313.1,4127.6 309.3,3994.2" fill="#ff0037"/>
<polygon points="313.1,4159.8 320.5,4159.8 321.5,4188.7 341.4,4189.6 405.7,4191.9 453.9,4201.5 482.9,4206.4 495.7,4216.0 521.4,4238.5 545.9,4257.8 545.9,4270.0 531.1,4254.6 502.1,4228.9 470.0,4212.8 450.7,4208.0 405.7,4197.4 365.5,4196.1 360.7,4201.5 344.6,4203.1 338.2,4197.4 322.1,4196.7 315.7,4201.5 310.9,4196.1" fill="#ff0037"/>
<circle cx="159.8" cy="3779.5" r="8.7" fill="#ff00ff"/>
<circle cx="154.4" cy="3790.1" r="8.0" fill="#ff00ff"/>
<circle cx="180.7" cy="3879.1" r="10.3" fill="#ff00ff"/>
<circle cx="157.6" cy="3898.8" r="8.0" fill="#ff00ff"/>
<circle cx="159.8" cy="3934.8" r="8.0" fill="#ff00ff"/>
<circle cx="159.8" cy="3951.5" r="10.3" fill="#ff00ff"/>
<circle cx="256.2" cy="4000.6" r="10.3" fill="#ff00ff"/>
<circle cx="243.4" cy="4014.1" r="8.7" fill="#ff00ff"/>
<circle cx="254.0" cy="4041.8" r="10.6" fill="#ff00ff"/>
<circle cx="169.5" cy="4063.3" r="6.4" fill="#ff00ff"/>
<circle cx="181.4" cy="4074.6" r="9.6" fill="#ff00ff"/>
<circle cx="164.0" cy="4082.6" r="9.6" fill="#ff00ff"/>
<circle cx="182.3" cy="4097.7" r="14.5" fill="#ff00ff"/>
<circle cx="163.0" cy="4118.0" r="9.0" fill="#ff00ff"/>
<circle cx="183.9" cy="4118.9" r="7.1" fill="#ff00ff"/>
<circle cx="173.6" cy="4145.9" r="8.4" fill="#ff00ff"/>
<circle cx="171.7" cy="4167.8" r="11.6" fill="#ff00ff"/>
<circle cx="269.1" cy="4093.9" r="9.0" fill="#ff00ff"/>
<circle cx="256.2" cy="4100.9" r="8.7" fill="#ff00ff"/>
<circle cx="248.9" cy="4114.8" r="7.1" fill="#ff00ff"/>
<circle cx="260.4" cy="4138.9" r="10.3" fill="#ff00ff"/>
<circle cx="257.9" cy="4155.6" r="12.2" fill="#ff00ff"/>
<circle cx="254.6" cy="4176.8" r="12.2" fill="#ff00ff"/>
<circle cx="273.9" cy="4188.7" r="12.2" fill="#ff00ff"/>
<circle cx="270.1" cy="4204.8" r="7.1" fill="#ff00ff"/>
<polygon points="232.1,3676.0 257.2,3676.0 258.5,3692.1 233.8,3693.7" fill="#ff00ff"/>
<polygon points="240.2,3695.3 256.2,3696.9 253.0,3722.6 239.2,3720.4" fill="#ff00ff"/>
<polygon points="140.5,3707.5 164.0,3707.5 164.0,3719.4 140.5,3719.4" fill="#ff00ff"/>
<polygon points="166.2,3712.0 177.5,3707.5 178.1,3735.5 167.9,3729.0" fill="#ff00ff"/>
<polygon points="140.5,3738.7 151.8,3737.1 177.5,3745.1 177.5,3765.4 164.6,3764.4 161.4,3756.4 150.2,3753.1 148.6,3758.0 140.5,3758.0" fill="#ff00ff"/>
<polygon points="164.0,3796.5 176.9,3791.7 183.9,3810.4 171.1,3814.9" fill="#ff00ff"/>
<polygon points="166.2,3814.9 171.7,3814.9 171.7,3832.9 166.2,3832.9" fill="#ff00ff"/>
<polygon points="160.8,3836.1 189.7,3836.1 189.7,3865.6 179.1,3865.6 171.1,3851.2 161.4,3851.2" fill="#ff00ff"/>
<polygon points="154.4,3849.6 160.8,3849.6 160.8,3888.8 154.4,3888.8" fill="#ff00ff"/>
<polygon points="240.2,3762.1 270.1,3761.2 270.7,3770.8 282.0,3770.8 282.9,3785.3 292.6,3784.6 293.9,3802.0 254.0,3805.2 252.1,3786.9 247.6,3786.9 246.6,3777.2 241.8,3777.2" fill="#ff00ff"/>
<polygon points="245.6,3811.6 291.6,3807.8 294.8,3867.2 295.8,3913.9 277.1,3914.5 276.5,3920.3 272.3,3920.9 272.3,3935.7 252.1,3935.7 252.1,3915.5 250.8,3914.5 249.8,3883.3 243.4,3883.3 243.4,3853.4 254.6,3851.2 254.0,3843.1 248.9,3843.1" fill="#ff00ff"/>
<polygon points="257.2,3978.8 294.8,3978.8 295.8,3991.0 300.3,3991.6 298.0,4031.2 289.4,4033.4 288.4,4056.9 293.2,4058.5 291.6,4084.2 245.0,4082.6 245.0,4056.9 272.3,4056.9 272.3,4033.4 266.9,4032.1 261.7,4013.5 256.2,4010.3" fill="#ff00ff"/>
<polygon points="259.5,4108.3 280.4,4107.4 279.7,4126.6 259.5,4126.0" fill="#ff00ff"/>
<polygon points="141.5,2771.9 155.0,2768.7 160.8,2788.0 160.8,2829.8 152.4,2831.4 151.8,2797.6 142.1,2791.2" fill="#ffffff"/>
<polygon points="152.4,2835.2 160.8,2835.2 158.9,2876.4 150.2,2874.8" fill="#ffffff"/>
<polygon points="61.8,3920.3 115.8,3920.9 115.1,3942.1 61.8,3940.2" fill="#ffffff"/>
<polygon points="84.9,3964.6 104.2,3964.6 104.2,3979.8 126.1,3979.8 125.4,3994.9 84.9,3994.2" fill="#ffffff"/>
<polygon points="93.3,4002.2 127.7,4011.9 122.2,4033.4 113.2,4031.2 115.8,4019.3 102.0,4016.7 100.4,4020.6 89.1,4017.4" fill="#ffffff"/>
<polygon points="79.5,4068.1 114.8,4067.5 114.8,4084.2 94.6,4084.9 93.3,4106.7 100.4,4106.7 100.4,4126.0 82.7,4126.0 79.5,4144.6 54.7,4144.6 53.8,4108.3 78.5,4106.7" fill="#ffffff"/>
<polygon points="84.3,4169.4 111.6,4169.4 111.6,4180.6 84.3,4180.6" fill="#ffffff"/>
<polygon points="118.0,4254.6 127.7,4254.6 127.7,4270.6 118.0,4270.6" fill="#ffffff"/>
<polygon points="180.7,3879.1 192.0,3872.7 192.0,3884.9" fill="#ffffff"/>
<polygon points="166.2,4146.9 174.3,4142.1 178.1,4151.7 171.1,4159.8" fill="#ffffff"/>
</g>
<rect x="32.5" y="2451.5" width="513.0" height="1829.0" fill="none" stroke="#b4b4b4" stroke-width="1"/>
<g clip-path="url(#cp_b2)">
<rect x="666.5" y="2451.5" width="512.0" height="1829.0" fill="#fff"/>
<path d="M984.3 2451.1 L984.3 2860.3 L990.7 2886.0 L1006.8 2902.1 L1029.3 2914.9 L1178.8 3014.6 M984.3 3056.0 L984.3 2963.1 L990.7 2950.3 L1003.6 2941.3 L1019.6 2942.2 L1029.3 2950.3 L1178.8 3054.8 M1019.6 2902.1 L1178.8 3001.7 M1007.4 3056.0 L1008.4 3014.6 L1024.5 2989.5 L1074.3 2989.5 L1178.8 3056.0 M836.4 2998.5 L836.4 3040.9 L868.6 3040.9 L868.6 3010.7 M681.5 2497.1 L681.5 2572.6 M704.0 2497.1 L705.3 2572.6 M726.5 2493.9 L726.5 2537.2 L706.2 2537.2 M741.6 2492.2 L743.2 2561.4 M756.1 2490.6 L756.1 2525.4 L795.3 2524.4 L795.3 2488.1 M778.6 2525.4 L780.2 2561.4 M729.7 2562.0 L836.4 2562.0 M729.7 2562.0 L729.7 2599.9 M765.7 2562.0 L765.7 2596.1 L784.4 2596.7 M794.6 2562.0 L794.6 2599.9 M818.8 2562.0 L818.8 2593.5 L794.6 2593.5 M681.5 2547.9 L705.3 2546.9 M683.8 2547.9 L683.8 2568.4 L695.0 2568.4 M823.6 2520.2 L831.6 2512.5 L837.1 2520.2 L828.4 2529.2 L823.6 2520.2 M666.1 2632.1 L691.1 2631.4 L701.4 2622.4 M714.3 2627.2 L740.0 2627.2 L740.0 2641.7 L748.0 2651.4 L746.4 2672.2 M712.7 2627.2 L710.4 2672.2 L699.8 2672.2 L699.8 2696.4 L746.4 2701.2 M759.3 2644.9 L785.0 2644.9 L785.0 2622.4 L831.6 2622.4 L831.6 2644.9 L759.3 2644.9 L757.7 2667.4 L809.1 2670.0 L810.1 2661.0 M787.6 2653.0 L817.1 2653.9 L817.1 2661.0 L787.6 2661.0 L787.6 2653.0 M831.6 2644.9 L833.2 2670.6 L846.7 2670.6 M666.1 2662.6 L691.1 2662.6 L691.1 2632.1 M678.3 2667.4 L678.9 2694.8 L666.1 2694.8 M748.0 2672.2 L831.6 2670.6 M746.4 2701.2 L777.0 2704.4 L831.6 2704.4 M741.6 2704.4 L740.6 2738.1 L777.0 2739.8 L815.5 2738.1 L815.5 2760.6 M777.0 2704.4 L777.9 2738.1 M789.8 2704.4 L789.8 2715.6 M705.3 2702.1 L705.3 2722.1 L720.7 2723.7 L720.7 2699.6 M701.4 2730.1 L711.1 2730.1 M773.8 2746.2 L797.2 2747.1 L797.2 2755.8 L773.8 2754.2 M691.8 2760.6 L691.8 2771.9 L712.7 2772.9 L712.7 2783.1 L688.6 2782.5 L687.9 2808.9 L709.5 2808.9 M746.4 2765.5 L747.1 2807.2 L768.9 2808.2 L769.6 2763.9 M786.6 2767.1 L785.0 2808.2 L804.3 2808.9 L838.0 2809.5 M666.1 2807.2 L687.9 2806.3 M710.4 2807.2 L731.0 2806.3 L731.0 2850.6 M666.1 2830.7 L683.8 2830.7 L683.8 2841.0 L666.1 2841.6 M666.1 2852.2 L680.5 2852.2 L680.5 2863.5 L666.1 2863.5 M709.5 2850.6 L807.5 2852.2 L808.1 2825.6 L835.8 2825.6 M804.3 2808.9 L804.9 2824.9 M710.4 2831.4 L710.4 2850.6 M712.7 2857.1 L722.3 2856.4 L722.3 2873.8 L712.7 2873.8 L712.7 2857.1 M725.5 2850.6 L720.7 2878.0 L721.4 2898.9 M740.0 2861.9 L752.2 2861.9 L752.2 2900.5 M768.3 2852.2 L768.3 2877.0 L782.4 2877.0 L817.1 2877.0 M782.4 2877.0 L782.4 2903.7 M807.5 2852.2 L839.6 2853.9 M685.4 2904.6 L675.7 2971.2 L666.1 2979.2 M729.7 2908.5 L729.7 2940.6 L685.4 2935.8 M729.7 2940.6 L797.9 2947.1 L799.5 2927.8 L793.0 2927.1 L793.0 2914.9 M682.1 2940.6 L727.1 2950.3 L719.1 2990.5 L674.1 2979.2 M701.4 2945.5 L697.6 2984.0 M783.4 2947.1 L780.2 2985.6 L834.8 2996.9 M810.7 2948.7 L812.3 2972.1 L851.9 2972.8 M723.9 2982.4 L717.5 3008.1 L781.8 3019.4 L786.6 2986.3 M719.1 2990.5 L780.2 3002.4 M666.1 3019.4 L715.9 3029.0 L719.1 3008.1 M715.9 3029.0 L714.3 3056.0 M762.5 3016.2 L757.7 3045.1 L834.8 3040.3 M666.1 3030.6 L757.7 3045.1 L760.9 3056.0 M1030.9 2466.5 L1055.0 2477.8 L1051.8 2481.0 L1093.6 2498.7 L1119.3 2464.9 L1100.0 2451.1 M1035.7 2451.1 L1055.0 2477.8 M1119.3 2464.9 L1151.4 2487.4 L1161.1 2451.1 M1093.6 2498.7 L1138.6 2529.2 L1151.4 2487.4 M1032.5 2514.8 L1047.0 2498.7 L1055.0 2505.1 L1048.6 2513.1 L1055.0 2516.4 L1051.8 2521.2 M1035.7 2521.2 L1106.4 2571.0 L1138.6 2529.2 L1178.8 2558.1 M1046.0 2567.8 L1055.6 2557.5 L1065.3 2567.1 L1056.6 2577.4 L1046.0 2567.8 M1106.4 2571.0 L1077.5 2611.2 L1041.5 2597.4 M1077.5 2611.2 L1106.4 2628.9 L1125.7 2599.9 L1106.4 2571.0 M1125.7 2599.9 L1157.9 2622.4 M1080.7 2619.2 L1093.6 2603.1 L1100.0 2608.0 L1088.8 2622.4 M1041.5 2632.1 L1064.6 2648.1 L1080.7 2654.6 L1106.4 2673.9 L1125.7 2648.1 L1106.4 2628.9 M1041.5 2682.9 L1080.7 2709.2 L1106.4 2673.9 M1125.7 2648.1 L1145.0 2661.0 M1112.9 2738.1 L1141.8 2757.4 L1178.8 2783.1 M1093.6 2776.7 L1178.8 2837.8 M1141.8 2757.4 L1164.3 2725.3 L1178.8 2734.9 M1122.5 2738.1 L1135.4 2744.6 L1145.0 2731.7 L1132.1 2723.7 M1067.9 2805.6 L1178.8 2882.8 M1051.8 2834.6 L1080.7 2853.9 L1100.0 2828.1 M1080.7 2853.9 L1051.8 2886.0 L1077.5 2905.3 L1106.4 2869.9 L1080.7 2853.9 M1106.4 2869.9 L1125.7 2882.8 L1151.4 2850.6 M1077.5 2905.3 L1100.0 2921.4 L1125.7 2882.8 L1151.4 2902.1 L1178.8 2866.7 M1146.6 2889.2 L1157.9 2871.5 L1170.7 2879.6 L1159.5 2895.6 L1146.6 2889.2 M1061.4 2924.6 L1100.0 2921.4 M1100.0 2947.1 L1122.5 2914.9 L1151.4 2902.1 M1122.5 2914.9 L1151.4 2937.4 L1178.8 2902.1 M1092.0 3030.6 L1106.4 3011.4 L1122.5 3024.2 L1106.4 3046.7 M1122.5 3024.2 L1151.4 3056.0 M1145.0 3056.0 L1161.1 3030.6 L1178.8 3043.5 M1148.2 2770.3 L1157.9 2757.4 L1170.7 2767.1 L1164.3 2779.9 M1138.6 2802.4 L1151.4 2812.1 L1178.8 2776.7 M1119.3 2464.9 L1132.1 2451.1 M1138.6 2529.2 L1164.3 2497.1 L1178.8 2505.1 M1157.9 2622.4 L1178.8 2593.5 M1151.4 2487.4 L1178.8 2474.6" fill="none" stroke="#8c8c8c" stroke-width="0.7"/>
<path d="M982.7 3056.0 L976.2 3676.0 M1006.8 3056.0 L1005.2 3141.2 M1005.2 3141.2 L1005.2 3297.1 L1077.5 3345.3 M1005.2 3213.5 L1125.7 3281.0 M1010.0 3141.2 L1026.1 3121.9 L1048.6 3138.0 L1034.1 3157.2 L1010.0 3141.2 M1034.1 3157.2 L1080.7 3076.9 L1125.7 3109.0 L1141.8 3088.1 L1178.8 3113.9 M1080.7 3076.9 L1100.0 3056.0 M1048.6 3138.0 L1067.9 3174.9 L1098.4 3117.1 L1083.9 3107.4 L1100.0 3091.4 L1119.3 3104.2 M1098.4 3117.1 L1161.1 3162.1 L1178.8 3136.4 M1067.9 3174.9 L1093.6 3194.2 L1125.7 3139.6 M1093.6 3194.2 L1145.0 3231.2 L1161.1 3162.1 M1013.2 3187.8 L1027.7 3170.1 L1063.0 3197.4 L1050.2 3213.5 L1013.2 3187.8 M1093.6 3194.2 L1059.8 3245.6 L1125.7 3281.0 L1178.8 3191.0 M1108.0 3247.2 L1124.1 3223.1 L1141.8 3236.0 L1127.3 3258.5 M1077.5 3345.3 L1096.8 3346.9 L1154.6 3383.9 L1178.8 3351.7 M1096.8 3346.9 L1061.4 3403.1 L1117.7 3438.5 L1154.6 3383.9 M1061.4 3403.1 L1030.9 3440.1 L1071.1 3465.8 L1083.9 3470.6 L1108.0 3433.7 M1072.7 3457.8 L1095.2 3425.6 L1106.4 3432.1 M1030.9 3440.1 L997.1 3488.3 L997.1 3534.9 L1014.8 3536.5 L1026.1 3543.0 L1071.1 3465.8 M1026.1 3543.0 L1104.8 3592.8 L1135.4 3551.0 L1143.4 3547.8 L1151.4 3557.4 M1083.9 3470.6 L1178.8 3531.7 M1117.7 3438.5 L1169.8 3409.6 L1178.8 3416.0 M1093.6 3530.1 L1109.6 3506.0 L1130.5 3512.4 L1122.5 3525.3 L1109.6 3541.4 L1093.6 3530.1 M1109.6 3506.0 L1122.5 3499.6 L1132.1 3504.4 M1117.7 3493.1 L1161.1 3470.6 L1178.8 3483.5 M1122.5 3549.4 L1132.1 3539.8 L1141.8 3547.8 L1170.7 3589.6 L1178.8 3583.1 M1000.4 3534.9 L1002.0 3676.0 M1002.0 3567.1 L1037.3 3586.4 L1051.8 3560.6 M1002.0 3586.4 L1151.4 3678.0 M1037.3 3586.4 L1058.2 3594.4 L1074.3 3576.7 M1042.1 3612.1 L1059.8 3592.8 M1104.8 3592.8 L1149.8 3624.9 L1170.7 3589.6 M1127.3 3570.3 L1138.6 3560.6 L1146.6 3568.7 L1138.6 3579.9 L1127.3 3570.3 M1141.8 3454.6 L1162.7 3470.6 L1178.8 3448.1 M1164.3 3464.2 L1178.8 3475.5 M666.1 3059.2 L712.7 3064.0 L701.4 3125.1 L666.1 3121.9 M712.7 3064.0 L719.1 3083.3 L712.7 3117.1 L754.5 3125.1 L768.9 3056.0 M666.1 3126.7 L714.3 3133.1 L786.6 3139.6 L823.6 3134.8 M764.1 3091.4 L762.5 3125.1 L823.6 3134.8 M777.0 3064.0 L796.2 3064.0 L796.2 3083.3 L777.0 3083.3 L777.0 3064.0 M804.3 3062.4 L830.0 3060.8 L805.9 3072.1 M683.8 3128.3 L680.5 3203.9 M666.1 3168.5 L682.1 3170.1 M682.1 3173.3 L711.1 3176.5 M719.1 3136.4 L714.3 3205.5 L796.2 3209.6 L833.2 3210.3 M786.6 3139.6 L786.6 3158.9 L781.8 3158.9 L782.4 3183.0 L833.2 3183.0 M714.3 3179.8 L754.5 3182.0 L796.2 3183.0 L796.2 3245.6 M754.5 3182.0 L754.5 3207.1 M764.1 3208.7 L764.1 3244.0 M741.6 3207.1 L740.6 3229.6 L746.4 3242.4 L762.5 3244.0 M670.9 3232.1 L670.9 3216.7 L687.9 3215.1 L687.9 3261.7 L712.7 3261.7 M666.1 3232.1 L670.9 3232.1 M736.8 3255.9 L736.8 3279.4 L778.6 3279.4 L778.6 3255.3 M778.6 3279.4 L778.6 3309.9 L836.4 3309.9 M666.1 3309.9 L698.2 3307.4 L746.4 3309.3 L746.4 3335.6 L765.7 3338.2 L765.7 3329.2 L773.8 3329.2 L773.8 3324.4 L837.1 3324.4 M698.2 3307.4 L703.0 3342.1 L728.8 3335.6 L729.7 3324.4 L746.4 3324.4 M703.0 3342.1 L704.6 3354.9 L670.9 3358.1 L675.7 3385.5 L701.4 3383.9 L706.2 3377.4 L707.2 3358.1 M773.8 3329.2 L773.8 3356.5 L806.9 3358.1 L806.9 3338.9 L837.1 3338.9 M796.2 3358.1 L797.9 3392.9 L833.2 3393.5 M754.5 3367.8 L773.8 3367.1 M754.5 3367.8 L754.5 3413.4 M816.5 3393.5 L816.5 3403.1 M806.9 3404.8 L807.5 3421.8 M666.1 3359.8 L670.9 3409.6 L677.3 3409.6 M694.4 3396.7 L711.1 3396.7 L711.1 3409.6 M694.4 3396.7 L694.4 3409.6 M670.9 3425.0 L707.9 3424.0 L707.9 3438.5 L697.6 3438.5 L697.6 3448.1 L688.6 3448.1 L688.6 3438.5 L671.9 3438.5 L670.9 3425.0 M760.9 3425.0 L760.9 3459.4 L828.4 3460.4 M810.7 3425.6 L810.7 3459.4 M762.5 3460.4 L762.5 3489.3 L828.4 3489.3 M793.0 3460.4 L793.0 3489.3 M688.6 3448.1 L688.6 3473.9 L719.1 3475.5 L719.1 3449.8 M719.1 3475.5 L746.4 3477.1 M666.1 3451.4 L688.6 3450.7 M666.1 3485.1 L699.8 3486.1 L699.8 3473.9 M672.5 3486.7 L669.9 3517.2 L686.0 3520.5 M727.1 3477.7 L725.5 3504.4 L718.1 3505.4 L717.5 3526.9 L695.0 3523.7 L695.6 3506.0 L687.9 3504.4 M748.0 3489.9 L749.6 3522.1 L793.0 3525.3 L794.6 3552.6 L828.4 3554.2 M805.9 3489.9 L805.9 3525.3 M756.1 3523.7 L754.5 3551.0 M666.1 3557.4 L688.6 3559.0 L689.2 3567.1 L700.8 3567.1 L701.4 3559.0 L715.9 3560.0 L715.9 3568.7 L732.0 3569.6 L732.0 3583.8 L746.4 3584.8 L746.4 3555.8 M746.4 3584.8 L786.6 3586.4 L796.2 3575.1 L796.2 3560.0 M786.6 3586.4 L786.6 3613.7 M701.4 3567.1 L698.2 3613.7 L666.1 3612.1 M712.7 3613.7 L828.4 3615.3 M683.8 3596.0 L684.7 3634.6 L666.1 3634.6 M698.2 3613.7 L693.4 3650.6 M712.7 3641.0 L762.5 3640.4 M712.7 3641.0 L711.1 3654.5 M741.6 3641.0 L741.6 3655.5 M722.3 3660.3 L722.3 3676.0 M772.1 3665.1 L772.8 3676.0" fill="none" stroke="#8c8c8c" stroke-width="0.7"/>
<path d="M977.2 3676.0 L977.2 3746.7 M977.2 3794.9 L984.3 3811.0 L1003.6 3827.1 L1178.8 3934.8 M973.0 4279.6 L973.0 3920.3 L977.9 3904.2 L993.9 3884.9 L1006.8 3879.1 L1019.6 3881.7 L1042.1 3895.2 L1030.9 3913.2 L1178.8 4007.1 M1026.7 3925.1 L1178.8 4019.9 M996.5 4095.5 L996.5 4279.6 M1036.4 4033.4 L1036.4 4279.6 M1061.4 4245.6 L1061.4 4279.6 M1056.6 4026.4 L1071.7 4026.4 L1106.4 4106.7 L1106.4 4188.7 L1097.8 4188.7 M1064.6 4036.0 L1064.0 4095.5 L1073.6 4096.4 L1073.6 4110.6 M1066.2 4037.6 L1093.6 4099.3 M996.5 4143.7 L1014.2 4143.7 L1014.2 4161.4 L996.5 4161.4 M1005.2 3676.0 L1088.8 3725.8 L1122.5 3676.0 M1088.8 3725.8 L1106.4 3721.0 L1178.8 3764.4 M1178.8 3688.9 L1151.4 3676.0 M1071.7 3772.4 L1037.3 3830.3 L1063.0 3846.4 L1100.0 3785.3 L1071.7 3772.4 M1100.0 3785.3 L1104.8 3775.6 L1096.8 3770.8 L1116.1 3749.9 L1122.5 3753.1 L1130.5 3735.5 L1178.8 3764.4 M1063.0 3846.4 L1100.0 3868.9 L1117.7 3881.7 L1140.2 3894.6 L1151.4 3901.0 L1178.8 3859.2 M1095.2 3839.9 L1106.4 3822.2 L1117.7 3830.3 L1112.9 3836.7 L1133.8 3851.2 L1140.2 3843.1 M1100.0 3868.9 L1116.1 3843.1 M1117.7 3881.7 L1132.1 3860.8 L1143.4 3868.9 L1140.2 3894.6 M1100.0 3785.3 L1167.5 3761.2 M1116.1 3836.7 L1148.2 3786.9 L1167.5 3798.1 L1178.8 3782.1 M1133.8 3851.2 L1157.9 3817.4 L1164.3 3822.2 L1172.3 3811.0 L1178.8 3817.4 M1151.4 3823.9 L1161.1 3812.6 L1170.7 3820.6 L1164.3 3830.3 L1151.4 3823.9 M666.1 3688.9 L691.8 3690.5 L691.8 3711.4 L728.8 3714.6 L728.8 3692.1 L722.3 3690.5 L722.3 3676.0 M711.1 3676.0 L711.1 3690.5 M772.1 3676.0 L770.5 3719.4 L801.1 3721.0 L833.2 3719.4 M666.1 3707.5 L670.9 3707.5 L670.9 3711.4 L691.8 3711.4 M677.3 3711.4 L675.7 3811.0 M728.8 3714.6 L748.0 3717.1 M758.6 3717.8 L758.6 3739.6 L801.1 3741.9 L801.1 3721.0 M758.6 3739.6 L723.3 3743.5 L723.3 3759.6 L709.5 3759.6 L709.5 3782.1 L833.2 3783.7 M786.6 3741.9 L785.6 3766.0 L756.1 3762.8 L755.4 3803.0 M682.1 3751.5 L683.8 3778.9 L702.1 3779.5 L702.1 3809.4 M732.9 3759.6 L732.9 3782.1 M724.6 3783.7 L724.6 3803.0 L756.1 3803.0 M739.4 3783.7 L739.4 3803.0 M808.1 3783.7 L808.1 3811.0 M666.1 3786.9 L675.1 3786.9 L675.1 3811.0 M669.9 3786.9 L669.9 3811.0 M666.1 3814.9 L702.1 3814.9 M722.3 3822.2 L723.3 3815.8 L736.8 3815.8 M722.3 3822.2 L715.9 3836.1 L716.9 3865.6 L703.0 3865.0 M724.6 3837.4 L777.0 3837.4 L777.9 3841.5 L799.5 3841.5 L799.5 3856.0 L805.9 3861.8 L799.5 3867.2 L798.5 3877.9 L828.4 3877.9 M724.6 3837.4 L724.6 3890.7 L778.6 3890.7 L778.6 3865.6 M778.6 3890.7 L830.0 3888.8 M677.3 3831.9 L686.0 3831.9 L686.0 3858.6 L677.3 3858.6 L677.3 3831.9 M686.0 3843.1 L710.4 3843.1 M666.1 3859.2 L677.3 3858.6 M666.1 3900.4 L686.0 3900.4 L686.0 3895.2 L677.3 3894.6 M729.7 3892.0 L733.6 3946.0 L822.0 3944.4 M733.6 3926.7 L820.4 3926.1 M685.4 3940.2 L726.5 3940.2 L727.1 3890.7 M685.4 3940.2 L684.7 3955.0 L675.7 3955.6 L675.7 3965.3 L689.2 3965.3 L691.1 3977.5 L727.1 3974.9 L791.4 3974.3 L791.4 4000.6 M666.1 3958.2 L675.7 3958.2 M719.1 3949.2 L797.2 3949.2 L797.2 3945.4 M772.1 3952.4 L802.7 3952.4 L802.7 3964.6 L772.1 3964.6 L772.1 3952.4 M691.1 3977.5 L697.6 4039.2 M727.1 3974.9 L727.8 3983.9 L736.1 3983.9 L736.1 4011.9 L762.5 4010.9 L767.3 4010.9 L767.3 4004.5 L791.4 4004.5 M696.6 4007.1 L713.6 4006.4 L715.9 4034.4 L706.2 4035.4 L704.0 4022.5 L698.2 4022.5 M762.5 4010.9 L761.9 4024.8 L747.1 4024.8 L747.1 4028.0 M666.1 4039.9 L728.1 4039.2 M666.1 4043.1 L707.9 4042.4 L707.2 4053.7 L701.4 4054.6 L703.0 4073.0 L666.1 4073.9 M810.7 4040.8 L810.1 4073.0 L775.4 4070.7 L728.8 4070.7 M775.4 4070.7 L776.0 4103.5 L818.8 4103.5 M676.4 4073.9 L676.4 4099.6 L728.8 4097.7 L728.8 4100.3 M666.1 4100.9 L672.5 4100.9 L672.5 4150.1 L666.1 4150.1 M728.8 4100.3 L760.9 4102.9 L760.9 4114.8 L818.8 4115.7 M736.8 4114.8 L735.2 4153.3 L672.5 4149.1 M791.4 4115.7 L792.1 4146.9 L818.8 4147.9 M760.9 4114.8 L736.8 4114.8 M681.5 4150.1 L681.5 4177.4 L666.1 4178.1 M681.5 4177.4 L706.2 4179.0 L732.0 4180.0 L732.9 4171.0 L772.1 4171.6 L820.4 4172.6 M732.0 4180.0 L732.9 4203.1 L715.9 4203.1 L714.3 4259.4 L732.0 4261.0 L732.0 4279.6 M732.9 4203.1 L785.0 4205.7 L822.0 4208.0 M666.1 4199.3 L684.7 4199.9 L685.4 4249.8 M706.2 4179.0 L701.4 4203.1 M694.4 4249.8 L694.4 4279.6 M714.3 4236.9 L749.6 4239.1 L749.6 4228.2 L776.0 4228.2 L776.0 4253.0 L749.6 4253.0 L749.6 4239.1 M776.0 4239.1 L805.9 4239.1 L805.9 4264.2 L781.8 4264.9 L781.8 4279.6 M805.9 4239.1 L820.4 4238.5 M797.9 4264.2 L797.9 4279.6 M735.2 4265.8 L735.2 4276.4 L748.0 4276.4 L748.0 4265.8" fill="none" stroke="#8c8c8c" stroke-width="0.7"/>
<polygon points="666.1,2476.2 687.0,2473.9 842.9,2473.0 852.5,2477.8 852.5,2482.6 874.4,2482.6 874.4,2497.1 853.1,2497.7 853.1,2511.5 872.4,2511.5 872.4,2538.2 853.1,2538.9 852.5,2562.0 836.4,2562.0 836.4,2487.4 756.1,2490.6 727.1,2493.9 666.1,2498.0" fill="#ff0037"/>
<polygon points="852.5,2559.1 870.2,2559.1 870.2,2599.3 852.5,2599.3" fill="#ff0037"/>
<polygon points="666.1,2600.6 852.5,2600.6 852.5,2608.9 750.3,2609.6 750.3,2621.8 728.8,2621.8 728.8,2609.6 666.1,2608.0" fill="#ff0037"/>
<polygon points="848.3,2623.4 873.4,2623.4 873.4,2632.7 848.3,2632.7" fill="#ff0037"/>
<polygon points="848.3,2634.6 873.4,2634.6 873.4,2644.9 848.3,2644.9" fill="#ff0037"/>
<polygon points="846.1,2645.6 849.9,2645.6 849.9,2652.0 862.8,2652.0 862.8,2657.8 849.9,2657.8 850.9,2702.8 846.7,2702.8" fill="#ff0037"/>
<polygon points="832.2,2702.1 849.3,2702.1 849.3,2709.9 858.9,2709.9 858.9,2719.5 849.3,2719.5 848.6,2736.5 849.3,2774.1 857.3,2774.1 857.3,2810.5 852.5,2811.4 853.1,2863.5 858.9,2863.5 858.9,2879.6 855.7,2911.7 862.8,2912.4 860.5,2966.4 855.7,2968.0 857.3,2998.5 837.1,2998.5 834.8,2996.9 834.8,2972.8 851.9,2972.8 850.9,2927.8 829.4,2927.1 830.0,2911.1 826.1,2898.9 826.1,2889.9 816.5,2889.9 816.5,2878.0 839.6,2877.0 839.6,2850.6 835.8,2850.0 836.4,2810.5 840.3,2809.5 839.6,2767.1 831.6,2766.4 831.6,2736.5 841.2,2735.6 841.2,2707.6 832.2,2707.6" fill="#ff0037"/>
<polygon points="666.1,2751.6 691.8,2751.6 760.9,2757.4 830.0,2762.2 839.6,2763.2 839.6,2767.1 815.5,2763.9 781.8,2761.3 781.8,2763.9 759.3,2763.9 730.4,2765.5 691.8,2760.0 666.1,2759.0" fill="#ff0037"/>
<polygon points="666.1,2895.0 685.4,2894.0 730.4,2898.9 830.0,2908.5 830.0,2916.5 791.4,2913.3 730.4,2908.5 685.4,2903.7 666.1,2904.6" fill="#ff0037"/>
<polygon points="1175.9,2604.8 1178.8,2603.1 1178.8,2616.0 1172.3,2616.0" fill="#ff0037"/>
<polygon points="1161.1,2630.5 1165.9,2628.9 1154.6,2644.9 1151.4,2643.3" fill="#ff0037"/>
<polygon points="1170.7,2641.7 1175.9,2639.1 1161.1,2665.8 1156.2,2662.6" fill="#ff0037"/>
<polygon points="1140.2,2662.6 1145.0,2664.9 1130.5,2693.1 1127.3,2699.6 1114.5,2718.9 1104.8,2718.2 1125.7,2685.1" fill="#ff0037"/>
<polygon points="1153.0,2661.0 1162.7,2656.2 1147.6,2686.7 1138.6,2701.2 1132.1,2693.1 1146.6,2672.2" fill="#ff0037"/>
<polygon points="1083.9,2731.1 1093.6,2727.9 1112.9,2738.1 1058.2,2818.5 1048.6,2831.4 1047.0,2829.8 1055.6,2818.5 1041.5,2808.2 1051.8,2795.4 1047.0,2789.6 1059.8,2773.5 1061.4,2760.6 1071.1,2749.4 1074.3,2738.1" fill="#ff0037"/>
<polygon points="1020.3,2873.1 1051.1,2830.7 1055.6,2833.0 1020.3,2882.1" fill="#ff0037"/>
<polygon points="687.9,2469.1 701.4,2469.1 701.4,2473.9 687.9,2473.9" fill="#ff00ff"/>
<polygon points="743.2,2468.1 756.1,2467.2 772.8,2467.2 772.8,2473.9 743.2,2473.9" fill="#ff00ff"/>
<polygon points="988.1,2451.1 997.1,2451.1 1030.9,2466.5 1019.6,2487.4 1019.6,2501.9 1006.8,2511.5 1011.6,2518.9 1035.7,2520.2 1035.1,2597.4 1041.5,2597.4 1040.5,2682.9 1016.4,2680.9 1007.4,2669.0 1006.8,2641.7 995.5,2641.1 995.5,2597.4 1000.4,2596.7 1000.4,2521.2 994.6,2520.2 997.1,2514.8 988.1,2508.3" fill="#ff00ff"/>
<polygon points="859.6,2707.0 890.4,2707.0 890.4,2750.4 858.3,2747.1" fill="#ff00ff"/>
<polygon points="952.1,2792.1 984.3,2792.1 984.3,2858.7 957.0,2860.9 954.7,2827.5 952.1,2826.5" fill="#ff00ff"/>
<polygon points="985.9,2796.0 1003.6,2795.4 1005.2,2831.4 988.1,2833.0" fill="#ff00ff"/>
<polygon points="858.9,2862.5 891.7,2862.5 891.1,2968.0 889.5,3010.7 857.3,3008.1 857.3,2968.0 860.5,2966.4 862.8,2912.4 853.1,2911.1 855.7,2879.6" fill="#ff00ff"/>
<polygon points="955.4,3014.6 976.9,3014.6 976.9,3056.0 955.4,3056.0" fill="#ff00ff"/>
<polygon points="823.6,3078.5 862.1,3078.5 862.1,3085.6 823.6,3085.6" fill="#ff0037"/>
<polygon points="823.6,3100.4 862.1,3100.4 862.1,3134.8 858.3,3138.0 858.3,3149.2 842.9,3149.9 843.5,3184.6 842.2,3202.2 839.6,3213.5 844.5,3226.4 855.1,3226.4 855.1,3232.1 834.8,3232.8 832.6,3184.6 830.0,3158.9 827.4,3158.2 826.8,3147.6 822.0,3146.6 823.6,3134.8" fill="#ff0037"/>
<polygon points="834.8,3238.6 862.1,3237.6 862.8,3244.0 844.5,3245.0 844.5,3255.3 876.6,3255.3 876.6,3261.7 844.5,3262.4 844.5,3272.0 865.4,3272.0 865.4,3277.8 844.5,3277.8 844.5,3295.5 860.5,3295.5 860.5,3301.9 844.5,3301.9 844.5,3315.7 862.8,3315.7 862.8,3322.1 844.5,3322.1 842.9,3341.4 860.5,3341.4 860.5,3347.9 842.9,3347.9 842.2,3375.8 857.3,3375.8 857.3,3380.6 842.2,3381.3 842.2,3387.1 857.3,3387.1 857.3,3392.9 842.2,3393.5 842.2,3399.3 857.3,3399.3 857.3,3403.8 842.2,3404.8 842.2,3409.6 857.3,3409.6 857.3,3414.4 842.2,3415.4 842.2,3427.2 861.5,3429.5 861.5,3438.5 842.2,3436.9 840.3,3462.6 841.2,3470.6 854.1,3470.6 854.1,3475.5 841.2,3476.4 841.2,3481.9 854.1,3481.9 854.1,3486.7 841.2,3486.7 841.2,3494.8 852.5,3494.8 852.5,3499.6 841.2,3499.6 841.2,3504.4 852.5,3504.4 852.5,3509.2 841.2,3509.2 842.2,3557.4 840.3,3616.9 845.4,3616.9 845.4,3641.0 857.3,3641.0 857.3,3645.8 845.4,3646.8 845.4,3652.2 857.3,3652.2 857.3,3657.1 845.4,3657.7 844.5,3660.3 830.0,3666.7 830.0,3616.9 828.4,3560.6 826.1,3560.0 826.1,3554.2 829.4,3553.6 829.4,3461.0 827.4,3459.4 827.4,3428.9 831.6,3427.2 833.2,3377.4 836.4,3345.3 837.1,3281.0 835.8,3252.1 833.9,3251.4" fill="#ff0037"/>
<polygon points="666.1,3248.2 705.3,3248.2 705.3,3214.1 713.6,3214.1 713.6,3247.2 778.6,3246.3 834.8,3243.1 835.8,3251.4 778.6,3254.6 666.1,3254.6" fill="#ff0037"/>
<polygon points="677.3,3410.2 711.1,3410.2 754.5,3413.4 772.8,3413.4 773.8,3418.6 823.6,3421.8 823.6,3427.2 773.8,3422.4 754.5,3420.8 754.5,3417.6 711.1,3412.8 677.3,3412.1" fill="#ff0037"/>
<polygon points="666.1,3543.9 691.8,3543.9 714.3,3546.2 748.0,3552.6 747.1,3556.8 714.3,3551.0 691.8,3547.8 666.1,3547.8" fill="#ff0037"/>
<polygon points="666.1,3650.6 714.3,3654.5 830.0,3658.7 830.0,3666.7 768.9,3663.5 714.3,3660.3 666.1,3657.1" fill="#ff0037"/>
<polygon points="832.6,3673.1 857.3,3673.1 857.3,3676.0 832.6,3676.0" fill="#ff0037"/>
<polygon points="711.1,3134.8 714.3,3134.8 710.4,3211.9 678.3,3211.9 678.3,3204.5 707.2,3205.5" fill="#ffc2cd"/>
<polygon points="1076.9,3343.7 1124.1,3270.7 1126.4,3272.0 1079.1,3345.9" fill="#ffc2cd"/>
<polygon points="1126.4,3295.5 1161.1,3239.2 1178.8,3213.5 1178.8,3223.1 1164.3,3240.8 1128.9,3297.7" fill="#ffc2cd"/>
<polygon points="1135.4,3661.9 1156.2,3634.6 1175.9,3607.2 1178.8,3608.9 1157.9,3637.8 1138.6,3665.1" fill="#ffc2cd"/>
<polygon points="1132.1,3676.0 1137.0,3661.9 1140.2,3663.5 1135.4,3676.0" fill="#ffc2cd"/>
<polygon points="862.8,3070.5 889.5,3070.5 888.5,3134.8 862.1,3133.8" fill="#ff00ff"/>
<polygon points="954.7,3056.0 976.2,3056.0 976.2,3060.8 979.5,3060.8 978.5,3177.5 962.4,3177.5 962.4,3117.7 954.7,3117.1" fill="#ff00ff"/>
<polygon points="850.2,3519.5 881.4,3519.5 881.4,3543.0 850.2,3543.0" fill="#ff00ff"/>
<polygon points="832.6,3676.0 857.3,3676.0 857.3,3691.4 842.2,3692.1 842.2,3700.1 857.3,3700.1 857.3,3716.2 842.9,3717.1 842.9,3745.1 854.1,3745.1 854.1,3751.5 842.9,3751.5 842.9,3766.6 859.6,3766.6 859.6,3770.8 837.1,3770.8 837.1,3775.6 859.6,3775.6 859.6,3779.5 837.1,3780.5 837.1,3785.9 855.7,3785.9 855.7,3793.3 837.1,3793.3 836.4,3814.2 839.6,3819.0 838.0,3843.1 837.1,3867.2 854.1,3867.2 854.1,3887.5 837.1,3888.1 837.1,3894.6 854.1,3894.6 854.1,3903.6 837.1,3904.2 836.4,3962.1 858.3,3962.1 858.3,3978.1 835.8,3978.8 834.8,4029.6 850.9,4029.6 850.9,4035.4 828.4,4036.0 828.4,4048.2 836.4,4048.9 836.4,4046.3 855.1,4046.3 855.1,4064.3 837.1,4064.9 837.1,4122.8 830.6,4123.4 830.6,4148.5 855.1,4148.5 855.1,4154.3 834.8,4154.9 834.8,4188.7 855.7,4188.7 855.7,4205.7 836.4,4206.4 836.4,4232.1 833.9,4233.7 833.2,4279.6 819.7,4279.6 822.0,4206.4 820.4,4172.6 818.8,4122.8 822.0,4036.0 823.6,4029.6 823.6,3962.1 819.7,3926.1 826.8,3925.1 826.8,3889.8 828.4,3877.9 828.4,3814.2 833.2,3812.6 833.2,3740.3 827.4,3739.6 829.4,3720.4 832.6,3719.4" fill="#ff0037"/>
<polygon points="702.1,3809.4 828.4,3810.4 829.4,3814.2 736.8,3813.6 736.8,3815.8 702.1,3815.2" fill="#ff0037"/>
<polygon points="728.1,4038.6 788.9,4035.4 788.9,4031.2 823.6,4030.2 823.6,4038.6 799.5,4039.2 799.5,4040.8 728.1,4042.4" fill="#ff0037"/>
<polygon points="997.8,3936.4 1021.2,3920.3 1026.7,3925.1 1028.6,3983.9 1056.6,3983.9 1056.6,4033.4 1006.8,4033.4 1006.1,4095.5 996.5,4095.5 996.5,4033.4" fill="#ff0037"/>
<polygon points="1073.6,3984.6 1087.1,3962.7 1127.3,3988.4 1112.9,4011.9" fill="#ff0037"/>
<polygon points="1082.3,4099.3 1098.4,4099.3 1097.8,4140.5 1073.6,4140.5 1073.6,4110.6 1082.3,4109.9" fill="#ff0037"/>
<polygon points="1073.6,4166.2 1097.8,4166.2 1097.4,4245.6 1061.4,4245.6 1061.4,4206.4 1073.6,4205.7" fill="#ff0037"/>
<polygon points="933.5,3922.2 962.4,3922.2 962.4,3965.3 960.2,4048.2 937.7,4048.2 938.3,3961.4 933.5,3961.4" fill="#ff00ff"/>
<polygon points="934.8,4175.8 957.9,4175.8 957.6,4245.6 934.1,4244.9" fill="#ff00ff"/>
<polygon points="1133.8,3676.0 1135.4,3676.0 1073.6,3772.4 1071.7,3771.8" fill="#ff8095"/>
</g>
<rect x="666.5" y="2451.5" width="512.0" height="1829.0" fill="none" stroke="#b4b4b4" stroke-width="1"/>
<g clip-path="url(#cp_b3)">
<rect x="1298.5" y="2451.5" width="513.0" height="1829.0" fill="#fff"/>
<path d="M1479.3 2451.1 L1483.1 2460.1 L1483.1 2500.3 L1479.3 2630.5 M1500.2 2451.1 L1501.8 2532.4 L1505.0 2789.6 L1507.6 3056.0 M1566.7 2451.1 L1567.7 2542.1 L1570.9 2757.4 L1575.7 3056.0 M1575.7 2451.1 L1582.1 2516.4 L1583.8 2583.9 L1578.9 2673.9 L1580.5 2696.4 L1583.8 2707.6 L1581.5 2747.8 M1585.4 2773.5 L1585.4 2829.8 L1588.6 2869.9 L1585.4 2892.4 L1585.4 2963.1 L1590.2 2996.9 L1588.6 3056.0 M1795.9 2451.1 L1800.7 2564.6 L1807.1 2725.3 L1808.8 2837.8 L1811.0 3056.0 M1298.3 2717.2 L1417.6 2731.7 M1298.3 2749.4 L1487.3 2779.9 M1298.3 2770.3 L1337.9 2775.1 L1366.8 2779.3 L1411.8 2793.4 L1409.2 2812.1 M1298.3 2800.8 L1336.2 2805.6 L1487.3 2834.6 M1345.9 2775.1 L1342.7 2799.9 L1364.2 2801.8 L1366.8 2779.3 M1339.5 2773.5 L1336.2 2805.6 M1298.3 2816.9 L1333.0 2819.1 L1329.8 2847.4 M1298.3 2844.2 L1347.5 2850.6 L1445.5 2861.9 M1347.5 2850.6 L1345.9 2879.6 L1298.3 2873.1 M1402.1 2862.9 L1400.5 2876.4 M1402.1 2862.9 L1466.4 2869.9 L1461.6 2937.4 L1471.2 2940.6 L1464.8 3011.4 M1298.3 2884.4 L1308.9 2886.0 L1310.5 2889.9 L1339.5 2892.4 L1340.4 2886.0 L1358.8 2886.0 L1352.3 2995.3 M1353.3 2867.4 L1366.1 2868.3 L1365.2 2881.2 L1400.5 2886.0 M1298.3 2918.1 L1355.5 2925.2 L1472.9 2940.6 M1339.5 2935.8 L1345.9 2935.8 L1346.9 2925.2 M1374.8 2930.4 L1366.8 2995.3 M1373.2 2954.1 L1410.2 2958.3 L1408.6 2973.4 L1382.2 2970.2 L1382.2 2964.8 L1403.8 2967.0 L1405.4 2959.3 M1339.5 2959.9 L1353.3 2961.5 M1370.6 2964.8 L1382.2 2965.7 M1298.3 2991.4 L1352.3 2995.3 L1464.8 3011.4 M1298.3 3000.1 L1321.8 3003.3 M1359.7 3000.1 L1453.6 3013.0 M1362.0 3003.3 L1450.4 3016.2 M1329.8 2997.9 L1345.9 3000.1 M1384.5 3011.4 L1455.2 3019.4 M1390.9 3019.4 L1387.7 3046.7 M1397.3 3020.4 L1394.1 3046.7 M1435.9 3024.2 L1433.6 3052.5 M1424.6 3019.4 L1450.4 3026.8 M1469.6 2878.9 L1488.9 2880.2 M1464.8 2914.3 L1488.9 2915.6 M1472.9 2940.6 L1488.9 2942.2 L1488.3 2948.7 L1472.9 2947.1 M1469.6 2973.4 L1490.5 2975.4 M1468.0 2989.5 L1490.5 2992.1 M1490.5 2869.9 L1492.1 3014.6 M1487.3 2740.7 L1487.3 2779.9 M1488.9 2789.6 L1488.9 2820.1 M1575.7 2457.9 L1633.6 2452.1 M1580.5 2484.2 L1640.0 2477.8 L1640.0 2468.1 M1649.6 2477.1 L1733.2 2467.5 L1739.6 2508.3 L1795.9 2500.3 M1736.4 2451.1 L1739.6 2464.9 L1795.9 2456.9 M1582.1 2516.4 L1625.5 2513.1 L1730.0 2503.5 M1622.3 2479.4 L1627.1 2542.1 L1623.9 2580.6 M1696.2 2471.4 L1701.1 2505.1 M1581.5 2485.8 L1604.6 2498.7 L1583.8 2515.7 M1604.6 2498.7 L1623.3 2497.1 L1697.9 2489.0 M1654.5 2511.5 L1656.1 2532.4 M1665.7 2513.1 L1668.9 2543.7 M1627.1 2531.8 L1649.0 2529.9 L1649.6 2545.3 L1628.8 2546.9 M1648.0 2547.9 L1715.5 2539.5 L1717.1 2545.3 L1649.6 2552.4 M1660.9 2546.9 L1673.8 2546.9 L1673.8 2560.7 L1661.9 2560.7 L1660.9 2546.9 M1701.7 2505.1 L1717.1 2504.1 L1717.8 2527.6 L1704.3 2528.6 L1701.7 2505.1 M1715.5 2546.9 L1799.1 2538.9 L1800.7 2567.8 L1726.8 2572.6 M1713.9 2548.5 L1712.3 2574.2 M1583.8 2584.5 L1652.9 2577.4 L1713.9 2572.6 M1588.6 2590.9 L1646.4 2582.2 M1581.5 2556.5 L1589.2 2556.5 L1590.2 2582.2 M1652.9 2577.4 L1656.1 2627.2 M1619.1 2584.5 L1620.7 2596.7 L1611.1 2598.3 L1612.7 2609.6 L1607.9 2609.6 L1608.5 2625.6 L1617.5 2625.6 L1617.5 2616.6 L1632.9 2617.6 M1588.6 2630.5 L1622.3 2626.3 L1710.7 2617.6 M1622.3 2626.3 L1625.5 2669.0 M1641.6 2625.0 L1673.8 2623.1 L1673.8 2631.4 L1636.8 2632.7 M1710.7 2584.5 L1712.3 2608.0 L1723.6 2607.0 L1723.6 2617.6 L1712.3 2618.6 L1716.5 2661.0 M1723.6 2612.1 L1742.2 2611.2 L1742.2 2603.8 L1749.3 2603.8 L1754.1 2657.8 M1587.9 2671.3 L1675.4 2663.6 L1736.4 2657.8 L1802.3 2652.0 L1800.7 2567.8 M1620.7 2669.0 L1620.1 2689.9 L1628.8 2695.7 L1628.8 2707.6 M1675.4 2663.6 L1677.0 2691.5 M1691.4 2672.2 L1692.1 2691.5 M1735.8 2658.4 L1736.4 2689.9 M1583.8 2707.6 L1628.8 2707.6 L1648.0 2706.0 L1649.0 2695.7 L1673.8 2694.8 L1674.7 2699.6 L1696.2 2691.5 L1747.7 2689.3 L1749.3 2715.6 M1636.8 2707.6 L1636.8 2800.8 M1696.2 2691.5 L1697.2 2719.5 L1730.0 2718.9 L1731.6 2746.2 L1758.9 2743.9 L1758.9 2729.1 L1779.8 2729.1 L1779.8 2693.1 M1607.9 2747.8 L1707.5 2749.4 L1717.1 2750.4 L1717.1 2745.2 L1731.6 2746.2 M1607.9 2747.8 L1606.2 2773.5 L1601.4 2774.1 L1601.4 2799.2 L1585.4 2799.9 M1707.5 2718.9 L1706.9 2749.4 M1717.8 2750.4 L1717.8 2778.3 L1636.8 2775.1 M1779.8 2729.1 L1803.9 2727.9 M1758.9 2743.9 L1758.9 2749.4 L1798.1 2747.1 L1800.1 2760.6 L1786.2 2762.2 M1733.2 2774.1 L1777.6 2765.5 L1780.8 2795.4 M1733.2 2774.1 L1732.6 2801.8 L1617.5 2799.9 L1617.5 2829.8 M1732.6 2786.4 L1742.9 2784.8 M1586.0 2829.8 L1709.1 2832.0 L1707.5 2873.8 L1649.0 2869.9 M1723.6 2801.8 L1722.0 2836.2 L1746.1 2837.1 L1746.1 2829.8 M1768.6 2837.8 L1769.2 2833.0 L1786.2 2833.0 L1787.2 2838.4 M1723.6 2805.6 L1807.1 2802.4 M1709.1 2832.0 L1723.6 2833.0 M1722.0 2836.2 L1811.0 2838.4 M1605.3 2830.7 L1605.3 2840.4 L1618.1 2840.4 L1618.1 2869.3 L1588.6 2868.3 M1722.0 2868.3 L1811.0 2869.9 M1722.0 2868.3 L1721.0 2902.1 L1768.6 2905.3 L1811.0 2905.3 M1650.3 2869.9 L1649.0 2895.6 M1670.5 2872.5 L1669.6 2897.2 L1705.9 2900.5 L1706.9 2873.8 M1586.0 2892.4 L1635.2 2896.3 L1633.6 2922.0 L1585.4 2918.1 M1603.0 2896.3 L1601.4 2919.8 M1633.6 2922.0 L1728.4 2931.0 M1705.9 2900.5 L1704.3 2927.8 M1768.6 2905.3 L1767.9 2933.6 L1751.9 2932.6 L1751.9 2918.8 L1767.0 2918.8 M1767.9 2933.6 L1773.4 2934.2 L1775.0 2963.1 M1585.4 2942.2 L1616.9 2945.5 L1618.1 2923.0 M1616.9 2945.5 L1656.1 2950.3 L1665.7 2951.9 L1664.1 2931.0 M1656.1 2950.3 L1654.5 2958.3 L1664.1 2966.4 L1668.9 2967.0 L1669.6 2952.9 M1669.6 2952.9 L1746.1 2959.9 L1746.7 2970.2 L1791.1 2974.4 L1791.7 2960.6 L1808.8 2959.3 M1585.4 2963.1 L1623.9 2967.0 L1656.1 2969.6 M1627.1 2947.1 L1622.3 3000.1 M1656.1 2969.6 L1653.5 3001.7 L1649.6 3029.0 L1646.4 3056.0 M1681.8 2976.0 L1680.2 3004.9 M1656.1 2969.6 L1742.9 2980.8 L1767.0 2982.4 M1746.1 2960.6 L1742.9 3014.6 L1781.4 3018.4 L1811.0 3019.4 M1767.0 2982.4 L1763.8 3016.2 M1589.2 2996.9 L1614.3 2999.1 L1652.9 3001.7 L1680.2 3004.9 L1723.6 3011.4 L1717.1 3056.0 M1614.3 2999.1 L1611.7 3056.0 M1589.2 3018.4 L1611.7 3019.4 M1791.1 2974.4 L1789.5 2982.4 M1797.5 3019.4 L1798.1 3056.0" fill="none" stroke="#8c8c8c" stroke-width="0.7"/>
<path d="M1506.6 3056.0 L1506.6 3149.2 M1507.6 3261.7 L1511.4 3473.9 L1513.0 3676.0 M1577.3 3065.6 L1800.7 3080.1 L1810.4 3075.3 M1578.9 3056.0 L1807.1 3076.9 M1578.3 3097.8 L1585.4 3089.8 L1811.0 3114.5 M1578.3 3097.8 L1578.3 3236.0 L1583.8 3377.4 L1582.1 3676.0 M1583.8 3097.8 L1585.4 3236.0 L1591.8 3409.6 L1591.8 3676.0 M1583.8 3097.8 L1656.1 3103.6 L1652.9 3130.6 L1583.8 3124.1 M1588.6 3150.8 L1643.2 3155.0 L1646.4 3130.6 M1656.1 3103.6 L1676.0 3104.9 L1668.9 3160.5 M1676.0 3109.0 L1693.0 3110.6 L1686.6 3162.1 M1693.0 3104.2 L1733.2 3109.0 L1728.4 3165.3 L1643.2 3158.2 M1733.2 3113.9 L1755.7 3115.5 L1754.1 3168.5 M1755.7 3118.7 L1771.8 3118.7 L1775.0 3211.9 M1771.8 3114.5 L1811.0 3114.5 M1728.4 3165.3 L1755.7 3167.9 L1797.5 3166.9 M1583.8 3174.3 L1592.4 3174.3 L1592.4 3204.5 L1583.8 3203.9 M1592.4 3174.3 L1640.0 3175.6 M1592.4 3204.5 L1636.8 3209.6 L1640.0 3158.9 M1649.6 3166.9 L1648.0 3210.3 M1681.8 3163.7 L1681.8 3210.3 M1697.9 3162.1 L1696.2 3210.9 L1742.9 3211.9 L1811.0 3210.9 M1720.4 3165.3 L1720.4 3210.9 M1757.3 3166.9 L1758.9 3210.9 M1585.4 3221.5 L1587.0 3239.2 L1591.8 3236.6 L1643.2 3240.8 L1694.6 3251.4 L1694.6 3253.7 L1730.0 3257.9 L1811.0 3259.1 M1640.0 3210.3 L1641.6 3239.9 M1742.9 3211.9 L1741.2 3257.9 M1762.1 3212.9 L1758.9 3257.9 M1730.0 3239.9 L1758.9 3239.2 M1591.8 3277.1 L1643.2 3281.6 L1717.1 3289.0 L1723.6 3288.1 L1726.8 3261.7 M1587.0 3277.8 L1586.0 3300.3 L1593.4 3300.9 M1643.2 3281.6 L1639.4 3326.0 M1593.4 3322.8 L1633.6 3326.6 L1710.7 3334.0 L1811.0 3346.9 M1723.6 3288.1 L1768.6 3293.2 L1811.0 3292.2 M1770.2 3290.0 L1797.5 3297.1 L1794.3 3322.8 L1731.6 3315.7 M1720.4 3289.0 L1719.7 3313.1 L1726.8 3313.1 L1726.1 3335.0 M1800.1 3260.1 L1799.1 3290.6 M1633.6 3326.6 L1630.4 3362.0 L1612.7 3359.8 M1672.1 3338.9 L1691.4 3340.5 L1688.2 3383.2 L1709.1 3384.5 L1712.3 3335.0 M1672.1 3338.9 L1670.5 3366.2 L1652.9 3365.2 L1654.5 3374.2 L1664.1 3374.2 L1664.1 3367.1 M1591.1 3358.8 L1612.7 3359.8 L1612.7 3377.4 L1630.4 3380.0 L1632.0 3363.0 L1670.5 3367.1 M1591.1 3376.8 L1604.0 3377.4 L1604.6 3404.8 L1591.1 3403.8 M1750.9 3340.5 L1746.1 3387.1 L1715.5 3384.5 L1715.5 3392.9 L1699.5 3393.5 L1697.9 3412.8 M1755.7 3342.1 L1811.0 3347.9 M1804.6 3358.1 L1801.4 3390.9 L1746.1 3387.1 M1804.6 3358.1 L1811.0 3357.5 M1630.4 3380.0 L1628.8 3407.0 M1604.6 3404.8 L1697.9 3412.8 L1811.0 3424.0 M1591.1 3408.9 L1701.1 3420.8 L1713.3 3422.4 L1804.6 3428.9 L1802.3 3457.8 L1710.7 3451.4 M1615.9 3412.1 L1611.7 3441.7 M1642.6 3415.4 L1638.4 3444.9 L1642.6 3446.5 L1643.2 3483.5 M1591.1 3440.1 L1638.4 3444.9 M1664.1 3447.5 L1665.7 3441.7 L1686.6 3443.3 L1687.6 3449.8 L1699.5 3448.8 L1701.1 3420.8 M1710.7 3451.4 L1710.1 3467.4 L1722.0 3468.1 L1722.9 3480.9 L1810.4 3481.9 M1612.7 3471.3 L1640.0 3473.2 M1591.1 3480.9 L1643.2 3484.1 L1710.7 3481.9 M1591.1 3485.1 L1641.6 3486.7 M1641.6 3495.7 L1649.0 3495.7 L1649.6 3518.9 L1641.6 3518.9 L1641.6 3486.7 M1733.2 3481.9 L1734.8 3546.2 M1808.8 3481.9 L1807.1 3557.4 M1591.8 3520.5 L1671.5 3518.9 L1746.1 3516.3 L1807.1 3515.6 M1671.5 3518.9 L1672.1 3561.3 M1638.4 3519.5 L1638.4 3562.2 M1593.4 3563.9 L1688.9 3560.6 L1688.9 3551.0 L1705.9 3551.0 L1705.9 3560.6 L1712.3 3560.6 L1713.9 3615.3 M1736.4 3559.0 L1807.1 3556.8 M1593.4 3563.9 L1593.4 3604.0 L1603.0 3605.0 M1639.4 3583.1 L1638.4 3602.4 M1622.3 3604.0 L1713.9 3599.2 M1622.3 3604.0 L1623.3 3624.3 M1654.5 3603.1 L1654.5 3623.3 M1694.6 3600.8 L1695.3 3619.1 M1713.9 3588.0 L1722.9 3588.0 L1722.9 3577.4 L1733.2 3577.4 L1733.9 3587.0 L1752.5 3588.0 L1757.3 3615.3 M1755.7 3597.6 L1781.4 3595.4 L1804.6 3593.4 L1807.1 3613.7 M1595.0 3624.9 L1623.3 3624.3 L1713.9 3619.1 L1757.3 3615.3 L1808.8 3614.6 L1807.1 3676.0 M1595.0 3624.9 L1595.6 3649.0 L1607.9 3648.1 L1607.2 3624.9 M1607.9 3637.1 L1613.6 3637.1 L1614.3 3647.4 L1618.1 3648.1 L1618.1 3653.2 M1604.6 3653.2 L1665.7 3652.6 L1742.9 3652.2 M1642.6 3623.3 L1643.9 3652.6 M1668.9 3621.7 L1669.6 3652.6 M1741.2 3616.9 L1742.9 3676.0 M1665.7 3652.6 L1667.3 3676.0 M1749.9 3649.0 L1787.9 3646.8 L1807.1 3645.8 M1623.9 3653.9 L1623.3 3676.0 M1298.3 3593.4 L1321.8 3596.0 L1321.1 3608.9 L1312.1 3626.5 L1310.5 3653.9 L1298.3 3653.2 M1321.8 3608.9 L1360.4 3613.7 L1362.0 3602.4 M1336.2 3612.1 L1337.9 3634.6 L1379.6 3639.4 M1310.5 3653.9 L1379.6 3661.9 M1298.3 3665.1 L1344.3 3669.9 L1426.2 3676.0 M1472.2 3613.7 L1496.0 3615.9 L1496.0 3671.5" fill="none" stroke="#8c8c8c" stroke-width="0.7"/>
<path d="M1513.0 3676.0 L1514.6 3811.0 M1518.5 3881.7 L1517.9 3894.6 L1505.0 3909.0 L1488.9 3910.6 L1298.3 3883.3 M1298.3 3877.9 L1382.9 3888.1 L1479.3 3898.4 L1490.5 3900.4 L1501.8 3881.7 L1503.4 3676.0 M1298.3 3915.5 L1479.3 3935.7 L1505.0 3938.9 L1517.9 3952.4 L1521.1 3971.7 L1524.3 4280.3 M1298.3 3929.9 L1306.4 3930.6 L1307.3 3936.4 M1587.0 3676.0 L1585.4 3727.4 M1587.0 3730.6 L1590.2 3965.3 L1590.2 4280.3 M1596.6 3685.6 L1598.2 3735.5 L1601.4 3836.7 L1599.8 3955.6 L1598.2 4029.6 L1601.4 4077.8 L1603.0 4244.3 M1800.7 3676.0 L1800.1 3836.7 L1801.4 4061.7 L1795.9 4126.0 L1795.9 4280.3 M1803.9 3676.0 L1803.3 3997.4 L1800.1 4280.3 M1329.8 3684.0 L1352.3 3685.0 L1348.1 3709.8 L1392.5 3717.8 M1298.3 3704.3 L1329.8 3708.1 L1315.4 3761.2 L1378.0 3770.8 L1373.2 3815.8 L1304.1 3806.2 L1315.4 3761.2 M1298.3 3738.7 L1321.8 3741.9 M1298.3 3774.0 L1310.5 3775.6 M1298.3 3829.6 L1304.1 3806.2 M1376.4 3782.1 L1427.9 3788.5 M1374.8 3791.7 L1421.4 3796.5 M1373.2 3815.8 L1418.2 3821.3 M1388.6 3820.0 L1382.9 3888.1 M1298.3 3841.5 L1384.5 3852.1 M1387.7 3834.1 L1406.0 3838.3 L1401.5 3865.0 L1416.6 3867.2 L1410.2 3888.1 M1476.7 3831.9 L1472.2 3869.5 L1482.5 3871.4 L1479.3 3898.4 M1305.1 4002.2 L1298.3 4003.2 M1298.3 3968.5 L1305.1 3968.5 M1323.4 4045.6 L1323.4 4054.6 L1400.5 4051.4 L1401.5 4048.2 M1298.3 4056.9 L1323.4 4055.3 M1401.5 4051.4 L1503.4 4045.6 L1505.0 4195.1 M1444.6 4111.5 L1503.4 4109.9 M1435.9 4122.1 L1435.9 4129.9 M1467.1 4121.2 L1468.0 4129.9 M1441.4 4122.1 L1494.7 4119.6 M1471.2 4148.5 L1475.4 4177.4 L1504.4 4175.8 M1474.5 4189.6 L1505.0 4187.7 M1494.7 3992.6 L1497.9 3992.6 L1497.9 4023.1 L1494.7 4023.1 M1593.4 3685.6 L1633.6 3684.0 L1633.6 3735.5 M1614.3 3696.9 L1633.6 3695.3 M1614.3 3696.9 L1614.3 3735.5 M1595.0 3736.4 L1697.9 3735.5 L1697.9 3684.0 L1811.0 3677.6 M1697.9 3712.0 L1762.1 3712.0 L1775.0 3711.4 L1780.8 3738.7 M1762.1 3680.8 L1762.1 3712.0 M1697.9 3739.6 L1800.1 3739.6 M1654.5 3736.4 L1654.5 3778.9 M1677.9 3736.4 L1677.9 3778.9 M1603.7 3779.5 L1681.8 3778.9 L1681.8 3824.5 L1603.7 3824.5 M1632.6 3779.5 L1632.6 3824.5 M1603.7 3802.0 L1632.6 3802.0 M1648.0 3789.1 L1660.9 3789.1 L1660.9 3796.5 L1678.6 3796.5 L1678.6 3806.2 L1665.7 3806.2 M1639.4 3796.5 L1648.0 3796.5 M1704.3 3778.9 L1704.9 3811.0 L1730.6 3811.0 L1730.6 3823.9 M1744.5 3761.2 L1744.5 3843.8 L1800.1 3843.8 M1744.5 3779.5 L1800.1 3779.5 M1743.5 3798.8 L1751.9 3798.8 L1751.9 3823.2 L1743.5 3823.2 M1681.8 3824.5 L1744.5 3823.9 M1646.4 3824.5 L1646.4 3839.3 L1668.3 3839.3 L1668.3 3831.9 L1681.8 3830.3 M1602.1 3839.3 L1646.4 3839.3 M1673.8 3839.3 L1708.1 3839.9 L1708.1 3954.0 M1673.8 3839.3 L1670.5 3900.4 M1602.1 3900.4 L1688.2 3900.4 M1708.1 3881.7 L1800.7 3881.1 M1722.0 3881.7 L1721.0 3908.1 L1713.3 3908.1 M1712.3 3910.6 L1763.8 3909.0 M1771.8 3843.8 L1771.8 3881.1 M1775.0 3856.0 L1787.2 3856.0 L1787.2 3862.4 L1775.0 3862.4 L1775.0 3856.0 M1791.1 3844.8 L1796.9 3870.5 L1796.9 3881.1 M1782.1 3905.8 L1800.7 3905.8 M1782.1 3905.8 L1783.0 3955.0 M1599.8 3952.4 L1612.7 3952.4 M1639.4 3953.1 L1663.1 3953.1 L1706.9 3955.0 L1718.8 3955.6 L1800.7 3955.6 M1663.1 3953.1 L1661.9 4039.2 M1689.8 3955.0 L1688.9 4000.0 M1663.1 3970.1 L1689.8 3970.1 M1718.8 3955.6 L1717.1 4001.3 L1763.8 4001.3 L1763.8 3955.6 M1717.8 3971.7 L1763.8 3971.7 M1598.9 4000.6 L1661.9 4002.2 L1800.7 4001.3 M1612.7 4001.3 L1612.7 4038.6 M1621.4 4001.3 L1621.4 4020.6 M1598.9 4039.2 L1661.9 4039.2 L1718.8 4040.8 L1717.8 4001.3 M1707.5 4040.8 L1707.5 4079.4 M1601.4 4077.8 L1707.5 4079.4 L1749.9 4080.4 L1749.3 4039.9 M1749.9 4084.2 L1796.9 4084.2 L1801.4 4083.6 M1792.7 4061.7 L1800.7 4061.1 M1792.7 4061.7 L1792.7 4083.6 M1601.4 4099.6 L1667.3 4099.6 L1668.3 4119.6 M1601.4 4119.6 L1675.4 4120.2 L1708.1 4119.6 L1707.5 4079.4 M1708.1 4118.0 L1775.0 4118.0 L1775.0 4096.4 L1796.9 4096.4 M1675.4 4120.2 L1674.7 4161.4 M1701.1 4120.2 L1701.1 4136.3 L1691.4 4136.3 M1601.4 4138.9 L1674.7 4140.5 M1601.4 4161.4 L1674.7 4161.4 L1697.2 4163.0 L1795.9 4163.0 M1697.2 4163.0 L1696.2 4212.1 M1761.5 4163.0 L1761.5 4189.6 L1795.9 4189.6 M1601.4 4212.8 L1696.2 4212.1 L1795.9 4215.4 M1704.9 4203.1 L1704.9 4215.4 M1718.8 4202.5 L1745.4 4202.5 L1745.4 4215.4 M1648.0 4213.4 L1648.0 4245.6 L1697.9 4246.5 M1606.6 4245.6 L1638.4 4244.9 L1638.4 4259.4 L1606.6 4259.4 M1636.1 4259.4 L1635.2 4280.3 M1697.9 4216.0 L1697.9 4280.3 M1731.6 4249.8 L1731.6 4275.5" fill="none" stroke="#8c8c8c" stroke-width="0.7"/>
<polygon points="1329.8,2457.9 1446.5,2469.1 1449.7,2627.2 1333.0,2616.0" fill="#ffa500"/>
<polygon points="1298.3,2610.2 1482.5,2630.5 1475.4,2697.0 1298.3,2677.7" fill="#00dd00"/>
<polygon points="1415.0,2696.4 1424.0,2697.0 1424.6,2693.1 1428.5,2693.8 1428.5,2695.7 1489.6,2702.8 1488.9,2740.7 1417.6,2732.4 1418.2,2703.4 1415.0,2703.4" fill="#00dd00"/>
<polygon points="1450.4,2820.1 1496.0,2826.5 1493.8,2869.3 1444.9,2861.9" fill="#00dd00"/>
<polygon points="1458.4,3013.0 1464.8,3013.0 1465.8,3017.8 1488.3,3017.8 1488.9,3015.2 1497.0,3016.2 1497.0,3056.0 1455.2,3056.0 1456.1,3037.1" fill="#00dd00"/>
<polygon points="1298.3,3037.7 1379.6,3046.7 1455.2,3054.8 1455.2,3056.0 1298.3,3056.0" fill="#00dd00"/>
<polygon points="1571.9,2485.8 1580.5,2485.8 1581.5,2521.2 1572.5,2521.8" fill="#ff0037"/>
<polygon points="1578.3,2590.9 1584.7,2590.9 1587.9,2670.6 1578.3,2672.2 1577.3,2635.3 1579.6,2633.7" fill="#ff0037"/>
<polygon points="1607.9,3053.1 1640.0,3054.8 1640.0,3056.0 1607.9,3056.0" fill="#ff0037"/>
<polygon points="1298.3,3056.0 1487.3,3056.0 1487.3,3060.8 1494.7,3061.8 1494.7,3133.1 1492.1,3133.8 1493.8,3236.0 1453.6,3234.4 1298.3,3214.1" fill="#00dd00"/>
<polygon points="1298.3,3430.5 1458.4,3446.5 1460.0,3531.1 1496.0,3536.5 1496.0,3615.3 1472.2,3612.7 1470.3,3665.1 1500.2,3671.5 1500.2,3676.0 1426.2,3676.0 1426.2,3668.3 1379.6,3660.9 1384.5,3604.0 1298.3,3593.4" fill="#00dd00"/>
<polygon points="1298.3,3217.4 1453.6,3235.0 1488.9,3236.6 1488.9,3244.0 1492.8,3245.0 1494.7,3369.4 1491.5,3369.4 1492.8,3450.7 1458.4,3446.5 1298.3,3430.5" fill="#ffa500"/>
<polygon points="1607.9,3056.0 1646.4,3056.0 1645.8,3064.0 1607.9,3060.8" fill="#ff0037"/>
<polygon points="1591.8,3088.8 1626.5,3093.0 1625.9,3097.8 1591.1,3095.2" fill="#ff0037"/>
<polygon points="1426.2,3676.0 1500.2,3676.0 1501.1,3784.6 1499.2,3831.9 1418.2,3821.3 1427.9,3778.2 1382.2,3770.8 1390.9,3721.0 1393.1,3730.0 1424.6,3730.0" fill="#00dd00"/>
<polygon points="1307.3,3936.4 1410.2,3949.9 1426.2,3951.8 1428.5,3947.6 1477.7,3955.0 1494.7,3970.1 1494.7,4045.6 1474.5,4046.3 1472.9,4048.9 1469.0,4048.9 1469.0,4045.6 1402.1,4048.2 1401.5,4023.1 1391.9,4023.8 1391.9,4040.8 1305.1,4044.0 1303.1,4011.9 1305.1,4002.2" fill="#00dd00"/>
<polygon points="1298.3,4063.3 1443.3,4056.9 1444.6,4111.5 1441.4,4113.1 1441.4,4122.1 1350.1,4126.6 1350.1,4122.1 1333.0,4122.8 1333.0,4135.0 1304.1,4135.6 1304.1,4124.4 1298.3,4124.4" fill="#00dd00"/>
<polygon points="1298.3,4124.4 1304.1,4124.4 1304.1,4135.6 1333.0,4135.0 1333.0,4124.4 1350.1,4124.4 1350.1,4134.0 1471.2,4129.9 1472.2,4196.1 1504.4,4195.1 1505.6,4280.3 1298.3,4280.3" fill="#00dd00"/>
<polygon points="1595.0,3779.5 1603.7,3779.5 1603.7,3802.0 1600.5,3803.0 1600.5,3812.6 1603.7,3813.6 1603.7,3824.5 1595.0,3824.5" fill="#ff0037"/>
<polygon points="1602.4,4244.3 1606.6,4244.3 1606.6,4280.3 1602.4,4280.3" fill="#ff0037"/>
<polygon points="1378.0,3057.6 1392.5,3058.6 1392.5,3062.4 1378.0,3061.8" fill="#c8f0c8"/>
<path d="M1298.3 3094.6 L1382.9 3103.6 L1384.5 3080.1 L1395.7 3081.1 L1395.7 3088.1 L1453.6 3093.9 L1463.2 3092.0 L1463.2 3056.0 M1298.3 3113.9 L1455.2 3133.1 L1494.7 3131.5 M1455.2 3133.1 L1453.6 3234.4 M1298.3 3163.7 L1453.6 3180.7 M1298.3 3515.6 L1460.0 3531.1 M1329.8 3522.1 L1326.6 3549.4 L1298.3 3554.2 M1326.6 3549.4 L1411.1 3559.0 L1413.4 3528.5 M1411.1 3551.0 L1475.4 3560.0 L1472.2 3612.7 M1326.6 3551.0 L1345.9 3576.7 L1325.0 3593.4 M1298.3 3574.1 L1342.7 3578.3 M1357.1 3578.3 L1455.2 3588.0 L1475.4 3560.0 M1455.2 3588.0 L1472.2 3612.7 M1384.5 3604.0 L1469.6 3615.3 M1390.9 3638.4 L1450.4 3645.8 L1470.3 3621.7 M1450.4 3645.8 L1469.6 3666.7" fill="none" stroke="#0a9a0a" stroke-width="0.7"/>
<path d="M1298.3 3259.1 L1455.2 3277.8 M1298.3 3281.6 L1455.2 3300.3 M1298.3 3303.5 L1455.2 3321.2 M1298.3 3346.9 L1456.8 3366.2 L1491.5 3369.4 M1298.3 3370.4 L1461.6 3390.3 M1455.2 3235.0 L1456.8 3366.2 M1461.6 3369.4 L1457.4 3446.5" fill="none" stroke="#c07800" stroke-width="0.7"/>
<polygon points="1323.4,4203.1 1329.8,4201.9 1332.1,4246.9 1326.6,4247.5" fill="#ffffff"/>
<polygon points="1325.0,4252.0 1328.9,4251.4 1329.8,4280.3 1326.6,4280.3" fill="#ffffff"/>
<path d="M1426.2 3726.8 L1490.5 3734.5 L1501.1 3733.9 M1484.1 3734.5 L1477.7 3781.4 M1427.9 3778.2 L1501.1 3784.6 M1307.3 3936.4 L1357.1 3994.9 L1373.2 3995.8 L1411.8 3961.4 L1410.2 3949.9 M1412.4 3961.4 L1423.0 3969.1 L1426.2 3951.8 M1373.2 3995.8 L1392.5 4008.7 L1390.9 3997.4 L1471.2 3969.1 L1423.0 3969.1 M1392.5 4008.7 L1433.6 4010.3 L1471.2 3969.1 M1433.6 4010.3 L1472.9 4047.2 M1471.2 3969.1 L1472.9 4029.6 L1494.7 4029.6 M1472.2 3984.6 L1494.7 3983.9 M1472.2 3999.0 L1494.7 3999.0 M1472.2 4129.9 L1408.6 4190.3 L1409.2 4198.3 M1298.3 4202.5 L1472.2 4196.1 M1329.8 4248.1 L1505.0 4244.3 M1298.3 4251.4 L1325.0 4252.0" fill="none" stroke="#0a9a0a" stroke-width="0.7"/>
</g>
<rect x="1298.5" y="2451.5" width="513.0" height="1829.0" fill="none" stroke="#b4b4b4" stroke-width="1"/>
</svg>
</body></html>
